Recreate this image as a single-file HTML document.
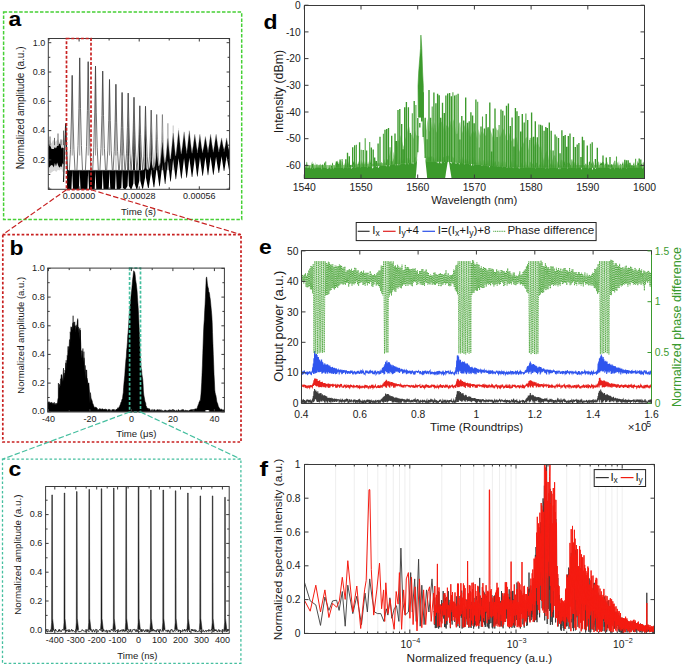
<!DOCTYPE html><html><head><meta charset="utf-8"><style>html,body{margin:0;padding:0;background:#fff;}svg{display:block;}</style></head><body><svg width="685" height="666" viewBox="0 0 685 666" style="font-family:'Liberation Sans', sans-serif"><rect width="685" height="666" fill="#fff"/><g><clipPath id="ca"><rect x="48.3" y="38.5" width="181.3" height="150.8"/></clipPath><g clip-path="url(#ca)"><path d="M48.3,147.5 49.4,145.5 50.5,146.2 51.6,149 52.7,149.1 53.8,148.9 54.9,146.9 56,148.6 57.1,145.7 58.2,146 59.3,143.6 60.4,144.3 61.5,148.5 62.6,147.5 63.7,148.3 63.7,164.5 62.6,163.2 61.5,167.3 60.4,166.3 59.3,167.7 58.2,165.6 57.1,162.4 56,166.6 54.9,163.1 53.8,167.4 52.7,165.4 51.6,165 50.5,165.8 49.4,167.5 48.3,167.1Z" fill="#000" stroke="none" stroke-width="0"/><path d="M48.3,140 49.9,140.6 51.5,143.4 53.1,139.8 54.7,141.9 56.3,141.1 57.9,139.1 59.5,142.4 61.1,140.7 62.7,139.5 64.3,138 64.3,173.1 62.7,172.1 61.1,168.7 59.5,170.5 57.9,169.7 56.3,172.1 54.7,170.4 53.1,171.3 51.5,172.6 49.9,173.4 48.3,171.6Z" fill="rgba(0,0,0,0.16)" stroke="none" stroke-width="0"/><line x1="50" y1="145.2" x2="50" y2="136.5" stroke="#555" stroke-width="0.9"/><line x1="54.5" y1="145.2" x2="54.5" y2="137.9" stroke="#555" stroke-width="0.9"/><line x1="58" y1="145.2" x2="58" y2="133.5" stroke="#555" stroke-width="0.9"/><line x1="61" y1="145.2" x2="61" y2="139.4" stroke="#555" stroke-width="0.9"/><line x1="63.5" y1="145.2" x2="63.5" y2="130.6" stroke="#555" stroke-width="0.9"/><path d="M63.5,181.9 65.7,123.3 67.5,174.5" fill="none" stroke="#222" stroke-width="1.2"/><path d="M67,170.2 70.7,170.2 71.2,170.2 72.2,170.2 73.2,170.2 73.7,170.2 76,170.2 78.2,170.2 78.7,170.2 79.7,170.2 80.7,170.2 81.2,170.2 84,170.2 86.7,170.2 87.2,170.2 88.2,170.2 89.2,170.2 89.7,170.2 91.8,170.2 94,170.2 94.5,170.2 95.5,170.2 96.5,170.2 97,170.2 99.1,170.2 101.2,170.2 101.7,170.2 102.7,170.2 103.7,170.2 104.2,170.2 106.1,170.2 108,170.2 108.5,170.2 109.5,170.2 110.5,170.2 111,170.2 112.7,170.2 114.4,170.2 114.9,170.2 115.9,170.2 116.9,170.2 117.4,170.2 119,170.2 120.6,170.2 121.1,170.2 122.1,170.2 123.1,170.2 123.6,170.2 125.1,170.2 126.7,170.2 127.2,170.2 128.2,170.2 129.2,170.2 129.7,170.2 131.1,170.2 132.5,170.2 133,170.2 134,170.2 135,170.2 135.5,170.2 136.9,170.2 138.3,170.2 138.8,170.2 139.8,170.2 140.8,170.2 141.3,170.2 142.7,170.1 144,169.7 144.5,169 145.5,167.5 146.5,169 147,169.7 148.3,169.3 149.5,168.3 150.1,165.8 151.2,160.8 152.3,165.8 152.9,168.3 153.9,167.7 154.9,166 155.5,161.7 156.7,152.8 157.9,161.7 158.5,166 159.6,165.3 160.3,162.7 161,156.1 162.4,142.5 163.8,156.1 164.5,162.7 165.2,162.2 165.7,159 166.5,152.5 167.9,138.4 169.3,152.5 170.1,159 170.6,158.8 170.9,155.4 171.7,148.3 173.2,133.1 174.7,148.3 175.5,155.4 175.9,155.7 176.2,152.7 177,145.7 178.6,130.3 180.2,145.7 181,152.7 181.3,154.1 181.6,151.5 182.5,145.5 184.1,131.8 185.7,145.5 186.6,151.5 186.7,153.5 186.9,151.2 187.7,144.9 189.3,130.6 190.9,144.9 191.7,151.2 192.1,153.3 192.3,150.9 193.2,146.1 194.8,134.3 196.5,146.1 197.3,150.9 197.4,153 197.6,150.7 198.4,145.9 199.9,134.3 201.4,145.9 202.2,150.7 202.7,152.8 202.9,150.5 203.8,146.5 205.4,136.5 207.1,146.5 207.9,150.5 208,152.6 208.2,150.2 209,145.6 210.6,134.3 212.2,145.6 213,150.2 213.3,152.3 213.6,150 214.4,145.4 216.1,134.3 217.8,145.4 218.6,150 218.8,152.1 219.1,149.7 219.9,146.6 221.6,137.9 223.2,146.6 224.1,149.7 224.1,151.8 224.3,149.5 225.1,146.4 226.6,137.9 228.1,146.4 228.9,149.5 229.3,151.6 229.5,149.3 230.4,146.3 232,137.9 233.6,146.3 234.5,149.3 234.7,151.4 234.9,149 235.7,146.1 237.3,137.9 238.9,146.1 239.7,149 237.5,157.1 237.3,155.6 237.2,157.1 234.9,170.4 234.4,170.4 232.2,157.3 232,155.9 231.8,157.3 229.6,170.6 229.1,170.6 226.8,157.6 226.6,156.1 226.4,157.6 224.3,171.1 223.8,171.1 221.8,157.8 221.6,156.3 221.4,157.8 219.1,173.1 218.6,173.1 216.2,158 216.1,156.6 215.9,158 213.6,174.7 213.1,174.7 210.8,158.3 210.6,156.8 210.4,158.3 208.2,175.2 207.8,175.2 205.6,158.5 205.4,157.1 205.2,158.5 202.9,175.8 202.4,175.8 200.1,158.8 199.9,157.3 199.8,158.8 197.6,176.4 197.1,176.4 195,159 194.8,157.5 194.7,159 192.3,177.1 191.8,177.1 189.5,159.3 189.3,157.8 189.2,159.3 186.9,177.8 186.4,177.8 184.2,159.5 184.1,158 183.9,159.5 181.6,178.5 181.1,178.5 178.8,159.7 178.6,158.3 178.4,159.7 176.1,179.3 175.6,179.3 173.3,160.4 173.2,158.9 173,160.4 170.8,181.4 170.3,181.4 168.1,162.3 167.9,160.4 167.7,162.3 165.4,183.9 164.9,183.9 162.6,165.5 162.4,162.3 162.2,165.5 159.8,186.3 159.3,186.3 157,169.6 156.7,164.4 156.4,169.6 154.3,187.2 153.6,187.2 151.5,173.6 151.2,166.2 150.9,173.6 148.7,188 148,188 145.9,177.4 145.5,167.6 145.1,177.4 143,188.8 142.3,188.8 140.3,180.7 139.8,168.7 139.3,180.7 137.3,189.2 136.5,189.2 134.6,183.6 134,169.5 133.4,183.6 131.5,189.2 130.7,189.2 128.9,186 128.2,170 127.5,186 125.6,189.2 124.7,189.2 122.9,187.9 122.1,170.2 121.3,187.9 119.5,189.2 118.5,189.2 116.7,189 115.9,170.2 115.1,189 113.2,189.2 112.2,189.2 110.3,189.2 109.5,170.2 108.7,189.2 106.6,189.2 105.6,189.2 103.5,189.2 102.7,170.2 101.9,189.2 99.6,189.2 98.6,189.2 96.3,189.2 95.5,170.2 94.7,189.2 92.3,189.2 91.3,189.2 89,189.2 88.2,170.2 87.4,189.2 84.5,189.2 83.5,189.2 80.5,189.2 79.7,170.2 78.9,189.2 76.5,189.2 75.5,189.2 73,189.2 72.2,170.2 71.4,189.2 67,189.2Z" fill="#000" stroke="none" stroke-width="0"/><path d="M70.7,170.2 71.2,170.2 72.2,170.2 73.2,170.2 73.7,170.2 76,170.2 78.2,170.2 78.7,170.2 79.7,170.2 80.7,170.2 81.2,170.2 84,170.2 86.7,170.2 87.2,170.2 88.2,170.2 89.2,170.2 89.7,170.2 91.8,170.2 94,170.2 94.5,170.2 95.5,170.2 96.5,170.2 97,170.2 99.1,170.2 101.2,170.2 101.7,170.2 102.7,170.2 103.7,170.2 104.2,170.2 106.1,170.2 108,170.2 108.5,170.2 109.5,170.2 110.5,170.2 111,170.2 112.7,170.2 114.4,170.2 114.9,170.2 115.9,170.2 116.9,170.2 117.4,170.2 119,170.2 120.6,170.2 121.1,170.2 122.1,170.2 123.1,170.2 123.6,170.2 125.1,170.2 126.7,170.2 127.2,170.2 128.2,170.2 129.2,170.2 129.7,170.2 131.1,170.2 132.5,170.2 133,170.2 134,170.2 135,170.2 135.5,170.2 136.9,170.2 138.3,170.2 138.8,170.2 139.8,170.2 140.8,170.2 141.3,170.2 142.7,170.1 144,169.7 144.5,169 145.5,167.5 146.5,169 147,169.7 148.3,169.3 149.5,168.3 150.1,165.8 151.2,160.8 152.3,165.8 152.9,168.3 153.9,167.7 154.9,166 155.5,161.7 156.7,152.8 157.9,161.7 158.5,166 159.6,165.3 160.3,162.7 161,156.1 162.4,142.5 163.8,156.1 164.5,162.7 165.2,162.2 165.7,159 166.5,152.5 167.9,138.4 169.3,152.5 170.1,159 170.6,158.8 170.9,155.4 171.7,148.3 173.2,133.1 174.7,148.3 175.5,155.4 175.9,155.7 176.2,152.7 177,145.7 178.6,130.3 180.2,145.7 181,152.7 181.3,154.1 181.6,151.5 182.5,145.5 184.1,131.8 185.7,145.5 186.6,151.5 186.7,153.5 186.9,151.2 187.7,144.9 189.3,130.6 190.9,144.9 191.7,151.2 192.1,153.3 192.3,150.9 193.2,146.1 194.8,134.3 196.5,146.1 197.3,150.9 197.4,153 197.6,150.7 198.4,145.9 199.9,134.3 201.4,145.9 202.2,150.7 202.7,152.8 202.9,150.5 203.8,146.5 205.4,136.5 207.1,146.5 207.9,150.5 208,152.6 208.2,150.2 209,145.6 210.6,134.3 212.2,145.6 213,150.2 213.3,152.3 213.6,150 214.4,145.4 216.1,134.3 217.8,145.4 218.6,150 218.8,152.1 219.1,149.7 219.9,146.6 221.6,137.9 223.2,146.6 224.1,149.7 224.1,151.8 224.3,149.5 225.1,146.4 226.6,137.9 228.1,146.4 228.9,149.5 229.3,151.6 229.5,149.3 230.4,146.3 232,137.9 233.6,146.3 234.5,149.3 234.7,151.4 234.9,149 235.7,146.1 237.3,137.9 238.9,146.1 239.7,149" fill="none" stroke="#777" stroke-width="0.7" stroke-opacity="0.45"/><path d="M69.4,170.2 L70.5,149.3 L71.4,118 L72.2,75.4 L73,118 L73.9,149.3 L75,170.2" fill="none" stroke="#5a5a5a" stroke-width="0.85" stroke-opacity="1.00"/><line x1="72.2" y1="75.4" x2="72.2" y2="155.5" stroke="#2a2a2a" stroke-width="0.8" stroke-opacity="0.60"/><path d="M76.9,170.2 L78,145.5 L78.9,108.4 L79.7,57.9 L80.5,108.4 L81.4,145.5 L82.5,170.2" fill="none" stroke="#5a5a5a" stroke-width="0.85" stroke-opacity="1.00"/><line x1="79.7" y1="57.9" x2="79.7" y2="155.5" stroke="#2a2a2a" stroke-width="0.8" stroke-opacity="0.60"/><path d="M85.4,170.2 L86.5,146.3 L87.4,110.5 L88.2,61.7 L89,110.5 L89.9,146.3 L91,170.2" fill="none" stroke="#5a5a5a" stroke-width="0.85" stroke-opacity="1.00"/><line x1="88.2" y1="61.7" x2="88.2" y2="155.5" stroke="#2a2a2a" stroke-width="0.8" stroke-opacity="0.60"/><path d="M92.7,170.2 L93.8,147.3 L94.7,112.9 L95.5,66.1 L96.3,112.9 L97.2,147.3 L98.3,170.2" fill="none" stroke="#5a5a5a" stroke-width="0.85" stroke-opacity="1.00"/><line x1="95.5" y1="66.1" x2="95.5" y2="155.5" stroke="#2a2a2a" stroke-width="0.8" stroke-opacity="0.60"/><path d="M99.9,170.2 L101,148.4 L101.9,115.7 L102.7,71.1 L103.5,115.7 L104.4,148.4 L105.5,170.2" fill="none" stroke="#5a5a5a" stroke-width="0.85" stroke-opacity="1.00"/><line x1="102.7" y1="71.1" x2="102.7" y2="155.5" stroke="#2a2a2a" stroke-width="0.8" stroke-opacity="0.60"/><path d="M106.7,170.2 L107.8,150.2 L108.7,120.3 L109.5,79.5 L110.3,120.3 L111.2,150.2 L112.3,170.2" fill="none" stroke="#5a5a5a" stroke-width="0.85" stroke-opacity="1.00"/><line x1="109.5" y1="79.5" x2="109.5" y2="155.5" stroke="#2a2a2a" stroke-width="0.8" stroke-opacity="0.60"/><path d="M113.1,170.2 L114.2,151.3 L115.1,122.9 L115.9,84.3 L116.7,122.9 L117.6,151.3 L118.7,170.2" fill="none" stroke="#5a5a5a" stroke-width="0.85" stroke-opacity="1.00"/><line x1="115.9" y1="84.3" x2="115.9" y2="155.5" stroke="#2a2a2a" stroke-width="0.8" stroke-opacity="0.60"/><path d="M114.8,170.2 L115.9,110.1 L117,170.2 Z" fill="#000" fill-opacity="0.15"/><path d="M119.3,170.2 L120.4,153.1 L121.3,127.5 L122.1,92.5 L122.9,127.5 L123.8,153.1 L124.9,170.2" fill="none" stroke="#5a5a5a" stroke-width="0.85" stroke-opacity="1.00"/><line x1="122.1" y1="92.5" x2="122.1" y2="155.5" stroke="#2a2a2a" stroke-width="0.8" stroke-opacity="0.60"/><path d="M121,170.2 L122.1,115.8 L123.2,170.2 Z" fill="#000" fill-opacity="0.41"/><path d="M125.4,170.2 L126.5,153.2 L127.4,127.8 L128.2,93.1 L129,127.8 L129.9,153.2 L131,170.2" fill="none" stroke="#5a5a5a" stroke-width="0.85" stroke-opacity="1.00"/><line x1="128.2" y1="93.1" x2="128.2" y2="155.5" stroke="#2a2a2a" stroke-width="0.8" stroke-opacity="0.60"/><path d="M127.1,170.2 L128.2,116.2 L129.3,170.2 Z" fill="#000" fill-opacity="0.69"/><path d="M131.2,170.2 L132.3,154.1 L133.2,130.1 L134,97.3 L134.8,130.1 L135.7,154.1 L136.8,170.2" fill="none" stroke="#5a5a5a" stroke-width="0.85" stroke-opacity="1.00"/><line x1="134" y1="97.3" x2="134" y2="155.5" stroke="#2a2a2a" stroke-width="0.8" stroke-opacity="0.60"/><path d="M132.9,170.2 L134,119.2 L135.1,170.2 Z" fill="#000" fill-opacity="0.91"/><path d="M137,170.2 L138.1,156 L139,134.8 L139.8,105.8 L140.6,134.8 L141.5,156 L142.6,170.2" fill="none" stroke="#5a5a5a" stroke-width="0.85" stroke-opacity="1.00"/><line x1="139.8" y1="105.8" x2="139.8" y2="155.5" stroke="#2a2a2a" stroke-width="0.8" stroke-opacity="0.60"/><path d="M138.7,170.2 L139.8,125.1 L140.9,170.2 Z" fill="#000" fill-opacity="1.00"/><path d="M142.7,170.2 L143.8,156.1 L144.7,135 L145.5,106.3 L146.3,135 L147.2,156.1 L148.3,170.2" fill="none" stroke="#5a5a5a" stroke-width="0.85" stroke-opacity="0.96"/><line x1="145.5" y1="106.3" x2="145.5" y2="155.5" stroke="#2a2a2a" stroke-width="0.8" stroke-opacity="0.58"/><path d="M144.4,170.2 L145.5,125.4 L146.6,170.2 Z" fill="#000" fill-opacity="0.96"/><path d="M148.4,170.2 L149.5,156.9 L150.4,137.1 L151.2,110.1 L152,137.1 L152.9,156.9 L154,170.2" fill="none" stroke="#5a5a5a" stroke-width="0.85" stroke-opacity="0.84"/><line x1="151.2" y1="110.1" x2="151.2" y2="155.5" stroke="#2a2a2a" stroke-width="0.8" stroke-opacity="0.51"/><path d="M150.1,170.2 L151.2,128.1 L152.3,170.2 Z" fill="#000" fill-opacity="0.84"/><path d="M153.9,170.2 L155,157.9 L155.9,139.5 L156.7,114.5 L157.5,139.5 L158.4,157.9 L159.5,170.2" fill="none" stroke="#5a5a5a" stroke-width="0.85" stroke-opacity="0.69"/><line x1="156.7" y1="114.5" x2="156.7" y2="155.5" stroke="#2a2a2a" stroke-width="0.8" stroke-opacity="0.41"/><path d="M155.6,170.2 L156.7,131.2 L157.8,170.2 Z" fill="#000" fill-opacity="0.69"/><path d="M159.6,170.2 L160.7,157.9 L161.6,139.5 L162.4,114.5 L163.2,139.5 L164.1,157.9 L165.2,170.2" fill="none" stroke="#5a5a5a" stroke-width="0.85" stroke-opacity="0.50"/><line x1="162.4" y1="114.5" x2="162.4" y2="155.5" stroke="#2a2a2a" stroke-width="0.8" stroke-opacity="0.30"/><path d="M161.3,170.2 L162.4,131.2 L163.5,170.2 Z" fill="#000" fill-opacity="0.50"/><path d="M165.1,170.2 L166.2,159.8 L167.1,144.4 L167.9,123.3 L168.7,144.4 L169.6,159.8 L170.7,170.2" fill="none" stroke="#5a5a5a" stroke-width="0.85" stroke-opacity="0.32"/><line x1="167.9" y1="123.3" x2="167.9" y2="155.5" stroke="#2a2a2a" stroke-width="0.8" stroke-opacity="0.19"/><path d="M166.8,170.2 L167.9,137.3 L169,170.2 Z" fill="#000" fill-opacity="0.32"/><path d="M170.4,170.2 L171.5,160.3 L172.4,145.6 L173.2,125.5 L174,145.6 L174.9,160.3 L176,170.2" fill="none" stroke="#5a5a5a" stroke-width="0.85" stroke-opacity="0.17"/><line x1="173.2" y1="125.5" x2="173.2" y2="155.5" stroke="#2a2a2a" stroke-width="0.8" stroke-opacity="0.10"/><path d="M172.1,170.2 L173.2,138.9 L174.3,170.2 Z" fill="#000" fill-opacity="0.17"/><path d="M175.8,170.2 L176.9,160.9 L177.8,146.9 L178.6,128 L179.4,146.9 L180.3,160.9 L181.4,170.2" fill="none" stroke="#5a5a5a" stroke-width="0.85" stroke-opacity="0.05"/><line x1="178.6" y1="128" x2="178.6" y2="155.5" stroke="#2a2a2a" stroke-width="0.8" stroke-opacity="0.03"/><path d="M177.5,170.2 L178.6,140.6 L179.7,170.2 Z" fill="#000" fill-opacity="0.05"/></g></g><rect x="48.3" y="38.5" width="181.3" height="150.8" fill="none" stroke="#3a3a3a" stroke-width="1"/><line x1="48.3" y1="189.2" x2="51.3" y2="189.2" stroke="#3a3a3a" stroke-width="1"/><line x1="229.6" y1="189.2" x2="226.6" y2="189.2" stroke="#3a3a3a" stroke-width="1"/><line x1="48.3" y1="174.5" x2="50.3" y2="174.5" stroke="#3a3a3a" stroke-width="1"/><line x1="229.6" y1="174.5" x2="227.6" y2="174.5" stroke="#3a3a3a" stroke-width="1"/><line x1="48.3" y1="159.9" x2="51.3" y2="159.9" stroke="#3a3a3a" stroke-width="1"/><line x1="229.6" y1="159.9" x2="226.6" y2="159.9" stroke="#3a3a3a" stroke-width="1"/><line x1="48.3" y1="145.2" x2="50.3" y2="145.2" stroke="#3a3a3a" stroke-width="1"/><line x1="229.6" y1="145.2" x2="227.6" y2="145.2" stroke="#3a3a3a" stroke-width="1"/><line x1="48.3" y1="130.6" x2="51.3" y2="130.6" stroke="#3a3a3a" stroke-width="1"/><line x1="229.6" y1="130.6" x2="226.6" y2="130.6" stroke="#3a3a3a" stroke-width="1"/><line x1="48.3" y1="115.9" x2="50.3" y2="115.9" stroke="#3a3a3a" stroke-width="1"/><line x1="229.6" y1="115.9" x2="227.6" y2="115.9" stroke="#3a3a3a" stroke-width="1"/><line x1="48.3" y1="101.3" x2="51.3" y2="101.3" stroke="#3a3a3a" stroke-width="1"/><line x1="229.6" y1="101.3" x2="226.6" y2="101.3" stroke="#3a3a3a" stroke-width="1"/><line x1="48.3" y1="86.6" x2="50.3" y2="86.6" stroke="#3a3a3a" stroke-width="1"/><line x1="229.6" y1="86.6" x2="227.6" y2="86.6" stroke="#3a3a3a" stroke-width="1"/><line x1="48.3" y1="72" x2="51.3" y2="72" stroke="#3a3a3a" stroke-width="1"/><line x1="229.6" y1="72" x2="226.6" y2="72" stroke="#3a3a3a" stroke-width="1"/><line x1="48.3" y1="57.3" x2="50.3" y2="57.3" stroke="#3a3a3a" stroke-width="1"/><line x1="229.6" y1="57.3" x2="227.6" y2="57.3" stroke="#3a3a3a" stroke-width="1"/><line x1="48.3" y1="42.7" x2="51.3" y2="42.7" stroke="#3a3a3a" stroke-width="1"/><line x1="229.6" y1="42.7" x2="226.6" y2="42.7" stroke="#3a3a3a" stroke-width="1"/><line x1="49" y1="189.3" x2="49" y2="187.3" stroke="#3a3a3a" stroke-width="1"/><line x1="49" y1="38.5" x2="49" y2="40.5" stroke="#3a3a3a" stroke-width="1"/><line x1="79.1" y1="189.3" x2="79.1" y2="186.3" stroke="#3a3a3a" stroke-width="1"/><line x1="79.1" y1="38.5" x2="79.1" y2="41.5" stroke="#3a3a3a" stroke-width="1"/><line x1="109.1" y1="189.3" x2="109.1" y2="187.3" stroke="#3a3a3a" stroke-width="1"/><line x1="109.1" y1="38.5" x2="109.1" y2="40.5" stroke="#3a3a3a" stroke-width="1"/><line x1="139.2" y1="189.3" x2="139.2" y2="186.3" stroke="#3a3a3a" stroke-width="1"/><line x1="139.2" y1="38.5" x2="139.2" y2="41.5" stroke="#3a3a3a" stroke-width="1"/><line x1="169.2" y1="189.3" x2="169.2" y2="187.3" stroke="#3a3a3a" stroke-width="1"/><line x1="169.2" y1="38.5" x2="169.2" y2="40.5" stroke="#3a3a3a" stroke-width="1"/><line x1="199.3" y1="189.3" x2="199.3" y2="186.3" stroke="#3a3a3a" stroke-width="1"/><line x1="199.3" y1="38.5" x2="199.3" y2="41.5" stroke="#3a3a3a" stroke-width="1"/><line x1="229.3" y1="189.3" x2="229.3" y2="187.3" stroke="#3a3a3a" stroke-width="1"/><line x1="229.3" y1="38.5" x2="229.3" y2="40.5" stroke="#3a3a3a" stroke-width="1"/><rect x="66.5" y="38.5" width="24.5" height="151.2" fill="none" stroke="#c82020" stroke-width="1.7" stroke-dasharray="3 1.8"/><text x="45.2" y="45.5" font-size="9" text-anchor="end" fill="#1a1a1a">1.0</text><text x="45.2" y="74.8" font-size="9" text-anchor="end" fill="#1a1a1a">0.8</text><text x="45.2" y="104.1" font-size="9" text-anchor="end" fill="#1a1a1a">0.6</text><text x="45.2" y="133.4" font-size="9" text-anchor="end" fill="#1a1a1a">0.4</text><text x="45.2" y="162.7" font-size="9" text-anchor="end" fill="#1a1a1a">0.2</text><text x="79.1" y="199.3" font-size="9" text-anchor="middle" fill="#1a1a1a">0.00000</text><text x="139.2" y="199.3" font-size="9" text-anchor="middle" fill="#1a1a1a">0.00028</text><text x="199.3" y="199.3" font-size="9" text-anchor="middle" fill="#1a1a1a">0.00056</text><text x="138.5" y="215" font-size="9.6" text-anchor="middle" fill="#1a1a1a">Time (s)</text><text x="23.7" y="107.9" font-size="10" text-anchor="middle" fill="#1a1a1a" transform="rotate(-90 23.7 107.9)">Normalized amplitude (a.u.)</text><clipPath id="cb"><rect x="47.7" y="268.1" width="176.7" height="143.89999999999998"/></clipPath><g clip-path="url(#cb)"><path d="M46.3,411.8 46.3,410.5 46.7,409.9 47.1,411 47.4,402.4 47.8,403.8 48.2,402 48.6,401.8 48.9,402.5 49.3,401.7 49.7,403.4 50.1,402.4 50.4,402.7 50.8,402.9 51.2,403.3 51.6,402.3 51.9,402.1 52.3,403.5 52.7,403 53,404.8 53.4,403 53.8,403.2 54.2,402.3 54.5,402.8 54.9,404.4 55.3,404.2 55.7,403.4 56,404.9 56.4,403.2 56.8,403.6 57.2,403.3 57.5,403 57.9,399.3 58.3,398.3 58.7,400.5 59,388.8 59.4,384.2 59.8,384.9 60.1,386.2 60.5,378.9 60.9,379 61.3,374.8 61.6,377.6 62,378.2 62.4,381.8 62.8,375.8 63.1,373.9 63.5,368.1 63.9,381 64.3,373 64.6,377.6 65,370.1 65.4,371.5 65.7,362.8 66.1,369.7 66.5,363.5 66.9,363 67.2,355.4 67.6,356.7 68,346.4 68.4,352 68.7,346.6 69.1,347.8 69.5,339.5 69.9,349.5 70.2,331.8 70.6,334.5 71,326.7 71.3,329.6 71.7,327 72.1,330.5 72.5,325.4 72.8,323.3 73.2,322.5 73.6,329.8 74,322 74.3,329.5 74.7,321.8 75.1,331.9 75.5,325.8 75.8,331 76.2,324.8 76.6,328.2 77,325.5 77.3,321.6 77.7,320.2 78.1,332.8 78.4,326.9 78.8,333.6 79.2,329.1 79.6,339.7 79.9,327.9 80.3,335.3 80.7,341.8 81.1,351.3 81.4,350.8 81.8,358.6 82.2,350.7 82.6,358.8 82.9,348.5 83.3,362.7 83.7,360 84,357.7 84.4,360.4 84.8,373.2 85.2,365.4 85.5,379.9 85.9,369.8 86.3,370.8 86.7,369.9 87,377.7 87.4,378.7 87.8,385.2 88.2,382.8 88.5,383.2 88.9,382.9 89.3,389.1 89.7,393.1 90,403.5 90.4,392.6 90.8,395.6 91.1,398.2 91.5,399.2 91.9,400.2 92.3,401.3 92.6,403.7 93,403.6 93.4,404.9 93.8,406.1 94.1,406.9 94.5,407.2 94.9,407.5 95.3,407.1 95.6,406.9 96,408.1 96.4,407.6 96.7,407.8 97.1,408.1 97.5,409.2 97.9,409.5 98.2,409.5 98.6,409.6 99,409.6 99.4,408.9 99.7,408.5 100.1,408.6 100.5,409.2 100.9,409 101.2,408.8 101.6,410 102,409.1 102.3,408.7 102.7,408.9 103.1,409 103.5,409.5 103.8,410.1 104.2,409 104.6,409.9 105,409.1 105.3,408.8 105.7,409.8 106.1,409.9 106.5,409 106.8,409.4 107.2,410.4 107.6,410.5 108,410.5 108.3,409.2 108.7,409.4 109.1,410.6 109.4,409.4 109.8,409.2 110.2,409.8 110.6,410.3 110.9,410 111.3,410.7 111.7,410.9 112.1,409.3 112.4,409.8 112.8,410 113.2,409.3 113.6,410.2 113.9,409.4 114.3,409.5 114.7,410.6 115,410.5 115.4,410.2 115.8,410 116.2,409.2 116.5,409.5 116.9,409 117.3,409.3 117.7,407.7 118,408.4 118.4,408 118.8,407.5 119.2,406.7 119.5,407.3 119.9,405.2 120.3,404.6 120.7,403.3 121,402.1 121.4,402.3 121.8,399.8 122.1,399.3 122.5,398.6 122.9,395 123.3,392.6 123.6,387.6 124,382.7 124.4,379 124.8,375.1 125.1,369.8 125.5,365 125.9,359.7 126.3,357 126.6,351 127,347.2 127.4,342.4 127.7,336.3 128.1,332.3 128.5,326.9 128.9,321.1 129.2,315.4 129.6,311.5 130,306.8 130.4,303.3 130.7,299.5 131.1,295.1 131.5,292 131.9,287.9 132.2,284.5 132.6,279.7 133,276.8 133.4,272.8 133.7,270.7 134.1,271.5 134.5,271.8 134.8,272.7 135.2,275.2 135.6,279.7 136,282.3 136.3,284 136.7,287.6 137.1,291.3 137.5,297.8 137.8,302 138.2,307.7 138.6,314.5 139,324.3 139.3,330.3 139.7,339.6 140.1,350.5 140.4,356.5 140.8,362.3 141.2,368.8 141.6,369.6 141.9,374 142.3,376.6 142.7,379 143.1,384.2 143.4,391 143.8,395 144.2,397 144.6,399.1 144.9,401.1 145.3,402.3 145.7,402.7 146,405.7 146.4,406.3 146.8,407.5 147.2,408.5 147.5,408.3 147.9,408.1 148.3,408.6 148.7,409.7 149,408.4 149.4,409.1 149.8,409.1 150.2,410.8 150.5,410.5 150.9,410.9 151.3,409.6 151.7,410.5 152,410.7 152.4,410.2 152.8,409.4 153.1,409.6 153.5,410.5 153.9,410.7 154.3,409.4 154.6,410 155,409.8 155.4,410.9 155.8,410.9 156.1,409.8 156.5,410.3 156.9,410.9 157.3,409.4 157.6,409.9 158,409.7 158.4,410.9 158.7,409.6 159.1,410.9 159.5,409.6 159.9,410.3 160.2,410.5 160.6,410.1 161,409.5 161.4,410.6 161.7,410.9 162.1,410.2 162.5,410.7 162.9,410.9 163.2,410.8 163.6,411 164,410.8 164.4,410.6 164.7,410.6 165.1,409.8 165.5,410.6 165.8,410.3 166.2,410.8 166.6,410.6 167,411.1 167.3,410.7 167.7,411.1 168.1,409.9 168.5,410.2 168.8,410.8 169.2,410.4 169.6,409.6 170,411 170.3,409.8 170.7,410.5 171.1,410.4 171.4,409.8 171.8,410.5 172.2,410.3 172.6,410 172.9,409.5 173.3,410.6 173.7,409.8 174.1,410 174.4,410.1 174.8,410.5 175.2,410.6 175.6,411.1 175.9,411 176.3,411.1 176.7,409.9 177,410.7 177.4,410.9 177.8,411 178.2,409.7 178.5,409.6 178.9,410 179.3,410.6 179.7,410.7 180,410.6 180.4,410.3 180.8,410.8 181.2,410.3 181.5,410.6 181.9,409.4 182.3,409.4 182.7,410.1 183,410.7 183.4,409.4 183.8,410.5 184.1,410.4 184.5,411.1 184.9,410.4 185.3,410.2 185.6,410.2 186,410.7 186.4,410.2 186.8,411 187.1,410.6 187.5,410.9 187.9,410.3 188.3,410.9 188.6,411 189,410.5 189.4,410.6 189.7,410 190.1,410.1 190.5,409.7 190.9,409.8 191.2,409.7 191.6,409.4 192,410.3 192.4,410.4 192.7,409.2 193.1,410.5 193.5,409.5 193.9,409.5 194.2,410.4 194.6,409 195,408.8 195.4,409.1 195.7,408.8 196.1,408.6 196.5,409.6 196.8,408.8 197.2,407.9 197.6,406.4 198,405.5 198.3,404.5 198.7,403.9 199.1,402 199.5,401.7 199.8,400.7 200.2,401.1 200.6,397.9 201,393.8 201.3,389.1 201.7,382.2 202.1,372.5 202.4,365.2 202.8,353.4 203.2,341.9 203.6,331 203.9,324.9 204.3,319.6 204.7,310.7 205.1,304.2 205.4,297.8 205.8,287.6 206.2,278.4 206.6,276.9 206.9,278.4 207.3,283.1 207.7,285.9 208.1,287.5 208.4,288.3 208.8,291.9 209.2,292.3 209.5,293.6 209.9,297 210.3,299.3 210.7,303.2 211,306.8 211.4,310.8 211.8,315.4 212.2,322.4 212.5,332.4 212.9,343.3 213.3,354.5 213.7,364.6 214,374 214.4,380.9 214.8,390.1 215.1,392.6 215.5,394.3 215.9,395.5 216.3,397.7 216.6,400 217,402.3 217.4,402.8 217.8,404.1 218.1,405.3 218.5,407.1 218.9,406.9 219.3,409.3 219.6,408.2 220,408.4 220.4,410.1 220.7,409.5 221.1,409 221.5,408.9 221.9,409.9 222.2,410.3 222.6,410.6 223,409.3 223.4,410.6 223.7,410 224.1,410.8 224.5,410.2 224.9,409.4 225.2,410.9 225.6,409.7 226,410.3 226.4,409.7 226.7,410 226.9,411.8Z" fill="#000" stroke="#000" stroke-width="0.5"/><ellipse cx="207.3" cy="411.0" rx="2.2" ry="0.9" fill="#fff"/><line x1="58.4" y1="404.6" x2="58.4" y2="383.1" stroke="#000" stroke-width="0.9"/><line x1="61.5" y1="404.6" x2="61.5" y2="374.5" stroke="#000" stroke-width="0.9"/><line x1="66.2" y1="404.6" x2="66.2" y2="360.2" stroke="#000" stroke-width="0.9"/><line x1="69.8" y1="404.6" x2="69.8" y2="350.1" stroke="#000" stroke-width="0.9"/><line x1="73.1" y1="404.6" x2="73.1" y2="315.7" stroke="#000" stroke-width="0.9"/><line x1="74.5" y1="404.6" x2="74.5" y2="325.8" stroke="#000" stroke-width="0.9"/><line x1="77.7" y1="404.6" x2="77.7" y2="318.6" stroke="#000" stroke-width="0.9"/><line x1="80.4" y1="404.6" x2="80.4" y2="330.1" stroke="#000" stroke-width="0.9"/><line x1="83.9" y1="404.6" x2="83.9" y2="351.6" stroke="#000" stroke-width="0.9"/><line x1="87.2" y1="404.6" x2="87.2" y2="380.3" stroke="#000" stroke-width="0.9"/></g><rect x="129.6" y="268.1" width="10.9" height="143.9" fill="none" stroke="#45bf9f" stroke-width="1.7" stroke-dasharray="3 1.8"/><rect x="47.7" y="268.1" width="176.7" height="143.9" fill="none" stroke="#3a3a3a" stroke-width="1"/><line x1="47.7" y1="411.8" x2="50.7" y2="411.8" stroke="#3a3a3a" stroke-width="1"/><line x1="224.4" y1="411.8" x2="221.4" y2="411.8" stroke="#3a3a3a" stroke-width="1"/><line x1="47.7" y1="397.5" x2="49.7" y2="397.5" stroke="#3a3a3a" stroke-width="1"/><line x1="224.4" y1="397.5" x2="222.4" y2="397.5" stroke="#3a3a3a" stroke-width="1"/><line x1="47.7" y1="383.1" x2="50.7" y2="383.1" stroke="#3a3a3a" stroke-width="1"/><line x1="224.4" y1="383.1" x2="221.4" y2="383.1" stroke="#3a3a3a" stroke-width="1"/><line x1="47.7" y1="368.8" x2="49.7" y2="368.8" stroke="#3a3a3a" stroke-width="1"/><line x1="224.4" y1="368.8" x2="222.4" y2="368.8" stroke="#3a3a3a" stroke-width="1"/><line x1="47.7" y1="354.4" x2="50.7" y2="354.4" stroke="#3a3a3a" stroke-width="1"/><line x1="224.4" y1="354.4" x2="221.4" y2="354.4" stroke="#3a3a3a" stroke-width="1"/><line x1="47.7" y1="340.1" x2="49.7" y2="340.1" stroke="#3a3a3a" stroke-width="1"/><line x1="224.4" y1="340.1" x2="222.4" y2="340.1" stroke="#3a3a3a" stroke-width="1"/><line x1="47.7" y1="325.8" x2="50.7" y2="325.8" stroke="#3a3a3a" stroke-width="1"/><line x1="224.4" y1="325.8" x2="221.4" y2="325.8" stroke="#3a3a3a" stroke-width="1"/><line x1="47.7" y1="311.4" x2="49.7" y2="311.4" stroke="#3a3a3a" stroke-width="1"/><line x1="224.4" y1="311.4" x2="222.4" y2="311.4" stroke="#3a3a3a" stroke-width="1"/><line x1="47.7" y1="297.1" x2="50.7" y2="297.1" stroke="#3a3a3a" stroke-width="1"/><line x1="224.4" y1="297.1" x2="221.4" y2="297.1" stroke="#3a3a3a" stroke-width="1"/><line x1="47.7" y1="282.7" x2="49.7" y2="282.7" stroke="#3a3a3a" stroke-width="1"/><line x1="224.4" y1="282.7" x2="222.4" y2="282.7" stroke="#3a3a3a" stroke-width="1"/><line x1="47.7" y1="268.4" x2="50.7" y2="268.4" stroke="#3a3a3a" stroke-width="1"/><line x1="224.4" y1="268.4" x2="221.4" y2="268.4" stroke="#3a3a3a" stroke-width="1"/><line x1="48.4" y1="412" x2="48.4" y2="409" stroke="#3a3a3a" stroke-width="1"/><line x1="48.4" y1="268.1" x2="48.4" y2="271.1" stroke="#3a3a3a" stroke-width="1"/><line x1="69.2" y1="412" x2="69.2" y2="410" stroke="#3a3a3a" stroke-width="1"/><line x1="69.2" y1="268.1" x2="69.2" y2="270.1" stroke="#3a3a3a" stroke-width="1"/><line x1="89.9" y1="412" x2="89.9" y2="409" stroke="#3a3a3a" stroke-width="1"/><line x1="89.9" y1="268.1" x2="89.9" y2="271.1" stroke="#3a3a3a" stroke-width="1"/><line x1="110.7" y1="412" x2="110.7" y2="410" stroke="#3a3a3a" stroke-width="1"/><line x1="110.7" y1="268.1" x2="110.7" y2="270.1" stroke="#3a3a3a" stroke-width="1"/><line x1="131.4" y1="412" x2="131.4" y2="409" stroke="#3a3a3a" stroke-width="1"/><line x1="131.4" y1="268.1" x2="131.4" y2="271.1" stroke="#3a3a3a" stroke-width="1"/><line x1="152.2" y1="412" x2="152.2" y2="410" stroke="#3a3a3a" stroke-width="1"/><line x1="152.2" y1="268.1" x2="152.2" y2="270.1" stroke="#3a3a3a" stroke-width="1"/><line x1="172.9" y1="412" x2="172.9" y2="409" stroke="#3a3a3a" stroke-width="1"/><line x1="172.9" y1="268.1" x2="172.9" y2="271.1" stroke="#3a3a3a" stroke-width="1"/><line x1="193.7" y1="412" x2="193.7" y2="410" stroke="#3a3a3a" stroke-width="1"/><line x1="193.7" y1="268.1" x2="193.7" y2="270.1" stroke="#3a3a3a" stroke-width="1"/><line x1="214.4" y1="412" x2="214.4" y2="409" stroke="#3a3a3a" stroke-width="1"/><line x1="214.4" y1="268.1" x2="214.4" y2="271.1" stroke="#3a3a3a" stroke-width="1"/><text x="44.9" y="270.9" font-size="9.2" text-anchor="end" fill="#1a1a1a">1.0</text><text x="44.9" y="299.6" font-size="9.2" text-anchor="end" fill="#1a1a1a">0.8</text><text x="44.9" y="328.3" font-size="9.2" text-anchor="end" fill="#1a1a1a">0.6</text><text x="44.9" y="356.9" font-size="9.2" text-anchor="end" fill="#1a1a1a">0.4</text><text x="44.9" y="385.6" font-size="9.2" text-anchor="end" fill="#1a1a1a">0.2</text><text x="44.9" y="414.3" font-size="9.2" text-anchor="end" fill="#1a1a1a">0.0</text><text x="48.4" y="422.3" font-size="9" text-anchor="middle" fill="#1a1a1a">-40</text><text x="89.9" y="422.3" font-size="9" text-anchor="middle" fill="#1a1a1a">-20</text><text x="131.4" y="422.3" font-size="9" text-anchor="middle" fill="#1a1a1a">0</text><text x="172.9" y="422.3" font-size="9" text-anchor="middle" fill="#1a1a1a">20</text><text x="214.4" y="422.3" font-size="9" text-anchor="middle" fill="#1a1a1a">40</text><text x="136.3" y="437" font-size="9.6" text-anchor="middle" fill="#1a1a1a">Time (μs)</text><text x="24.3" y="335.3" font-size="9.5" text-anchor="middle" fill="#1a1a1a" transform="rotate(-90 24.3 335.3)">Normalized amplitude (a.u.)</text><clipPath id="cc"><rect x="45.6" y="486.5" width="183.6" height="146.89999999999998"/></clipPath><g clip-path="url(#cc)"><path d="M45.6,631.4 46.1,629.5 46.5,630.7 47,632 47.4,632.1 47.9,630.7 48.3,630.8 48.8,631.2 49.2,631.7 49.7,631.1 50.1,631.2 50.6,629.7 51,632.1 51.5,629.9 51.9,629.7 52.4,631.8 52.8,629.4 53.3,630.1 53.7,629.5 54.2,631.3 54.6,631 55.1,631 55.5,629.2 56,630.4 56.4,631.1 56.9,630.9 57.3,631.3 57.8,632 58.2,631.8 58.7,629.7 59.1,631.3 59.6,629.4 60,631.4 60.5,631.3 60.9,630.6 61.4,631.6 61.8,631 62.3,629.4 62.7,629.6 63.2,629.8 63.6,630.3 64.1,629.5 64.5,629.4 65,630.5 65.4,630 65.9,632 66.3,630 66.8,630.8 67.2,629.9 67.7,630.2 68.1,631.3 68.6,632 69,629.4 69.5,631.7 69.9,630.7 70.4,631.1 70.8,631.2 71.3,630 71.7,629.3 72.2,631.4 72.6,630.2 73.1,631.2 73.5,630.5 74,631 74.4,631.6 74.9,631.6 75.3,631.5 75.8,629.5 76.2,630.7 76.7,631.5 77.1,629.5 77.6,629.2 78,630.8 78.5,631.7 78.9,631.5 79.4,631.8 79.8,631.1 80.3,631.8 80.7,631.4 81.2,631.4 81.6,630.5 82.1,629.5 82.5,629.9 83,630.9 83.4,630.9 83.9,630.6 84.3,631 84.8,631.1 85.2,631.9 85.7,631.3 86.1,629.3 86.6,631.7 87,630.7 87.5,630.3 87.9,629.6 88.4,631.5 88.8,631.3 89.3,631.4 89.7,631 90.2,630.8 90.6,629.4 91.1,629.7 91.5,629.6 92,632 92.4,632 92.9,630.1 93.3,629.5 93.8,630.7 94.2,630.4 94.7,632.1 95.1,631 95.6,629.4 96,629.7 96.5,629.6 96.9,629.3 97.4,631.4 97.8,631.8 98.3,631.7 98.7,630.6 99.2,630.1 99.6,629.4 100.1,630 100.5,630.2 101,629.9 101.4,630.8 101.9,630.5 102.3,632 102.8,629.9 103.2,631.4 103.7,629.5 104.1,630.2 104.6,631.2 105,631.7 105.5,631.4 105.9,630.3 106.4,630.1 106.8,631.8 107.3,631.9 107.7,630.6 108.2,630.4 108.6,631 109.1,631.5 109.5,630.4 110,632.1 110.4,631.2 110.9,630.8 111.3,629.3 111.8,630.2 112.2,629.6 112.7,630.7 113.1,631.4 113.6,631.4 114,629.3 114.5,630.1 114.9,631.2 115.4,632 115.8,630.7 116.3,630.2 116.7,630.9 117.2,631.4 117.6,630.2 118.1,629.4 118.5,631.5 119,632 119.4,631.1 119.9,630.9 120.3,630.1 120.8,631.5 121.2,629.8 121.7,630 122.1,630.6 122.6,631.5 123,629.3 123.5,631.2 123.9,629.7 124.4,631.4 124.8,631.5 125.3,629.9 125.7,631.3 126.2,629.4 126.6,630.7 127.1,631.6 127.5,631.5 128,630.9 128.4,630.2 128.9,629.4 129.3,631.7 129.8,631 130.2,631.5 130.7,629.3 131.1,631.7 131.6,632 132,631.9 132.5,631 132.9,629.5 133.4,629.6 133.8,630 134.3,629.2 134.7,629.4 135.2,631.2 135.6,631.6 136.1,629.4 136.5,630 137,632 137.4,630.2 137.9,631 138.3,631 138.8,631.1 139.2,631.6 139.7,632.1 140.1,631.3 140.6,631.1 141,629.4 141.5,631.7 141.9,629.3 142.4,631.5 142.8,631.1 143.3,629.7 143.7,629.7 144.2,630.9 144.6,632 145.1,630.7 145.5,631 146,629.5 146.4,631.5 146.9,631.1 147.3,629.5 147.8,632 148.2,630.9 148.7,629.8 149.1,629.9 149.5,632 150,632 150.4,631.9 150.9,629.5 151.3,631.4 151.8,630 152.2,629.5 152.7,631.1 153.1,631.3 153.6,629.3 154,630.3 154.5,631.3 154.9,630 155.4,631.2 155.8,631.3 156.3,632.1 156.7,629.9 157.2,629.5 157.6,630.3 158.1,629.4 158.5,632 159,631.4 159.4,630.7 159.9,629.3 160.3,629.4 160.8,631 161.2,631.4 161.7,630.9 162.1,630.7 162.6,629.4 163,631.6 163.5,629.8 163.9,630 164.4,629.7 164.8,629.9 165.3,630.4 165.7,631.2 166.2,631.2 166.6,631.1 167.1,629.9 167.5,631.9 168,631.5 168.4,629.9 168.9,631.4 169.3,631.9 169.8,632 170.2,630.5 170.7,631.2 171.1,629.3 171.6,629.6 172,629.3 172.5,631.3 172.9,631.9 173.4,631.8 173.8,630.7 174.3,630.1 174.7,630.8 175.2,631.4 175.6,630.9 176.1,630.3 176.5,630.2 177,629.9 177.4,629.7 177.9,630.2 178.3,631.8 178.8,629.7 179.2,631.3 179.7,630.5 180.1,631 180.6,630 181,631.5 181.5,631.4 181.9,631.4 182.4,631.7 182.8,629.6 183.3,630.4 183.7,631.2 184.2,631 184.6,629.2 185.1,630.6 185.5,631.4 186,629.8 186.4,630.2 186.9,629.3 187.3,631.8 187.8,630.7 188.2,629.7 188.7,629.7 189.1,629.5 189.6,632 190,631.3 190.5,631.8 190.9,631.6 191.4,629.3 191.8,630.4 192.3,629.4 192.7,631 193.2,629.6 193.6,630.8 194.1,631.4 194.5,629.9 195,629.4 195.4,631.8 195.9,630.4 196.3,630.3 196.8,631.5 197.2,631 197.7,631.7 198.1,631.5 198.6,631.4 199,630.4 199.5,630.2 199.9,631.5 200.4,632.1 200.8,631.2 201.3,630.2 201.7,631.6 202.2,631.2 202.6,631.5 203.1,629.8 203.5,630.5 204,631.9 204.4,631.8 204.9,631 205.3,630.5 205.8,630.3 206.2,631.8 206.7,631.6 207.1,630.1 207.6,630.9 208,631.3 208.5,631.2 208.9,629.4 209.4,631.2 209.8,630.5 210.3,631.1 210.7,630.9 211.2,629.6 211.6,629.2 212.1,631.1 212.5,631.5 213,630 213.4,631.5 213.9,632.1 214.3,629.5 214.8,630.9 215.2,629.7 215.7,630.9 216.1,629.6 216.6,630.8 217,631.6 217.5,632.1 217.9,630.5 218.4,630.3 218.8,629.5 219.3,631.8 219.7,630.3 220.2,631 220.6,630.7 221.1,631.7 221.5,631.3 222,630.6 222.4,629.4 222.9,631.8 223.3,630.7 223.8,629.8 224.2,629.3 224.7,631.5 225.1,631.7 225.6,629.4 226,629.3 226.5,630.7 226.9,632 227.4,629.4 227.8,631 228.3,629.5 228.7,630.3 229.2,629.7" fill="none" stroke="#222" stroke-width="0.9"/><path d="M51.1,629.8 51.6,622.6 51.8,494.9 52.4,494.9 52.6,618.3 53.9,629.8" fill="#1a1a1a" stroke="#1a1a1a" stroke-width="0.5"/><path d="M63.5,629.8 64,622.6 64.2,493 64.8,493 65,618.3 66.2,629.8" fill="#1a1a1a" stroke="#1a1a1a" stroke-width="0.5"/><path d="M75.8,629.8 76.3,622.6 76.5,491.6 77.1,491.6 77.3,618.3 78.6,629.8" fill="#1a1a1a" stroke="#1a1a1a" stroke-width="0.5"/><path d="M88.2,629.8 88.7,622.6 88.9,489.4 89.5,489.4 89.7,618.3 91,629.8" fill="#1a1a1a" stroke="#1a1a1a" stroke-width="0.5"/><path d="M100.5,629.8 101,622.6 101.2,488.7 101.8,488.7 102,618.3 103.3,629.8" fill="#1a1a1a" stroke="#1a1a1a" stroke-width="0.5"/><path d="M112.8,629.8 113.4,622.6 113.5,488 114.1,488 114.3,618.3 115.6,629.8" fill="#1a1a1a" stroke="#1a1a1a" stroke-width="0.5"/><path d="M125.2,629.8 125.7,622.6 125.9,485.8 126.5,485.8 126.7,618.3 128,629.8" fill="#1a1a1a" stroke="#1a1a1a" stroke-width="0.5"/><path d="M137.6,629.8 138.1,622.6 138.2,485.8 138.9,485.8 139.1,618.3 140.4,629.8" fill="#1a1a1a" stroke="#1a1a1a" stroke-width="0.5"/><path d="M149.9,629.8 150.5,622.6 150.6,490.1 151.2,490.1 151.4,618.3 152.7,629.8" fill="#1a1a1a" stroke="#1a1a1a" stroke-width="0.5"/><path d="M162.2,629.8 162.8,622.6 162.9,490.1 163.6,490.1 163.8,618.3 165.1,629.8" fill="#1a1a1a" stroke="#1a1a1a" stroke-width="0.5"/><path d="M174.6,629.8 175.2,622.6 175.3,490.8 175.9,490.8 176.1,618.3 177.4,629.8" fill="#1a1a1a" stroke="#1a1a1a" stroke-width="0.5"/><path d="M186.9,629.8 187.5,622.6 187.6,493 188.2,493 188.4,618.3 189.8,629.8" fill="#1a1a1a" stroke="#1a1a1a" stroke-width="0.5"/><path d="M199.3,629.8 199.8,622.6 200,495.9 200.6,495.9 200.8,618.3 202.1,629.8" fill="#1a1a1a" stroke="#1a1a1a" stroke-width="0.5"/><path d="M211.6,629.8 212.2,622.6 212.3,495.9 212.9,495.9 213.1,618.3 214.4,629.8" fill="#1a1a1a" stroke="#1a1a1a" stroke-width="0.5"/><path d="M224,629.8 224.6,622.6 224.7,497.3 225.3,497.3 225.5,618.3 226.8,629.8" fill="#1a1a1a" stroke="#1a1a1a" stroke-width="0.5"/></g><rect x="45.6" y="486.5" width="183.6" height="146.9" fill="none" stroke="#3a3a3a" stroke-width="1"/><line x1="45.6" y1="629.8" x2="48.6" y2="629.8" stroke="#3a3a3a" stroke-width="1"/><line x1="229.2" y1="629.8" x2="226.2" y2="629.8" stroke="#3a3a3a" stroke-width="1"/><line x1="45.6" y1="615.4" x2="47.6" y2="615.4" stroke="#3a3a3a" stroke-width="1"/><line x1="229.2" y1="615.4" x2="227.2" y2="615.4" stroke="#3a3a3a" stroke-width="1"/><line x1="45.6" y1="601" x2="48.6" y2="601" stroke="#3a3a3a" stroke-width="1"/><line x1="229.2" y1="601" x2="226.2" y2="601" stroke="#3a3a3a" stroke-width="1"/><line x1="45.6" y1="586.6" x2="47.6" y2="586.6" stroke="#3a3a3a" stroke-width="1"/><line x1="229.2" y1="586.6" x2="227.2" y2="586.6" stroke="#3a3a3a" stroke-width="1"/><line x1="45.6" y1="572.2" x2="48.6" y2="572.2" stroke="#3a3a3a" stroke-width="1"/><line x1="229.2" y1="572.2" x2="226.2" y2="572.2" stroke="#3a3a3a" stroke-width="1"/><line x1="45.6" y1="557.8" x2="47.6" y2="557.8" stroke="#3a3a3a" stroke-width="1"/><line x1="229.2" y1="557.8" x2="227.2" y2="557.8" stroke="#3a3a3a" stroke-width="1"/><line x1="45.6" y1="543.4" x2="48.6" y2="543.4" stroke="#3a3a3a" stroke-width="1"/><line x1="229.2" y1="543.4" x2="226.2" y2="543.4" stroke="#3a3a3a" stroke-width="1"/><line x1="45.6" y1="529" x2="47.6" y2="529" stroke="#3a3a3a" stroke-width="1"/><line x1="229.2" y1="529" x2="227.2" y2="529" stroke="#3a3a3a" stroke-width="1"/><line x1="45.6" y1="514.6" x2="48.6" y2="514.6" stroke="#3a3a3a" stroke-width="1"/><line x1="229.2" y1="514.6" x2="226.2" y2="514.6" stroke="#3a3a3a" stroke-width="1"/><line x1="45.6" y1="500.2" x2="47.6" y2="500.2" stroke="#3a3a3a" stroke-width="1"/><line x1="229.2" y1="500.2" x2="227.2" y2="500.2" stroke="#3a3a3a" stroke-width="1"/><line x1="54.8" y1="633.4" x2="54.8" y2="630.4" stroke="#3a3a3a" stroke-width="1"/><line x1="54.8" y1="486.5" x2="54.8" y2="489.5" stroke="#3a3a3a" stroke-width="1"/><line x1="65.3" y1="633.4" x2="65.3" y2="631.4" stroke="#3a3a3a" stroke-width="1"/><line x1="65.3" y1="486.5" x2="65.3" y2="488.5" stroke="#3a3a3a" stroke-width="1"/><line x1="75.8" y1="633.4" x2="75.8" y2="630.4" stroke="#3a3a3a" stroke-width="1"/><line x1="75.8" y1="486.5" x2="75.8" y2="489.5" stroke="#3a3a3a" stroke-width="1"/><line x1="86.2" y1="633.4" x2="86.2" y2="631.4" stroke="#3a3a3a" stroke-width="1"/><line x1="86.2" y1="486.5" x2="86.2" y2="488.5" stroke="#3a3a3a" stroke-width="1"/><line x1="96.7" y1="633.4" x2="96.7" y2="630.4" stroke="#3a3a3a" stroke-width="1"/><line x1="96.7" y1="486.5" x2="96.7" y2="489.5" stroke="#3a3a3a" stroke-width="1"/><line x1="107.2" y1="633.4" x2="107.2" y2="631.4" stroke="#3a3a3a" stroke-width="1"/><line x1="107.2" y1="486.5" x2="107.2" y2="488.5" stroke="#3a3a3a" stroke-width="1"/><line x1="117.6" y1="633.4" x2="117.6" y2="630.4" stroke="#3a3a3a" stroke-width="1"/><line x1="117.6" y1="486.5" x2="117.6" y2="489.5" stroke="#3a3a3a" stroke-width="1"/><line x1="128.1" y1="633.4" x2="128.1" y2="631.4" stroke="#3a3a3a" stroke-width="1"/><line x1="128.1" y1="486.5" x2="128.1" y2="488.5" stroke="#3a3a3a" stroke-width="1"/><line x1="138.6" y1="633.4" x2="138.6" y2="630.4" stroke="#3a3a3a" stroke-width="1"/><line x1="138.6" y1="486.5" x2="138.6" y2="489.5" stroke="#3a3a3a" stroke-width="1"/><line x1="149.1" y1="633.4" x2="149.1" y2="631.4" stroke="#3a3a3a" stroke-width="1"/><line x1="149.1" y1="486.5" x2="149.1" y2="488.5" stroke="#3a3a3a" stroke-width="1"/><line x1="159.5" y1="633.4" x2="159.5" y2="630.4" stroke="#3a3a3a" stroke-width="1"/><line x1="159.5" y1="486.5" x2="159.5" y2="489.5" stroke="#3a3a3a" stroke-width="1"/><line x1="170" y1="633.4" x2="170" y2="631.4" stroke="#3a3a3a" stroke-width="1"/><line x1="170" y1="486.5" x2="170" y2="488.5" stroke="#3a3a3a" stroke-width="1"/><line x1="180.5" y1="633.4" x2="180.5" y2="630.4" stroke="#3a3a3a" stroke-width="1"/><line x1="180.5" y1="486.5" x2="180.5" y2="489.5" stroke="#3a3a3a" stroke-width="1"/><line x1="191" y1="633.4" x2="191" y2="631.4" stroke="#3a3a3a" stroke-width="1"/><line x1="191" y1="486.5" x2="191" y2="488.5" stroke="#3a3a3a" stroke-width="1"/><line x1="201.4" y1="633.4" x2="201.4" y2="630.4" stroke="#3a3a3a" stroke-width="1"/><line x1="201.4" y1="486.5" x2="201.4" y2="489.5" stroke="#3a3a3a" stroke-width="1"/><line x1="211.9" y1="633.4" x2="211.9" y2="631.4" stroke="#3a3a3a" stroke-width="1"/><line x1="211.9" y1="486.5" x2="211.9" y2="488.5" stroke="#3a3a3a" stroke-width="1"/><line x1="222.4" y1="633.4" x2="222.4" y2="630.4" stroke="#3a3a3a" stroke-width="1"/><line x1="222.4" y1="486.5" x2="222.4" y2="489.5" stroke="#3a3a3a" stroke-width="1"/><text x="42.2" y="517.4" font-size="9" text-anchor="end" fill="#1a1a1a">0.8</text><text x="42.2" y="546.2" font-size="9" text-anchor="end" fill="#1a1a1a">0.6</text><text x="42.2" y="575" font-size="9" text-anchor="end" fill="#1a1a1a">0.4</text><text x="42.2" y="603.8" font-size="9" text-anchor="end" fill="#1a1a1a">0.2</text><text x="42.2" y="632.6" font-size="9" text-anchor="end" fill="#1a1a1a">0.0</text><text x="54.8" y="643.3" font-size="9" text-anchor="middle" fill="#1a1a1a">-400</text><text x="75.8" y="643.3" font-size="9" text-anchor="middle" fill="#1a1a1a">-300</text><text x="96.7" y="643.3" font-size="9" text-anchor="middle" fill="#1a1a1a">-200</text><text x="117.6" y="643.3" font-size="9" text-anchor="middle" fill="#1a1a1a">-100</text><text x="138.6" y="643.3" font-size="9" text-anchor="middle" fill="#1a1a1a">0</text><text x="159.5" y="643.3" font-size="9" text-anchor="middle" fill="#1a1a1a">100</text><text x="180.5" y="643.3" font-size="9" text-anchor="middle" fill="#1a1a1a">200</text><text x="201.4" y="643.3" font-size="9" text-anchor="middle" fill="#1a1a1a">300</text><text x="222.4" y="643.3" font-size="9" text-anchor="middle" fill="#1a1a1a">400</text><text x="137.4" y="659" font-size="9.6" text-anchor="middle" fill="#1a1a1a">Time (ns)</text><text x="21" y="554.7" font-size="9.8" text-anchor="middle" fill="#1a1a1a" transform="rotate(-90 21 554.7)">Normalized amplitude (a.u.)</text><rect x="3.6" y="12.1" width="238.1" height="207.3" fill="none" stroke="#46d035" stroke-width="1.5" stroke-dasharray="3.5 1.7"/><rect x="2.8" y="234.6" width="238.2" height="207.4" fill="none" stroke="#c82020" stroke-width="1.7" stroke-dasharray="2.7 2"/><rect x="2.5" y="459.2" width="238.4" height="204.1" fill="none" stroke="#45bf9f" stroke-width="1.3" stroke-dasharray="2.6 2.1"/><line x1="66.5" y1="189.7" x2="2.8" y2="234.6" stroke="#c82020" stroke-width="1.2" stroke-dasharray="5.4 2.3"/><line x1="91" y1="189.7" x2="241" y2="234.6" stroke="#c82020" stroke-width="1.2" stroke-dasharray="5.4 2.3"/><line x1="129.6" y1="412" x2="2.5" y2="459.2" stroke="#45bf9f" stroke-width="1.2" stroke-dasharray="5.6 2.2"/><line x1="140.5" y1="412" x2="240.9" y2="459.2" stroke="#45bf9f" stroke-width="1.2" stroke-dasharray="5.6 2.2"/><text transform="translate(8.6 25.6) scale(1.12 1)" x="0" y="0" font-size="20.5" font-weight="bold" fill="#000">a</text><text transform="translate(9.4 254.8) scale(1.12 1)" x="0" y="0" font-size="20.5" font-weight="bold" fill="#000">b</text><text transform="translate(8.4 475.6) scale(1.12 1)" x="0" y="0" font-size="20.5" font-weight="bold" fill="#000">c</text><text transform="translate(263.6 28.8) scale(1.12 1)" x="0" y="0" font-size="20.5" font-weight="bold" fill="#000">d</text><text transform="translate(259 253.8) scale(1.12 1)" x="0" y="0" font-size="20.5" font-weight="bold" fill="#000">e</text><text transform="translate(259.6 475.8) scale(1.25 1)" x="0" y="0" font-size="20.5" font-weight="bold" fill="#000">f</text><clipPath id="cd"><rect x="304.5" y="5.5" width="340.0" height="173.0"/></clipPath><g clip-path="url(#cd)"><path d="M304.3,168.4 304.9,162.4 305.4,167.8 306,166.1 306.6,161.8 307.1,162 307.7,168.2 308.3,167.8 308.8,166.1 309.4,165 310,166.3 310.5,168.8 311.1,167.6 311.7,163 312.2,161.3 312.8,169.5 313.4,164.5 313.9,162.7 314.5,169.6 315.1,161.9 315.6,168.8 316.2,164.2 316.8,164.7 317.3,163.9 317.9,167 318.5,165.9 319,164.3 319.6,165.8 320.2,163.6 320.7,165.6 321.3,165.7 321.9,169.7 322.4,164 323,165.2 323.6,167.7 324.1,162.6 324.7,162.4 325.3,165.5 325.8,168.2 326.4,165.4 327,168.9 327.5,168.7 328.1,165.8 328.7,169.1 329.2,165.7 329.8,165 330.4,169.5 330.9,163.8 331.5,169.1 332.1,162.9 332.6,162.5 333.2,165 333.8,169.4 334.4,165.1 334.9,166.3 335.5,160.8 336.1,168.6 336.6,161.7 337.2,160.4 337.8,162.9 338.3,162.1 338.9,168.1 339.5,160.5 340,165.2 340.6,160.7 341.2,161.1 341.7,168.4 342.3,162.4 342.9,161 343.4,169.3 344,166.6 344.6,162.7 345.1,168.4 345.7,161.3 346.3,167.3 346.8,162.1 347.4,168.6 348,165.1 348.5,161.1 349.1,167.9 349.7,167.4 350.2,164.7 350.8,166.5 351.4,169.2 351.9,167.7 352.5,167.9 353.1,160.5 353.6,162.9 354.2,160.8 354.8,167.8 355.3,161.8 355.9,168.3 356.5,164.3 357,163.2 357.6,165.9 358.2,160.9 358.7,163.9 359.3,163.7 359.9,160.7 360.4,168.2 361,159.6 361.6,163.1 362.1,165.3 362.7,161.4 363.3,166.5 363.8,159.5 364.4,163.5 365,165.5 365.5,161.6 366.1,164.7 366.7,167.2 367.2,161.7 367.8,168.4 368.4,160.9 368.9,166.3 369.5,162.6 370.1,159.2 370.6,163 371.2,162.3 371.8,165.6 372.3,168.5 372.9,168.2 373.5,167 374,162.5 374.6,164.3 375.2,163.4 375.7,159.7 376.3,167 376.9,166.1 377.4,161.9 378,167.9 378.6,168.1 379.1,164.7 379.7,167 380.3,164.5 380.8,165.8 381.4,162.3 382,162.2 382.5,165.8 383.1,161.7 383.7,163.1 384.2,166.3 384.8,158.6 385.4,165.2 385.9,166 386.5,166.5 387.1,161.2 387.6,158.9 388.2,159.7 388.8,163.3 389.3,164.6 389.9,167 390.5,160.8 391.1,161.6 391.6,163.6 392.2,160.7 392.8,162.6 393.3,157.8 393.9,159.7 394.5,164.3 395,157.9 395.6,166.1 396.2,161.4 396.7,162.5 397.3,164.1 397.9,165.7 398.4,158.7 399,166.1 399.6,160.8 400.1,157 400.7,164.6 401.3,164 401.8,160 402.4,161 403,159.6 403.5,157.9 404.1,164 404.7,162.6 405.2,162.7 405.8,165 406.4,156.9 406.9,157.8 407.5,158.4 408.1,165.2 408.6,157.1 409.2,158 409.8,160.6 410.3,157.9 410.9,160.7 411.5,162.8 412,163.9 412.6,162.6 413.2,164.4 413.7,161.5 414.3,157.5 414.9,158 415.4,156.5 416,157.7 416.6,162 417.1,159.2 417.7,153.6 418.3,146.6 418.8,139.7 419.4,132.7 420,125.7 420.5,118.7 421.1,115.6 421.7,121.5 422.2,127.3 422.8,133.2 423.4,139 423.9,144.9 424.5,150.7 425.1,156.6 425.6,160.8 426.2,155.5 426.8,160.8 427.3,161.6 427.9,155.2 428.5,157.8 429,157.2 429.6,157.5 430.2,154.4 430.7,159.3 431.3,155.8 431.9,157.1 432.4,155.6 433,159.6 433.6,156.8 434.1,158.3 434.7,160.8 435.3,161.8 435.8,157.8 436.4,163.1 437,155.1 437.5,162.4 438.1,163.6 438.7,162.8 439.2,154.9 439.8,160.5 440.4,162.5 440.9,163.6 441.5,163.5 442.1,157.3 442.6,157.9 443.2,157.3 443.8,156.9 444.3,163.4 444.9,158.4 445.5,160.6 446,156.2 446.6,156.2 447.2,155.6 447.8,161.5 448.3,155.9 448.9,155.5 449.5,155.2 450,163.3 450.6,162.4 451.2,163.3 451.7,164.1 452.3,156.3 452.9,156.7 453.4,158.5 454,156.7 454.6,158.6 455.1,161.9 455.7,163.8 456.3,163.9 456.8,157.6 457.4,162.9 458,161.9 458.5,160.9 459.1,164.9 459.7,162.6 460.2,162.4 460.8,158.3 461.4,161.7 461.9,162.2 462.5,156.1 463.1,160.6 463.6,157.3 464.2,159.6 464.8,165.3 465.3,161.7 465.9,161.5 466.5,158.3 467,162.5 467.6,159.1 468.2,160.8 468.7,163.9 469.3,157.8 469.9,165.2 470.4,158.3 471,164.6 471.6,166.3 472.1,164.4 472.7,159.1 473.3,157.1 473.8,166.5 474.4,161.9 475,161.9 475.5,159 476.1,165 476.7,162.1 477.2,163.5 477.8,158.9 478.4,164.5 478.9,158 479.5,164.4 480.1,165.1 480.6,160.5 481.2,162.5 481.8,166.3 482.3,161.3 482.9,166.6 483.5,159.9 484,160.8 484.6,160 485.2,161.6 485.7,164.3 486.3,163.9 486.9,164 487.4,159.3 488,167 488.6,159.4 489.1,167.7 489.7,166 490.3,165.5 490.8,159.4 491.4,163.3 492,164.6 492.5,159.7 493.1,166 493.7,163.9 494.2,163.3 494.8,161.2 495.4,161.2 495.9,162.3 496.5,165.2 497.1,165.4 497.6,167.1 498.2,160.5 498.8,162.3 499.3,161.6 499.9,167.1 500.5,164.6 501,161.4 501.6,163.3 502.2,167.7 502.7,164.5 503.3,160.4 503.9,166.7 504.5,167.1 505,166.1 505.6,162.3 506.2,161 506.7,167.6 507.3,167.6 507.9,166.8 508.4,166 509,164.2 509.6,167.7 510.1,166.1 510.7,167.5 511.3,159.9 511.8,162.3 512.4,168.4 513,160.1 513.5,168.4 514.1,165.7 514.7,160 515.2,161.8 515.8,162.4 516.4,165.3 516.9,167.6 517.5,163.4 518.1,168.5 518.6,167.5 519.2,165.8 519.8,169.2 520.3,165.7 520.9,162 521.5,162.9 522,164.8 522.6,163.5 523.2,165.2 523.7,168.3 524.3,163.9 524.9,165.8 525.4,162.6 526,161 526.6,165.6 527.1,164.2 527.7,162.5 528.3,165.7 528.8,167.5 529.4,162.8 530,161.3 530.5,162.3 531.1,163 531.7,161.7 532.2,163.4 532.8,163.8 533.4,165.6 533.9,166.9 534.5,163.9 535.1,169 535.6,165.9 536.2,162.4 536.8,163.1 537.3,163.9 537.9,167.5 538.5,165.9 539,165.6 539.6,164 540.2,166 540.7,163.4 541.3,161 541.9,168.2 542.4,163.6 543,162.5 543.6,166.2 544.1,165.2 544.7,160.6 545.3,169.6 545.8,164.7 546.4,168.4 547,162.4 547.5,160.9 548.1,164.9 548.7,169 549.2,164.4 549.8,164.7 550.4,163 550.9,165 551.5,163.8 552.1,162 552.6,164.9 553.2,166 553.8,160.8 554.3,167.9 554.9,163.4 555.5,166.2 556,162.6 556.6,168.8 557.2,160.5 557.7,166.5 558.3,169.4 558.9,167.3 559.4,166.1 560,169.8 560.6,165.9 561.2,165.9 561.7,163.2 562.3,166.6 562.9,167.4 563.4,167.8 564,162.8 564.6,160.9 565.1,164.9 565.7,167.8 566.3,162.2 566.8,166.2 567.4,167.9 568,168.7 568.5,162.5 569.1,162.2 569.7,163.8 570.2,165.4 570.8,164.5 571.4,167.8 571.9,160.7 572.5,166.5 573.1,163.8 573.6,162.1 574.2,162.1 574.8,165.4 575.3,167.1 575.9,164.7 576.5,168.7 577,161.9 577.6,166.5 578.2,161.8 578.7,167.4 579.3,166.3 579.9,167.5 580.4,165.8 581,168.2 581.6,169.9 582.1,163 582.7,167.2 583.3,167.6 583.8,167 584.4,165.3 585,165.8 585.5,163.8 586.1,163.6 586.7,166.5 587.2,161 587.8,161.7 588.4,169.4 588.9,162 589.5,161.2 590.1,162.4 590.6,168.6 591.2,161.9 591.8,163.9 592.3,169.8 592.9,169.8 593.5,160.8 594,163.6 594.6,167.5 595.2,169 595.7,168.6 596.3,167.7 596.9,162.5 597.4,166.6 598,168.5 598.6,161.2 599.1,162.3 599.7,168.3 600.3,161.4 600.8,164.1 601.4,162.4 602,163.5 602.5,161.3 603.1,162.4 603.7,161.9 604.2,168 604.8,163.3 605.4,164.8 605.9,162.8 606.5,165.7 607.1,161.5 607.6,164.6 608.2,167.4 608.8,167.7 609.3,168.6 609.9,165.2 610.5,169.4 611,165.4 611.6,168.6 612.2,165.2 612.7,165.2 613.3,164.8 613.9,161.6 614.4,169.9 615,161.9 615.6,165.4 616.1,164.5 616.7,163.5 617.3,161.9 617.9,166.3 618.4,165.9 619,160.7 619.6,169.2 620.1,163.8 620.7,163.8 621.3,169.7 621.8,164.1 622.4,163.4 623,161 623.5,166.8 624.1,160.5 624.7,165 625.2,165.3 625.8,161.3 626.4,169.6 626.9,163 627.5,163.9 628.1,166.7 628.6,161.7 629.2,166.4 629.8,165.4 630.3,164.9 630.9,162.5 631.5,167.9 632,165.8 632.6,165.9 633.2,164.6 633.7,162 634.3,167.1 634.9,162 635.4,166.1 636,165.1 636.6,167.3 637.1,165.1 637.7,160.6 638.3,163.6 638.8,162.3 639.4,166.8 640,166.9 640.5,167.1 641.1,164.3 641.7,163.8 642.2,162.4 642.8,169.6 643.4,163 643.9,161.4 644.5,164.7 645.1,169.5 645.6,167.1 646.2,169.9 646.2,181.4 645.6,181.4 645.1,181.4 644.5,181.4 643.9,181.4 643.4,181.4 642.8,181.4 642.2,181.4 641.7,181.4 641.1,181.4 640.5,181.4 640,181.4 639.4,181.4 638.8,181.4 638.3,181.4 637.7,181.4 637.1,181.4 636.6,181.4 636,181.4 635.4,181.4 634.9,181.4 634.3,181.4 633.7,181.4 633.2,181.4 632.6,181.4 632,181.4 631.5,181.4 630.9,181.4 630.3,181.4 629.8,181.4 629.2,181.4 628.6,181.4 628.1,181.4 627.5,181.4 626.9,181.4 626.4,181.4 625.8,181.4 625.2,181.4 624.7,181.4 624.1,181.4 623.5,181.4 623,181.4 622.4,181.4 621.8,181.4 621.3,181.4 620.7,181.4 620.1,181.4 619.6,181.4 619,181.4 618.4,181.4 617.9,181.4 617.3,181.4 616.7,181.4 616.1,181.4 615.6,181.4 615,181.4 614.4,181.4 613.9,181.4 613.3,181.4 612.7,181.4 612.2,181.4 611.6,181.4 611,181.4 610.5,181.4 609.9,181.4 609.3,181.4 608.8,181.4 608.2,181.4 607.6,181.4 607.1,181.4 606.5,181.4 605.9,181.4 605.4,181.4 604.8,181.4 604.2,181.4 603.7,181.4 603.1,181.4 602.5,181.4 602,181.4 601.4,181.4 600.8,181.4 600.3,181.4 599.7,181.4 599.1,181.4 598.6,181.4 598,181.4 597.4,181.4 596.9,181.4 596.3,181.4 595.7,181.4 595.2,181.4 594.6,181.4 594,181.4 593.5,181.4 592.9,181.4 592.3,181.4 591.8,181.4 591.2,181.4 590.6,181.4 590.1,181.4 589.5,181.4 588.9,181.4 588.4,181.4 587.8,181.4 587.2,181.4 586.7,181.4 586.1,181.4 585.5,181.4 585,181.4 584.4,181.4 583.8,181.4 583.3,181.4 582.7,181.4 582.1,181.4 581.6,181.4 581,181.4 580.4,181.4 579.9,181.4 579.3,181.4 578.7,181.4 578.2,181.4 577.6,181.4 577,181.4 576.5,181.4 575.9,181.4 575.3,181.4 574.8,181.4 574.2,181.4 573.6,181.4 573.1,181.4 572.5,181.4 571.9,181.4 571.4,181.4 570.8,181.4 570.2,181.4 569.7,181.4 569.1,181.4 568.5,181.4 568,181.4 567.4,181.4 566.8,181.4 566.3,181.4 565.7,181.4 565.1,181.4 564.6,181.4 564,181.4 563.4,181.4 562.9,181.4 562.3,181.4 561.7,181.4 561.2,181.4 560.6,181.4 560,181.4 559.4,181.4 558.9,181.4 558.3,181.4 557.7,181.4 557.2,181.4 556.6,181.4 556,181.4 555.5,181.4 554.9,181.4 554.3,181.4 553.8,181.4 553.2,181.4 552.6,181.4 552.1,181.4 551.5,181.4 550.9,181.4 550.4,181.4 549.8,181.4 549.2,181.4 548.7,181.4 548.1,181.4 547.5,181.4 547,181.4 546.4,181.4 545.8,181.4 545.3,181.4 544.7,181.4 544.1,181.4 543.6,181.4 543,181.4 542.4,181.4 541.9,181.4 541.3,181.4 540.7,181.4 540.2,181.4 539.6,181.4 539,181.4 538.5,181.4 537.9,181.4 537.3,181.4 536.8,181.4 536.2,181.4 535.6,181.4 535.1,181.4 534.5,181.4 533.9,181.4 533.4,181.4 532.8,181.4 532.2,181.4 531.7,181.4 531.1,181.4 530.5,181.4 530,181.4 529.4,181.4 528.8,181.4 528.3,181.4 527.7,181.4 527.1,181.4 526.6,181.4 526,181.4 525.4,181.4 524.9,181.4 524.3,181.4 523.7,181.4 523.2,181.4 522.6,181.4 522,181.4 521.5,181.4 520.9,181.4 520.3,181.4 519.8,181.4 519.2,181.4 518.6,181.4 518.1,181.4 517.5,181.4 516.9,181.4 516.4,181.4 515.8,181.4 515.2,181.4 514.7,181.4 514.1,181.4 513.5,181.4 513,181.4 512.4,181.4 511.8,181.4 511.3,181.4 510.7,181.4 510.1,181.4 509.6,181.4 509,181.4 508.4,181.4 507.9,181.4 507.3,181.4 506.7,181.4 506.2,181.4 505.6,181.4 505,181.4 504.5,181.4 503.9,181.4 503.3,181.4 502.7,181.4 502.2,181.4 501.6,181.4 501,181.4 500.5,181.4 499.9,181.4 499.3,181.4 498.8,181.4 498.2,181.4 497.6,181.4 497.1,181.4 496.5,181.4 495.9,181.4 495.4,181.4 494.8,181.4 494.2,181.4 493.7,181.4 493.1,181.4 492.5,181.4 492,181.4 491.4,181.4 490.8,181.4 490.3,181.4 489.7,181.4 489.1,181.4 488.6,181.4 488,181.4 487.4,181.4 486.9,181.4 486.3,181.4 485.7,181.4 485.2,181.4 484.6,181.4 484,181.4 483.5,181.4 482.9,181.4 482.3,181.4 481.8,181.4 481.2,181.4 480.6,181.4 480.1,181.4 479.5,181.4 478.9,181.4 478.4,181.4 477.8,181.4 477.2,181.4 476.7,181.4 476.1,181.4 475.5,181.4 475,181.4 474.4,181.4 473.8,181.4 473.3,181.4 472.7,181.4 472.1,181.4 471.6,181.4 471,181.4 470.4,181.4 469.9,181.4 469.3,181.4 468.7,181.4 468.2,181.4 467.6,181.4 467,181.4 466.5,181.4 465.9,181.4 465.3,181.4 464.8,181.4 464.2,181.4 463.6,181.4 463.1,181.4 462.5,181.4 461.9,181.4 461.4,181.4 460.8,181.4 460.2,181.4 459.7,181.4 459.1,181.4 458.5,181.4 458,181.4 457.4,181.4 456.8,181.4 456.3,181.4 455.7,181.4 455.1,181.4 454.6,181.4 454,181.4 453.4,181.4 452.9,181.4 452.3,181.4 451.7,179.6 451.2,175.9 450.6,172.3 450,168.7 449.5,165.1 448.9,161.5 448.3,157.9 447.8,161.5 447.2,165.1 446.6,168.7 446,172.3 445.5,175.9 444.9,179.6 444.3,181.4 443.8,181.4 443.2,181.4 442.6,181.4 442.1,181.4 441.5,181.4 440.9,181.4 440.4,181.4 439.8,181.4 439.2,181.4 438.7,181.4 438.1,181.4 437.5,181.4 437,181.4 436.4,181.4 435.8,181.4 435.3,181.4 434.7,181.4 434.1,181.4 433.6,181.4 433,181.4 432.4,181.4 431.9,181.4 431.3,181.4 430.7,181.4 430.2,181.4 429.6,181.4 429,181.4 428.5,181.4 427.9,181.4 427.3,179.9 426.8,174.1 426.2,168.2 425.6,162.4 425.1,156.6 424.5,150.7 423.9,144.9 423.4,139 422.8,133.2 422.2,127.3 421.7,121.5 421.1,115.6 420.5,118.7 420,125.7 419.4,132.7 418.8,139.7 418.3,146.6 417.7,153.6 417.1,160.6 416.6,167.5 416,174.5 415.4,181.4 414.9,181.4 414.3,181.4 413.7,181.4 413.2,181.4 412.6,181.4 412,181.4 411.5,181.4 410.9,181.4 410.3,181.4 409.8,181.4 409.2,181.4 408.6,181.4 408.1,181.4 407.5,181.4 406.9,181.4 406.4,181.4 405.8,181.4 405.2,181.4 404.7,181.4 404.1,181.4 403.5,181.4 403,181.4 402.4,181.4 401.8,181.4 401.3,181.4 400.7,181.4 400.1,181.4 399.6,181.4 399,181.4 398.4,181.4 397.9,181.4 397.3,181.4 396.7,181.4 396.2,181.4 395.6,181.4 395,181.4 394.5,181.4 393.9,181.4 393.3,181.4 392.8,181.4 392.2,181.4 391.6,181.4 391.1,181.4 390.5,181.4 389.9,181.4 389.3,181.4 388.8,181.4 388.2,181.4 387.6,181.4 387.1,181.4 386.5,181.4 385.9,181.4 385.4,181.4 384.8,181.4 384.2,181.4 383.7,181.4 383.1,181.4 382.5,181.4 382,181.4 381.4,181.4 380.8,181.4 380.3,181.4 379.7,181.4 379.1,181.4 378.6,181.4 378,181.4 377.4,181.4 376.9,181.4 376.3,181.4 375.7,181.4 375.2,181.4 374.6,181.4 374,181.4 373.5,181.4 372.9,181.4 372.3,181.4 371.8,181.4 371.2,181.4 370.6,181.4 370.1,181.4 369.5,181.4 368.9,181.4 368.4,181.4 367.8,181.4 367.2,181.4 366.7,181.4 366.1,181.4 365.5,181.4 365,181.4 364.4,181.4 363.8,181.4 363.3,181.4 362.7,181.4 362.1,181.4 361.6,181.4 361,181.4 360.4,181.4 359.9,181.4 359.3,181.4 358.7,181.4 358.2,181.4 357.6,181.4 357,181.4 356.5,181.4 355.9,181.4 355.3,181.4 354.8,181.4 354.2,181.4 353.6,181.4 353.1,181.4 352.5,181.4 351.9,181.4 351.4,181.4 350.8,181.4 350.2,181.4 349.7,181.4 349.1,181.4 348.5,181.4 348,181.4 347.4,181.4 346.8,181.4 346.3,181.4 345.7,181.4 345.1,181.4 344.6,181.4 344,181.4 343.4,181.4 342.9,181.4 342.3,181.4 341.7,181.4 341.2,181.4 340.6,181.4 340,181.4 339.5,181.4 338.9,181.4 338.3,181.4 337.8,181.4 337.2,181.4 336.6,181.4 336.1,181.4 335.5,181.4 334.9,181.4 334.4,181.4 333.8,181.4 333.2,181.4 332.6,181.4 332.1,181.4 331.5,181.4 330.9,181.4 330.4,181.4 329.8,181.4 329.2,181.4 328.7,181.4 328.1,181.4 327.5,181.4 327,181.4 326.4,181.4 325.8,181.4 325.3,181.4 324.7,181.4 324.1,181.4 323.6,181.4 323,181.4 322.4,181.4 321.9,181.4 321.3,181.4 320.7,181.4 320.2,181.4 319.6,181.4 319,181.4 318.5,181.4 317.9,181.4 317.3,181.4 316.8,181.4 316.2,181.4 315.6,181.4 315.1,181.4 314.5,181.4 313.9,181.4 313.4,181.4 312.8,181.4 312.2,181.4 311.7,181.4 311.1,181.4 310.5,181.4 310,181.4 309.4,181.4 308.8,181.4 308.3,181.4 307.7,181.4 307.1,181.4 306.6,181.4 306,181.4 305.4,181.4 304.9,181.4 304.3,181.4Z" fill="#3c9a2c" stroke="none" stroke-width="0"/><path d="M304.3,165.1 305.7,165.1 307.1,165.1 308.6,165.1 310,165.1 311.4,165.1 312.8,165.1 314.2,165.1 315.6,165.1 317.1,165.1 318.5,165.1 319.9,165.1 321.3,165.1 322.7,165.1 324.1,165.1 325.6,165.1 327,165.1 328.4,165.1 329.8,165.1 331.2,165.1 332.7,165.1 334.1,165.1 335.5,165.1 336.9,165.1 338.3,165.1 339.7,165.1 341.2,165.1 342.6,165.1 344,165.1 345.4,165.1 346.8,165.1 348.2,165.1 349.7,165.1 351.1,164.7 352.5,164.7 353.9,164.6 355.3,164.6 356.7,164.5 358.2,164.5 359.6,164.4 361,164.4 362.4,164.3 363.8,164.2 365.3,164.2 366.7,164.1 368.1,164 369.5,163.9 370.9,163.8 372.3,163.8 373.8,163.7 375.2,163.6 376.6,163.5 378,163.3 379.4,163.2 380.8,163.1 382.3,163 383.7,162.9 385.1,162.7 386.5,162.4 387.9,159.6 389.4,155.3 390.8,149.6 392.2,162.1 393.6,151.6 395,157.3 396.4,153.2 397.9,139.3 399.3,141.8 400.7,135.1 402.1,141.4 403.5,147 404.9,139.8 406.4,135.2 407.8,128.4 409.2,126.8 410.6,134.2 412,134.7 413.4,139 414.9,129.6 416.3,135.4 417.7,135.4 419.1,136.2 420.5,118.7 422,123.9 423.4,132 424.8,117.5 426.2,130.6 427.6,118.4 429,130.6 430.5,132.7 431.9,121.7 433.3,129.7 434.7,122.1 436.1,131.2 437.5,133.6 439,122.3 440.4,123.5 441.8,121.5 443.2,123.8 444.6,134.4 446.1,126 447.5,124.4 448.9,128.1 450.3,120.3 451.7,130.9 453.1,119.2 454.6,122.9 456,134 457.4,133.7 458.8,123.9 460.2,121.7 461.6,133.9 463.1,130.6 464.5,124.4 465.9,133.8 467.3,123.1 468.7,129.6 470.1,137.2 471.6,133 473,130.4 474.4,133.4 475.8,130.3 477.2,139.6 478.7,129.1 480.1,136.1 481.5,131.6 482.9,131.8 484.3,135.2 485.7,135.7 487.2,129.3 488.6,126.8 490,129.3 491.4,132.8 492.8,137.2 494.2,140.9 495.7,126.3 497.1,130.6 498.5,129.1 499.9,137.5 501.3,133.5 502.8,128 504.2,130.8 505.6,134.9 507,140.4 508.4,139.3 509.8,132.8 511.3,141.8 512.7,137.7 514.1,139.8 515.5,136 516.9,138.2 518.3,147.2 519.8,151.7 521.2,147.4 522.6,144.8 524,142.1 525.4,138.3 526.8,137.1 528.3,150.6 529.7,137.8 531.1,138.1 532.5,137.1 533.9,142.5 535.4,148.9 536.8,141.4 538.2,143.7 539.6,147.4 541,145.4 542.4,156.1 543.9,160.7 545.3,153.7 546.7,150.2 548.1,160.2 549.5,151.8 550.9,149.3 552.4,160.9 553.8,155.4 555.2,155.5 556.6,160.2 558,165.1 559.5,165.1 560.9,159.4 562.3,160.1 563.7,165.1 565.1,165.1 566.5,162.4 568,163.1 569.4,165.1 570.8,165.1 572.2,161.3 573.6,161.6 575,165.1 576.5,165.1 577.9,165.1 579.3,165.1 580.7,165.1 582.1,165.1 583.5,165.1 585,165.1 586.4,165.1 587.8,165.1 589.2,165.1 590.6,165.1 592.1,165.1 593.5,165.1 594.9,165.1 596.3,165.1 597.7,165.1 599.1,165.1 600.6,165.1 602,165.1 603.4,165.1 604.8,165.1 606.2,165.1 607.6,165.1 609.1,165.1 610.5,165.1 611.9,165.1 613.3,165.1 614.7,165.1 616.2,165.1 617.6,165.1 619,165.1 620.4,165.1 621.8,165.1 623.2,165.1 624.7,165.1 626.1,165.1 627.5,165.1 628.9,165.1 630.3,165.1 631.7,165.1 633.2,165.1 634.6,165.1 636,165.1 637.4,165.1 638.8,165.1 640.2,165.1 641.7,165.1 643.1,165.1 644.5,165.1 645.9,165.1 645.9,167.8 644.5,167.8 643.1,167.8 641.7,167.8 640.2,167.8 638.8,167.8 637.4,167.8 636,167.8 634.6,167.8 633.2,167.8 631.7,167.8 630.3,167.8 628.9,167.8 627.5,167.8 626.1,167.8 624.7,167.8 623.2,167.8 621.8,167.8 620.4,167.8 619,167.8 617.6,167.8 616.2,167.8 614.7,167.8 613.3,167.8 611.9,167.8 610.5,167.8 609.1,167.8 607.6,167.8 606.2,167.8 604.8,167.8 603.4,167.8 602,167.8 600.6,167.8 599.1,167.8 597.7,167.8 596.3,167.8 594.9,167.8 593.5,167.8 592.1,167.8 590.6,167.8 589.2,167.8 587.8,167.8 586.4,167.8 585,167.8 583.5,167.8 582.1,167.8 580.7,167.8 579.3,167.8 577.9,167.8 576.5,167.8 575,167.8 573.6,167.8 572.2,167.8 570.8,167.8 569.4,167.8 568,167.8 566.5,167.8 565.1,167.8 563.7,167.8 562.3,167.8 560.9,167.8 559.5,167.8 558,167.8 556.6,167.8 555.2,167.8 553.8,167.8 552.4,167.8 550.9,167.8 549.5,167.8 548.1,167.8 546.7,167.8 545.3,167.8 543.9,167.8 542.4,167.8 541,167.8 539.6,167.8 538.2,167.8 536.8,167.8 535.4,167.8 533.9,167.8 532.5,167.8 531.1,167.8 529.7,167.6 528.3,167.6 526.8,167.6 525.4,167.5 524,167.5 522.6,167.5 521.2,167.5 519.8,167.4 518.3,167.4 516.9,167.3 515.5,167.3 514.1,167.3 512.7,167.2 511.3,167.2 509.8,167.1 508.4,167 507,167 505.6,166.9 504.2,166.8 502.8,166.8 501.3,166.7 499.9,166.6 498.5,166.5 497.1,166.4 495.7,166.3 494.2,166.2 492.8,166.1 491.4,166 490,165.9 488.6,165.8 487.2,165.7 485.7,165.5 484.3,165.4 482.9,165.3 481.5,165.2 480.1,165 478.7,164.9 477.2,164.7 475.8,164.6 474.4,164.4 473,164.3 471.6,164.2 470.1,164 468.7,163.9 467.3,163.7 465.9,163.6 464.5,163.4 463.1,163.3 461.6,163.2 460.2,163 458.8,162.9 457.4,162.8 456,162.6 454.6,162.5 453.1,162.4 451.7,162.3 450.3,162.2 448.9,161.5 447.5,162 446.1,162 444.6,161.9 443.2,161.8 441.8,161.8 440.4,161.7 439,161.7 437.5,161.7 436.1,161.7 434.7,161.7 433.3,161.7 431.9,161.7 430.5,161.7 429,161.7 427.6,161.8 426.2,161.8 424.8,153.6 423.4,139 422,124.4 420.5,118.7 419.1,136.2 417.7,153.6 416.3,162.4 414.9,162.5 413.4,162.6 412,162.8 410.6,162.9 409.2,163 407.8,163.2 406.4,163.3 404.9,163.4 403.5,163.6 402.1,163.7 400.7,163.9 399.3,164 397.9,164.2 396.4,164.3 395,164.4 393.6,164.6 392.2,164.7 390.8,164.9 389.4,165 387.9,165.2 386.5,165.3 385.1,165.4 383.7,165.5 382.3,165.7 380.8,165.8 379.4,165.9 378,166 376.6,166.1 375.2,166.2 373.8,166.3 372.3,166.4 370.9,166.5 369.5,166.6 368.1,166.7 366.7,166.8 365.3,166.8 363.8,166.9 362.4,167 361,167 359.6,167.1 358.2,167.2 356.7,167.2 355.3,167.3 353.9,167.3 352.5,167.3 351.1,167.4 349.7,167.8 348.2,167.8 346.8,167.8 345.4,167.8 344,167.8 342.6,167.8 341.2,167.8 339.7,167.8 338.3,167.8 336.9,167.8 335.5,167.8 334.1,167.8 332.7,167.8 331.2,167.8 329.8,167.8 328.4,167.8 327,167.8 325.6,167.8 324.1,167.8 322.7,167.8 321.3,167.8 319.9,167.8 318.5,167.8 317.1,167.8 315.6,167.8 314.2,167.8 312.8,167.8 311.4,167.8 310,167.8 308.6,167.8 307.1,167.8 305.7,167.8 304.3,167.8 Z" fill="#74bb62" fill-opacity="0.7"/><path d="M325.7,167.8V161.6M342.1,167.8V159.1M356.4,167.2V144.7M361.2,167V149.7M365.2,166.8V138.3M369.7,166.6V142M383.4,165.6V133.7M390,164.9V147.3M412.3,162.7V113.3M415.9,162.4V105M432.2,161.7V106.4M452.9,162.4V92.3M456.2,162.7V94.7M477.7,164.8V101.7M479.4,165V147.4M482.5,165.2V116.5M499.1,166.6V124.9M504.6,166.9V115.4M525.9,167.6V113.6M529.7,167.6V139.9M538.9,167.8V124.5M556.7,167.8V136.6M571.9,167.8V159.5M590.4,167.8V143.7M614.8,167.8V160.7M616.5,167.8V156.6M635.6,167.8V158.8" stroke="#52a842" stroke-width="1.1" fill="none"/><path d="M312.5,167.8V164.1M322.5,167.8V164.8M331.6,167.8V165.9M336.7,167.8V161.5M338.2,167.8V163.9M340.1,167.8V159.5M345.8,167.8V159.2M347.5,167.8V152.8M349.3,167.8V156.3M350.8,167.4V165M352.7,167.3V147.3M354.7,167.3V145.3M359.6,167.1V142.3M363.2,166.9V150M366.6,166.8V150.4M371.3,166.5V147.4M373.2,166.4V149.6M374.7,166.3V157.4M376.3,166.1V161.1M378.1,166V143.4M380,165.9V136.8M385,165.4V129.7M386.7,165.3V129.1M388.5,165.1V128.1M391.7,164.8V135.7M395,164.5V133.4M396.4,164.3V140.9M398,164.1V110M399.8,164V108.9M401.7,163.8V124.1M403.2,163.6V149.2M404.7,163.5V107.3M406.4,163.3V102M408.4,163.1V107.3M410.3,162.9V133.1M414.2,162.6V101.1M417.8,152.2V118.1M419.8,127.4V122.9M421.7,121.4V93.4M423.2,137V92.3M425.2,157.9V117.8M427.1,161.8V139.2M429,161.7V89.9M430.6,161.7V117.8M433.9,161.7V92.4M435.9,161.7V103.2M437.6,161.7V93.7M439.2,161.7V95.3M440.7,161.7V117.8M442.5,161.8V102.8M444.3,161.9V113M445.9,162V95.5M447.7,162V93.6M449.6,162.2V93M451.4,162.3V96.3M454.7,162.5V95.6M458.1,162.8V93.7M459.9,163V139.6M461.8,163.2V116.1M463.7,163.4V120.4M465.7,163.6V97.5M467.5,163.7V122.7M469.2,163.9V121.2M470.9,164.1V112.2M472.6,164.3V115.4M474.2,164.4V123.3M475.9,164.6V99.4M481,165.1V126.4M484.4,165.4V128.5M486.2,165.6V113.9M488,165.7V127.3M489.8,165.9V102.6M491.6,166V151.4M493.3,166.2V128.5M495,166.3V108.6M497.1,166.4V137M501,166.7V109.5M502.8,166.8V110.8M506.5,167V105.8M508.4,167V103.6M510.3,167.1V126M512.1,167.2V117.4M513.9,167.2V146.4M515.4,167.3V107.9M517,167.3V111.2M518.8,167.4V115.9M520.7,167.4V131.5M522.3,167.5V114M524.2,167.5V122.5M527.7,167.6V119.9M531.6,167.8V112.4M533.6,167.8V136.7M535.3,167.8V121.2M537.3,167.8V137.3M540.5,167.8V124.7M542.2,167.8V125.6M544.1,167.8V130.7M545.8,167.8V126.9M547.3,167.8V128M549.3,167.8V122.6M551.2,167.8V130.8M553.1,167.8V150.6M555.1,167.8V134.4M558.5,167.8V137.9M560.1,167.8V153.3M561.9,167.8V130.3M563.6,167.8V135.9M565.2,167.8V135.1M566.7,167.8V146.7M568.3,167.8V136.1M570,167.8V133.6M573.5,167.8V136.9M575.3,167.8V146.9M577.2,167.8V144.6M578.9,167.8V143M580.9,167.8V156.9M582.4,167.8V136.7M583.9,167.8V140.3M587.3,167.8V145.5M592.2,167.8V142.2M595.4,167.8V159M597.3,167.8V147.7M603,167.8V155.5M606.3,167.8V157.4M608.2,167.8V164.4M610,167.8V157M611.7,167.8V164.3M624.8,167.8V159.7M626.5,167.8V160.2M628.2,167.8V160.3M629.8,167.8V162.8M631.8,167.8V165.5M633.8,167.8V166.1M639.2,167.8V158.4M640.8,167.8V159.6" stroke="#3c9a2c" stroke-width="1.35" fill="none"/><path d="M418.3,117.3 418,85.8 418.7,72 420.5,48.7 420.9,35.1 421.8,48.7 422.6,72 423.3,85.8 423.4,117.3Z" fill="#3c9a2c" stroke="#3c9a2c" stroke-width="0.6"/></g><rect x="304.5" y="5.5" width="340" height="173" fill="none" stroke="#3a3a3a" stroke-width="1"/><line x1="304.5" y1="5.2" x2="308.5" y2="5.2" stroke="#3a3a3a" stroke-width="1"/><line x1="644.5" y1="5.2" x2="640.5" y2="5.2" stroke="#3a3a3a" stroke-width="1"/><line x1="304.5" y1="31.9" x2="308.5" y2="31.9" stroke="#3a3a3a" stroke-width="1"/><line x1="644.5" y1="31.9" x2="640.5" y2="31.9" stroke="#3a3a3a" stroke-width="1"/><line x1="304.5" y1="58.6" x2="308.5" y2="58.6" stroke="#3a3a3a" stroke-width="1"/><line x1="644.5" y1="58.6" x2="640.5" y2="58.6" stroke="#3a3a3a" stroke-width="1"/><line x1="304.5" y1="85.3" x2="308.5" y2="85.3" stroke="#3a3a3a" stroke-width="1"/><line x1="644.5" y1="85.3" x2="640.5" y2="85.3" stroke="#3a3a3a" stroke-width="1"/><line x1="304.5" y1="112" x2="308.5" y2="112" stroke="#3a3a3a" stroke-width="1"/><line x1="644.5" y1="112" x2="640.5" y2="112" stroke="#3a3a3a" stroke-width="1"/><line x1="304.5" y1="138.7" x2="308.5" y2="138.7" stroke="#3a3a3a" stroke-width="1"/><line x1="644.5" y1="138.7" x2="640.5" y2="138.7" stroke="#3a3a3a" stroke-width="1"/><line x1="304.5" y1="165.4" x2="308.5" y2="165.4" stroke="#3a3a3a" stroke-width="1"/><line x1="644.5" y1="165.4" x2="640.5" y2="165.4" stroke="#3a3a3a" stroke-width="1"/><line x1="304.3" y1="178.5" x2="304.3" y2="174.5" stroke="#3a3a3a" stroke-width="1"/><line x1="304.3" y1="5.5" x2="304.3" y2="9.5" stroke="#3a3a3a" stroke-width="1"/><line x1="361" y1="178.5" x2="361" y2="174.5" stroke="#3a3a3a" stroke-width="1"/><line x1="361" y1="5.5" x2="361" y2="9.5" stroke="#3a3a3a" stroke-width="1"/><line x1="417.7" y1="178.5" x2="417.7" y2="174.5" stroke="#3a3a3a" stroke-width="1"/><line x1="417.7" y1="5.5" x2="417.7" y2="9.5" stroke="#3a3a3a" stroke-width="1"/><line x1="474.4" y1="178.5" x2="474.4" y2="174.5" stroke="#3a3a3a" stroke-width="1"/><line x1="474.4" y1="5.5" x2="474.4" y2="9.5" stroke="#3a3a3a" stroke-width="1"/><line x1="531.1" y1="178.5" x2="531.1" y2="174.5" stroke="#3a3a3a" stroke-width="1"/><line x1="531.1" y1="5.5" x2="531.1" y2="9.5" stroke="#3a3a3a" stroke-width="1"/><line x1="587.8" y1="178.5" x2="587.8" y2="174.5" stroke="#3a3a3a" stroke-width="1"/><line x1="587.8" y1="5.5" x2="587.8" y2="9.5" stroke="#3a3a3a" stroke-width="1"/><line x1="644.5" y1="178.5" x2="644.5" y2="174.5" stroke="#3a3a3a" stroke-width="1"/><line x1="644.5" y1="5.5" x2="644.5" y2="9.5" stroke="#3a3a3a" stroke-width="1"/><text x="300.7" y="8.8" font-size="10.2" text-anchor="end" fill="#1a1a1a">0</text><text x="300.7" y="35.5" font-size="10.2" text-anchor="end" fill="#1a1a1a">-10</text><text x="300.7" y="62.2" font-size="10.2" text-anchor="end" fill="#1a1a1a">-20</text><text x="300.7" y="88.9" font-size="10.2" text-anchor="end" fill="#1a1a1a">-30</text><text x="300.7" y="115.6" font-size="10.2" text-anchor="end" fill="#1a1a1a">-40</text><text x="300.7" y="142.3" font-size="10.2" text-anchor="end" fill="#1a1a1a">-50</text><text x="300.7" y="169" font-size="10.2" text-anchor="end" fill="#1a1a1a">-60</text><text x="304.3" y="191.1" font-size="10.4" text-anchor="middle" fill="#1a1a1a">1540</text><text x="361" y="191.1" font-size="10.4" text-anchor="middle" fill="#1a1a1a">1550</text><text x="417.7" y="191.1" font-size="10.4" text-anchor="middle" fill="#1a1a1a">1560</text><text x="474.4" y="191.1" font-size="10.4" text-anchor="middle" fill="#1a1a1a">1570</text><text x="531.1" y="191.1" font-size="10.4" text-anchor="middle" fill="#1a1a1a">1580</text><text x="587.8" y="191.1" font-size="10.4" text-anchor="middle" fill="#1a1a1a">1590</text><text x="644.5" y="191.1" font-size="10.4" text-anchor="middle" fill="#1a1a1a">1600</text><text x="474.3" y="203.8" font-size="11.35" text-anchor="middle" fill="#1a1a1a">Wavelength (nm)</text><text x="282.6" y="91.5" font-size="12.4" text-anchor="middle" fill="#1a1a1a" transform="rotate(-90 282.6 91.5)">Intensity (dBm)</text><clipPath id="ce"><rect x="301.5" y="250.5" width="350.0" height="153.0"/></clipPath><g clip-path="url(#ce)"><path d="M300.5,402.5 300.8,401.1 301.1,402.3 301.5,400.5 301.8,401.5 302.1,403 302.4,401.2 302.7,400.6 303.1,402.3 303.4,400 303.7,400.3 304,402.9 304.3,401.5 304.7,400.1 305,402.5 305.3,402.6 305.6,401.6 305.9,401.9 306.3,402.4 306.6,400.4 306.9,400.6 307.2,400 307.5,400.7 307.9,401.2 308.2,402.6 308.5,400.5 308.8,400.2 309.1,401.7 309.5,401.6 309.8,400 310.1,402.9 310.4,400.8 310.7,401.5 311.1,401.3 311.4,402.3 311.7,401.3 312,402.4 312.3,401.8 312.7,398.5 313,401 313.3,396.1 313.6,402.2 313.9,391.3 314.3,401.2 314.6,388.9 314.9,399.2 315.2,390.6 315.5,399 315.9,390.4 316.2,399.8 316.5,391.7 316.8,401.4 317.1,392.9 317.5,402.1 317.8,391.3 318.1,400.8 318.4,394 318.7,402 319.1,393.3 319.4,402.4 319.7,393.9 320,399.5 320.3,393.2 320.7,401.4 321,393.1 321.3,400.9 321.6,395.7 321.9,401.8 322.3,394.2 322.6,399.9 322.9,395.4 323.2,400.7 323.5,395.9 323.9,401.2 324.2,395.3 324.5,402.6 324.8,395.2 325.1,402.6 325.5,396.1 325.8,400.1 326.1,397 326.4,401.3 326.7,396.2 327.1,402.5 327.4,397.7 327.7,402.7 328,397.8 328.3,400.1 328.7,398 329,401.2 329.3,397.7 329.6,402.3 329.9,398.2 330.3,401.6 330.6,398 330.9,402.6 331.2,397.7 331.5,400.4 331.9,398.9 332.2,401.6 332.5,398.2 332.8,402.3 333.1,398.9 333.5,400.8 333.8,399.2 334.1,401.7 334.4,398.5 334.7,402 335.1,399 335.4,400.1 335.7,399.1 336,401.3 336.3,398.9 336.7,401.9 337,399.3 337.3,401.3 337.6,399.2 337.9,400 338.3,399.7 338.6,399.9 338.9,399.9 339.2,402.6 339.5,399.6 339.9,401.5 340.2,400.1 340.5,401 340.8,399.9 341.1,401.8 341.5,400.1 341.8,402.8 342.1,400.2 342.4,400.7 342.7,400 343.1,401.6 343.4,400.2 343.7,401.4 344,400 344.3,402.7 344.7,400.3 345,400.7 345.3,400.2 345.6,401 345.9,400.3 346.3,399.5 346.6,400.6 346.9,399.8 347.2,400.2 347.5,399 347.9,402.6 348.2,401.6 348.5,402 348.8,402.5 349.1,399.4 349.5,401.5 349.8,399.4 350.1,402.1 350.4,400.4 350.7,401.4 351.1,401.8 351.4,400.3 351.7,400.8 352,401 352.3,401.1 352.7,401.2 353,400.9 353.3,402.2 353.6,402 353.9,400 354.3,399.9 354.6,400.8 354.9,401.4 355.2,400.7 355.5,402.3 355.9,401.3 356.2,401.8 356.5,400.1 356.8,402.2 357.1,400.2 357.5,402.7 357.8,401.5 358.1,401.9 358.4,400 358.7,400.3 359.1,401.2 359.4,399.9 359.7,400.6 360,402.5 360.3,400.9 360.7,401.2 361,401.9 361.3,401.8 361.6,400.8 361.9,402.8 362.3,401.2 362.6,402.3 362.9,402.8 363.2,401.3 363.5,401 363.9,402.4 364.2,401.2 364.5,400.7 364.8,401.4 365.1,400.4 365.5,402.8 365.8,401.2 366.1,402.3 366.4,401.4 366.7,400.2 367.1,400.1 367.4,402.1 367.7,400.1 368,400 368.3,401.6 368.7,400 369,402.9 369.3,401 369.6,400.6 369.9,402.3 370.3,401.2 370.6,402.2 370.9,401.2 371.2,400.6 371.5,401.9 371.9,401.7 372.2,401.2 372.5,401.9 372.8,402.8 373.1,401.2 373.5,400.9 373.8,402.5 374.1,401.3 374.4,401.4 374.7,402.2 375.1,400.9 375.4,400.6 375.7,402.2 376,401.8 376.3,402.1 376.7,401.6 377,400.4 377.3,400.5 377.6,400.7 377.9,401.8 378.3,402.9 378.6,401.2 378.9,399.9 379.2,402.2 379.5,400.5 379.9,402.8 380.2,400.4 380.5,401.6 380.8,400.7 381.1,399.9 381.5,400.7 381.8,399.8 382.1,400.4 382.4,398.3 382.7,402.1 383.1,397.3 383.4,402.6 383.7,396.7 384,402.2 384.3,396.4 384.7,400.8 385,395.7 385.3,402 385.6,393.6 385.9,401.8 386.3,394.3 386.6,400.8 386.9,395 387.2,402.5 387.5,394 387.9,401.7 388.2,394 388.5,401 388.8,394.7 389.1,400.9 389.5,395.5 389.8,399.9 390.1,395.5 390.4,400.9 390.7,396.3 391.1,400.4 391.4,396.4 391.7,401.3 392,396 392.3,402.6 392.7,396.9 393,402.1 393.3,396.9 393.6,402.5 393.9,397.7 394.3,400.4 394.6,397.7 394.9,402.3 395.2,398 395.5,402.3 395.9,397.4 396.2,402.3 396.5,397.9 396.8,402.5 397.1,397.8 397.5,402.2 397.8,398.3 398.1,402.7 398.4,398.4 398.7,402.6 399.1,398.5 399.4,400.4 399.7,398.6 400,402.9 400.3,399 400.7,400.1 401,398.8 401.3,402.8 401.6,398.8 401.9,400.5 402.3,399.5 402.6,400.2 402.9,399 403.2,400.5 403.5,399.4 403.9,402.4 404.2,399.4 404.5,400.9 404.8,399.4 405.1,402.8 405.5,400 405.8,401.9 406.1,399.7 406.4,402.5 406.7,400.1 407.1,400.9 407.4,400.1 407.7,401.7 408,400.1 408.3,400.8 408.7,400.1 409,401.3 409.3,400.3 409.6,401.5 409.9,400.3 410.3,402.3 410.6,400.3 410.9,402.4 411.2,400.5 411.5,400.3 411.9,400.3 412.2,402.2 412.5,400.7 412.8,400.9 413.1,401.5 413.5,399.7 413.8,401.2 414.1,399.4 414.4,401.8 414.7,400 415.1,399.2 415.4,401.3 415.7,401.6 416,399.9 416.3,401.2 416.7,401.9 417,400.1 417.3,400.1 417.6,399.6 417.9,399.7 418.3,400.9 418.6,400.7 418.9,400.7 419.2,400.8 419.5,402.3 419.9,402.6 420.2,402.4 420.5,400.6 420.8,401 421.1,401.3 421.5,401.2 421.8,401.5 422.1,400.7 422.4,401.5 422.7,399.9 423.1,401.9 423.4,401.7 423.7,400.3 424,401.5 424.3,401.6 424.7,400.4 425,400.6 425.3,401.9 425.6,401.8 425.9,402.6 426.3,402.2 426.6,401 426.9,400.2 427.2,402.2 427.5,402.3 427.9,402 428.2,402.2 428.5,400.3 428.8,400.5 429.1,402.1 429.5,401.9 429.8,400 430.1,402.4 430.4,400.1 430.7,400.7 431.1,402.2 431.4,399.8 431.7,400.2 432,400.7 432.3,400.2 432.7,401.3 433,400.4 433.3,402.8 433.6,402.4 433.9,401.1 434.3,399.9 434.6,401.5 434.9,401.8 435.2,401.7 435.5,400.7 435.9,401.9 436.2,402.3 436.5,400.2 436.8,401.7 437.1,402.1 437.5,401.3 437.8,401.4 438.1,402.7 438.4,402.2 438.7,402 439.1,400.9 439.4,400.5 439.7,401.9 440,400.6 440.3,400.6 440.7,400.1 441,400.8 441.3,401.3 441.6,402.6 441.9,402.1 442.3,401.6 442.6,402.2 442.9,400.3 443.2,401.1 443.5,402 443.9,402.3 444.2,400.8 444.5,401.2 444.8,400.6 445.1,401.6 445.5,400.8 445.8,402.1 446.1,401.7 446.4,402.1 446.7,402.3 447.1,399.9 447.4,401 447.7,401.4 448,400.3 448.3,401.9 448.7,401.9 449,402.8 449.3,400.1 449.6,402.4 449.9,400.6 450.3,400.6 450.6,401.1 450.9,400.9 451.2,400 451.5,401.5 451.9,401.2 452.2,401.7 452.5,401.6 452.8,402.5 453.1,401.2 453.5,401.6 453.8,400 454.1,400.9 454.4,401.4 454.7,402.6 455.1,402.5 455.4,399.7 455.7,401.1 456,397 456.3,402.3 456.7,394.5 457,399.9 457.3,391.3 457.6,401.9 457.9,390.9 458.3,401.9 458.6,391.8 458.9,400.2 459.2,391 459.5,399.6 459.9,392.7 460.2,401 460.5,391.9 460.8,400.6 461.1,393.3 461.5,401.6 461.8,393.8 462.1,399.9 462.4,393.3 462.7,401.6 463.1,393.2 463.4,400.1 463.7,395 464,400.1 464.3,395.5 464.7,401.1 465,396.2 465.3,401.8 465.6,394.8 465.9,399.9 466.3,395.3 466.6,399.9 466.9,396.7 467.2,401.8 467.5,397.1 467.9,400.9 468.2,397.2 468.5,400.8 468.8,396.2 469.1,401.2 469.5,396.5 469.8,400.6 470.1,396.9 470.4,401.4 470.7,396.9 471.1,401.3 471.4,398.1 471.7,402.1 472,398.3 472.3,400.8 472.7,398 473,400.9 473.3,398.2 473.6,400.1 473.9,398.8 474.3,401.1 474.6,398 474.9,400 475.2,398.3 475.5,402.1 475.9,398.9 476.2,401.9 476.5,399 476.8,401 477.1,399 477.5,402.4 477.8,399.1 478.1,401.1 478.4,399.1 478.7,400.6 479.1,399.3 479.4,402.1 479.7,399.8 480,400.7 480.3,399.4 480.7,402.5 481,399.9 481.3,402.8 481.6,399.6 481.9,401.7 482.3,399.7 482.6,400 482.9,399.8 483.2,400.5 483.5,400.1 483.9,401.4 484.2,400.2 484.5,401.4 484.8,400 485.1,402.2 485.5,400.3 485.8,402.5 486.1,400.2 486.4,400.9 486.7,400.5 487.1,401.3 487.4,400.5 487.7,400.2 488,400.5 488.3,402.1 488.7,400.7 489,399.5 489.3,401.3 489.6,400.1 489.9,400.2 490.3,401.5 490.6,399.8 490.9,401.6 491.2,400.3 491.5,400.1 491.9,400.5 492.2,401.7 492.5,400.6 492.8,401.2 493.1,401.9 493.5,402.5 493.8,400.6 494.1,402 494.4,401.2 494.7,400.1 495.1,401.2 495.4,401.9 495.7,401.4 496,400.9 496.3,399.7 496.7,401.6 497,402.1 497.3,402 497.6,400.9 497.9,401.6 498.3,401.8 498.6,400.6 498.9,400.6 499.2,400.3 499.5,399.6 499.9,400.6 500.2,401 500.5,402.3 500.8,400.2 501.1,400.1 501.5,399.8 501.8,400 502.1,401.6 502.4,400.3 502.7,400.4 503.1,400.6 503.4,401.2 503.7,401 504,402 504.3,400.6 504.7,400.8 505,402.1 505.3,400.2 505.6,401 505.9,401.1 506.3,402.9 506.6,400.1 506.9,401.1 507.2,400.7 507.5,402.2 507.9,400.1 508.2,401.1 508.5,401.7 508.8,401.9 509.1,400.8 509.5,400.6 509.8,402.4 510.1,401.6 510.4,402.1 510.7,401.6 511.1,400.9 511.4,400 511.7,400.1 512,401.6 512.3,400.9 512.7,401.8 513,401.4 513.3,400.3 513.6,401.4 513.9,400.2 514.3,401.7 514.6,402.4 514.9,401.5 515.2,400.7 515.5,400.5 515.9,401.6 516.2,401.9 516.5,400.7 516.8,400.1 517.1,401.6 517.5,401.6 517.8,402.4 518.1,401.8 518.4,402.1 518.7,402.1 519.1,402.7 519.4,401.1 519.7,402 520,402.8 520.3,401.6 520.7,401.6 521,401 521.3,401.3 521.6,401.1 521.9,400.9 522.3,400.5 522.6,402.2 522.9,401.6 523.2,401.5 523.5,400 523.9,402.1 524.2,402.3 524.5,400.8 524.8,402.4 525.1,401.9 525.5,401.6 525.8,399.5 526.1,401.3 526.4,398.5 526.7,402.6 527.1,397.7 527.4,401 527.7,397.4 528,400.7 528.3,395.6 528.7,399.7 529,396.3 529.3,402.4 529.6,395.3 529.9,401.1 530.3,393.1 530.6,401.6 530.9,395.4 531.2,399.7 531.5,395.8 531.9,399.8 532.2,394.8 532.5,400.8 532.8,395.6 533.1,402.6 533.5,395.2 533.8,401.3 534.1,396.2 534.4,401.7 534.7,396.9 535.1,401 535.4,396.5 535.7,400.6 536,397.1 536.3,401.1 536.7,397.9 537,400.3 537.3,397.1 537.6,399.9 537.9,397.8 538.3,401.8 538.6,397.1 538.9,402.5 539.2,397.4 539.5,401.9 539.9,397.8 540.2,403 540.5,397.9 540.8,400 541.1,398.4 541.5,402.5 541.8,398.9 542.1,402 542.4,398.7 542.7,401.5 543.1,399.1 543.4,402.8 543.7,399.3 544,400 544.3,398.9 544.7,401.5 545,399.3 545.3,399.8 545.6,399.4 545.9,401.5 546.3,399.6 546.6,400.2 546.9,399.4 547.2,401.3 547.5,399.9 547.9,402.2 548.2,399.8 548.5,402.6 548.8,399.8 549.1,400.7 549.5,399.6 549.8,402.2 550.1,400 550.4,400.6 550.7,400 551.1,401.5 551.4,400.2 551.7,401.2 552,400.3 552.3,399.9 552.7,400.2 553,402.7 553.3,400.1 553.6,402.9 553.9,400.2 554.3,402.6 554.6,400.5 554.9,402.6 555.2,400.5 555.5,400.4 555.9,401.2 556.2,402.1 556.5,401.1 556.8,400.6 557.1,401.4 557.5,399.4 557.8,400.3 558.1,399.6 558.4,401.4 558.7,401.2 559.1,400.5 559.4,399.6 559.7,402.1 560,402.4 560.3,402.3 560.7,400.5 561,399.5 561.3,400.5 561.6,401.8 561.9,400.4 562.3,402.9 562.6,400.5 562.9,400.1 563.2,399.7 563.5,400.6 563.9,400.2 564.2,401.1 564.5,402 564.8,399.8 565.1,400.3 565.5,401.9 565.8,400.4 566.1,402.4 566.4,401.1 566.7,402.7 567.1,401.8 567.4,401.8 567.7,400.5 568,402.5 568.3,401.3 568.7,402.8 569,400.7 569.3,401.6 569.6,401.3 569.9,402.7 570.3,400.1 570.6,401.2 570.9,402.2 571.2,400.4 571.5,402.2 571.9,399.7 572.2,400.1 572.5,402.7 572.8,402.7 573.1,401.9 573.5,400.2 573.8,400.6 574.1,401.4 574.4,401.5 574.7,400.3 575.1,400.1 575.4,400.4 575.7,400.7 576,401 576.3,399.8 576.7,400.4 577,402.6 577.3,402.6 577.6,401.1 577.9,402 578.3,399.9 578.6,402.7 578.9,399.9 579.2,402.4 579.5,400.8 579.9,402.6 580.2,401.2 580.5,400.4 580.8,400.1 581.1,401.8 581.5,400.9 581.8,400.1 582.1,401.3 582.4,402.9 582.7,402.8 583.1,402.2 583.4,400.7 583.7,402.4 584,400.5 584.3,402.4 584.7,400.5 585,401.8 585.3,401.7 585.6,401.8 585.9,401.8 586.3,400.5 586.6,400.4 586.9,401.6 587.2,401.3 587.5,402.4 587.9,402.7 588.2,401.4 588.5,400.9 588.8,402.3 589.1,400.8 589.5,401.2 589.8,402.9 590.1,400.6 590.4,401 590.7,401.7 591.1,401.7 591.4,400.5 591.7,402.7 592,400.1 592.3,401.2 592.7,400.7 593,400.2 593.3,402.6 593.6,401.2 593.9,401.4 594.3,401.6 594.6,400.8 594.9,400.3 595.2,402.3 595.5,400.8 595.9,401.5 596.2,401.2 596.5,400.3 596.8,402.4 597.1,399.9 597.5,399 597.8,401.4 598.1,396.1 598.4,399.9 598.7,392.8 599.1,399.4 599.4,390.7 599.7,402.6 600,392.2 600.3,399.4 600.7,389.5 601,400.2 601.3,391.3 601.6,402.8 601.9,392.3 602.3,402.6 602.6,392.4 602.9,402.4 603.2,394.1 603.5,400.9 603.9,393.4 604.2,400.3 604.5,392.9 604.8,400.2 605.1,395.2 605.5,402.3 605.8,394.8 606.1,400.8 606.4,395.3 606.7,402 607.1,394 607.4,400.8 607.7,395 608,400.3 608.3,395.4 608.7,400.1 609,395.6 609.3,402.1 609.6,396.1 609.9,402.1 610.3,395.9 610.6,401.5 610.9,396.4 611.2,399.5 611.5,397.2 611.9,401.4 612.2,397.7 612.5,401.2 612.8,397.4 613.1,400.3 613.5,396.9 613.8,402.3 614.1,398.3 614.4,400.7 614.7,398.3 615.1,400.7 615.4,397.8 615.7,399.8 616,398.2 616.3,402.1 616.7,398.7 617,402.7 617.3,398.3 617.6,401 617.9,399.1 618.3,402.3 618.6,398.8 618.9,401.2 619.2,398.9 619.5,400.1 619.9,399.1 620.2,401.8 620.5,399.4 620.8,402.3 621.1,399.4 621.5,402.8 621.8,399.5 622.1,402.8 622.4,399.4 622.7,400.4 623.1,399.5 623.4,402.2 623.7,399.8 624,402.2 624.3,400 624.7,402.5 625,400.1 625.3,399.9 625.6,399.8 625.9,402.6 626.3,400.2 626.6,401.4 626.9,399.9 627.2,402.7 627.5,400.1 627.9,401.3 628.2,400.4 628.5,401.8 628.8,400.2 629.1,402 629.5,400.5 629.8,400.2 630.1,400.5 630.4,402.1 630.7,401.3 631.1,400.6 631.4,400.7 631.7,401.8 632,400.4 632.3,400.3 632.7,400.6 633,400.7 633.3,401.6 633.6,400.3 633.9,399.8 634.3,400 634.6,401.5 634.9,401.6 635.2,401.5 635.5,402.5 635.9,399.5 636.2,401.2 636.5,401.4 636.8,401.5 637.1,400.2 637.5,401 637.8,400.1 638.1,400.1 638.4,400.1 638.7,402.4 639.1,400.9 639.4,400.4 639.7,400.1 640,402.3 640.3,402 640.7,399.7 641,401.9 641.3,400.6 641.6,401.6 641.9,402.6 642.3,401.5 642.6,400.8 642.9,402.5 643.2,401.2 643.5,401.1 643.9,402.4 644.2,400.8 644.5,402.5 644.8,399.9 645.1,399.8 645.5,402.5 645.8,401.5 646.1,401.2 646.4,401.9 646.7,401.9 647.1,402.7 647.4,402.7 647.7,402.7 648,401.4 648.3,401.6 648.7,400.6 649,400.4 649.3,401.1 649.6,402.4 649.9,401.3 650.3,400 650.6,400.1 650.9,402.5 651.2,402.3 651.5,401.3 651.9,400.2 652.2,400.1" fill="none" stroke="#3c3c3c" stroke-width="1.05"/><path d="M300.5,385.1 300.8,388 301.1,387.5 301.5,386.1 301.8,385.3 302.1,385.1 302.4,386.2 302.7,386 303.1,385.9 303.4,385.4 303.7,387.1 304,385.5 304.3,385.2 304.7,385.1 305,385.9 305.3,387.3 305.6,387.1 305.9,385.2 306.3,387.6 306.6,386 306.9,387.9 307.2,388 307.5,386.5 307.9,386.8 308.2,385.3 308.5,386.9 308.8,387.2 309.1,386.4 309.5,386 309.8,387.8 310.1,387 310.4,386.8 310.7,385.2 311.1,386.8 311.4,385.3 311.7,386.4 312,387 312.3,387.5 312.7,384.3 313,385.4 313.3,382.7 313.6,385.9 313.9,380.3 314.3,384.9 314.6,378.4 314.9,385.1 315.2,378.7 315.5,385.6 315.9,378.5 316.2,386.1 316.5,379.2 316.8,386.5 317.1,379.1 317.5,385.6 317.8,381.3 318.1,386.2 318.4,380.9 318.7,387.2 319.1,381 319.4,387.2 319.7,380.3 320,386.9 320.3,382 320.7,386.9 321,382.2 321.3,387.2 321.6,382 321.9,387.3 322.3,381.8 322.6,384.9 322.9,383.1 323.2,386.6 323.5,383.3 323.9,387.3 324.2,383 324.5,385.5 324.8,383.1 325.1,387.2 325.5,383.5 325.8,387.7 326.1,383.8 326.4,385.2 326.7,384 327.1,386.4 327.4,384.2 327.7,386.6 328,383.6 328.3,387.9 328.7,383.6 329,385.4 329.3,384.1 329.6,387.6 329.9,384 330.3,385.6 330.6,384.5 330.9,386.1 331.2,384.3 331.5,385.2 331.9,384.7 332.2,385.4 332.5,384.9 332.8,387.2 333.1,384.6 333.5,386.4 333.8,384.7 334.1,385.1 334.4,385 334.7,385.3 335.1,385.1 335.4,386 335.7,385.3 336,387.9 336.3,385.3 336.7,386.4 337,385.4 337.3,386.3 337.6,385.3 337.9,386.4 338.3,385.6 338.6,385.1 338.9,385.3 339.2,385.5 339.5,387.6 339.9,385.4 340.2,384.8 340.5,385.3 340.8,386 341.1,384.4 341.5,384.5 341.8,385.7 342.1,387 342.4,387 342.7,387.1 343.1,387 343.4,386.4 343.7,387.1 344,386.5 344.3,385.3 344.7,385.7 345,384.8 345.3,387.2 345.6,386.3 345.9,387.5 346.3,387 346.6,387.2 346.9,385.5 347.2,386.1 347.5,386.5 347.9,386.8 348.2,384.9 348.5,386.3 348.8,387.5 349.1,385.2 349.5,386.8 349.8,388 350.1,387.4 350.4,385.6 350.7,386.3 351.1,386.1 351.4,385 351.7,387 352,385.6 352.3,386.9 352.7,386.3 353,386.5 353.3,386 353.6,386.9 353.9,385.6 354.3,386.2 354.6,386.1 354.9,387.1 355.2,386.7 355.5,386.6 355.9,386.2 356.2,386.8 356.5,385.8 356.8,386.1 357.1,385.7 357.5,385.8 357.8,387.3 358.1,386.8 358.4,387.3 358.7,386.5 359.1,387.4 359.4,386.5 359.7,387.7 360,386.6 360.3,387.7 360.7,387.2 361,386.5 361.3,386.3 361.6,387.3 361.9,387.9 362.3,387.7 362.6,386.2 362.9,386.1 363.2,386.6 363.5,387.2 363.9,386.8 364.2,386.9 364.5,387.5 364.8,385.2 365.1,385.2 365.5,386.4 365.8,385 366.1,386.6 366.4,387.8 366.7,385.4 367.1,387.1 367.4,385.6 367.7,387.1 368,387.8 368.3,387 368.7,386.7 369,388 369.3,387.2 369.6,385.6 369.9,387.1 370.3,385.8 370.6,387.8 370.9,387.4 371.2,386.9 371.5,385.3 371.9,385.3 372.2,388 372.5,385.6 372.8,385.3 373.1,388 373.5,387.1 373.8,385.5 374.1,387 374.4,387.3 374.7,386.8 375.1,386 375.4,385.3 375.7,386.7 376,387 376.3,387.7 376.7,387.3 377,386.9 377.3,387.2 377.6,387.1 377.9,385.3 378.3,387.4 378.6,387.2 378.9,385.2 379.2,387.9 379.5,386.3 379.9,386.8 380.2,388 380.5,385.9 380.8,386.4 381.1,386.4 381.5,386.5 381.8,385.2 382.1,387.9 382.4,384.7 382.7,386.4 383.1,383.6 383.4,386.5 383.7,383.4 384,386 384.3,381.9 384.7,386.3 385,382.3 385.3,386.7 385.6,381 385.9,387.5 386.3,379.7 386.6,387.7 386.9,380.8 387.2,385.2 387.5,381.5 387.9,385.7 388.2,381.7 388.5,385.8 388.8,381 389.1,386.9 389.5,382.1 389.8,387.6 390.1,381.7 390.4,385 390.7,383 391.1,385.4 391.4,382.1 391.7,386.5 392,382.4 392.3,385.6 392.7,382.3 393,385.6 393.3,383.2 393.6,387.7 393.9,383 394.3,386.4 394.6,383.2 394.9,387.7 395.2,383.7 395.5,386.4 395.9,383.4 396.2,385.5 396.5,383.8 396.8,386.2 397.1,384 397.5,386.2 397.8,384.3 398.1,385.7 398.4,384 398.7,385.6 399.1,384.3 399.4,386.3 399.7,384.9 400,385.9 400.3,384.5 400.7,385.7 401,384.6 401.3,387.1 401.6,384.6 401.9,386.8 402.3,385.2 402.6,387.5 402.9,385.2 403.2,386.5 403.5,385.3 403.9,387.7 404.2,384.9 404.5,385.7 404.8,385.4 405.1,385.7 405.5,385.5 405.8,386.4 406.1,385.4 406.4,385.4 406.7,385.2 407.1,385.7 407.4,385.3 407.7,385.3 408,385.8 408.3,385.6 408.7,386 409,387 409.3,385 409.6,386.7 409.9,386.6 410.3,386.9 410.6,387.1 410.9,385.4 411.2,385.3 411.5,385.9 411.9,386.4 412.2,385.3 412.5,387.4 412.8,385.4 413.1,386.5 413.5,387.6 413.8,385.7 414.1,386 414.4,386.2 414.7,387.8 415.1,386.5 415.4,386.2 415.7,385.2 416,386.4 416.3,385.3 416.7,387.1 417,385.9 417.3,386.8 417.6,385.9 417.9,386.2 418.3,385.6 418.6,385.6 418.9,385.8 419.2,385.7 419.5,385.4 419.9,384.9 420.2,387.2 420.5,387.5 420.8,387.6 421.1,386 421.5,387.3 421.8,387.2 422.1,385.8 422.4,386.5 422.7,386.2 423.1,385 423.4,387.4 423.7,387.5 424,386.6 424.3,386.3 424.7,387.8 425,386.6 425.3,387.7 425.6,385.9 425.9,386.6 426.3,384.9 426.6,385.3 426.9,385.3 427.2,387.1 427.5,385.1 427.9,386.4 428.2,385.7 428.5,386 428.8,387.8 429.1,386 429.5,386.4 429.8,387.1 430.1,386.9 430.4,386.2 430.7,386.7 431.1,385.3 431.4,387.4 431.7,385.6 432,386.3 432.3,386 432.7,385.2 433,385 433.3,385.8 433.6,387.2 433.9,385.2 434.3,386.4 434.6,387.3 434.9,385.7 435.2,386.2 435.5,387.2 435.9,386.9 436.2,387.6 436.5,387.2 436.8,386.5 437.1,385.7 437.5,387.5 437.8,385.7 438.1,388 438.4,385.6 438.7,387.8 439.1,386.8 439.4,386 439.7,385.5 440,385.2 440.3,387.5 440.7,385.2 441,385.7 441.3,386.4 441.6,386 441.9,387.6 442.3,385.3 442.6,387.9 442.9,385.9 443.2,385.4 443.5,385.9 443.9,385.7 444.2,386.7 444.5,387.1 444.8,386.7 445.1,387.6 445.5,385.4 445.8,385 446.1,387.5 446.4,385 446.7,386.6 447.1,386.6 447.4,385.8 447.7,386.9 448,387 448.3,387.6 448.7,386.8 449,388 449.3,387.4 449.6,385.7 449.9,385.9 450.3,387.2 450.6,386.7 450.9,386.7 451.2,385.7 451.5,385.7 451.9,386.1 452.2,385.2 452.5,385.8 452.8,387.6 453.1,386.3 453.5,387 453.8,387.6 454.1,386.4 454.4,385.9 454.7,386.4 455.1,386.3 455.4,385.2 455.7,387.9 456,383.7 456.3,386.3 456.7,381.4 457,385.6 457.3,379.4 457.6,387.2 457.9,378.7 458.3,387 458.6,379.7 458.9,387.2 459.2,380.9 459.5,386.8 459.9,381.2 460.2,385.6 460.5,379.5 460.8,386.6 461.1,379.8 461.5,386.5 461.8,381.4 462.1,385.6 462.4,381.1 462.7,386.1 463.1,381.9 463.4,385.2 463.7,382 464,386.9 464.3,382.6 464.7,386.7 465,381.7 465.3,387.9 465.6,383.1 465.9,385.6 466.3,383.4 466.6,385.4 466.9,383 467.2,386 467.5,382.7 467.9,387.2 468.2,383.8 468.5,386.7 468.8,383.4 469.1,386.3 469.5,383.7 469.8,387.8 470.1,383.4 470.4,387.7 470.7,383.8 471.1,385.5 471.4,384.4 471.7,385.9 472,384.4 472.3,385.5 472.7,384.1 473,387.3 473.3,384.3 473.6,385.9 473.9,384.2 474.3,385.9 474.6,384.7 474.9,385.9 475.2,384.9 475.5,387.8 475.9,385 476.2,386.5 476.5,384.7 476.8,387.9 477.1,384.8 477.5,386.1 477.8,385.1 478.1,385.5 478.4,385 478.7,385.5 479.1,385.4 479.4,385.9 479.7,385.2 480,386.6 480.3,385.5 480.7,385.7 481,385.3 481.3,385.6 481.6,385.6 481.9,386.7 482.3,386.5 482.6,386.2 482.9,384.2 483.2,387.4 483.5,385.8 483.9,384.9 484.2,386.7 484.5,387.2 484.8,386.2 485.1,384.5 485.5,385.8 485.8,385.6 486.1,387.4 486.4,384.7 486.7,387.4 487.1,387.6 487.4,386.7 487.7,387.6 488,384.9 488.3,386.6 488.7,387 489,387.2 489.3,385 489.6,385.1 489.9,385.8 490.3,386.3 490.6,386.1 490.9,386.9 491.2,386.1 491.5,387.1 491.9,384.6 492.2,385 492.5,387.4 492.8,385.6 493.1,386.1 493.5,386.1 493.8,387.8 494.1,387.8 494.4,387.9 494.7,386 495.1,385.7 495.4,385.3 495.7,385.2 496,386.4 496.3,385.8 496.7,385.1 497,386.1 497.3,385.3 497.6,387.9 497.9,387.4 498.3,386.4 498.6,385.7 498.9,385.7 499.2,386.7 499.5,385.6 499.9,387.4 500.2,386.6 500.5,387.8 500.8,386.9 501.1,385.8 501.5,387 501.8,386.7 502.1,386 502.4,385 502.7,385.1 503.1,386.9 503.4,386.9 503.7,387.9 504,387.6 504.3,385.9 504.7,387.2 505,386.7 505.3,386.1 505.6,386.3 505.9,385.5 506.3,387.9 506.6,386.4 506.9,385.7 507.2,387.9 507.5,385.7 507.9,387.8 508.2,386.1 508.5,387.7 508.8,385.8 509.1,386.3 509.5,387.3 509.8,385.1 510.1,385.5 510.4,387.7 510.7,388 511.1,388 511.4,387.5 511.7,386.6 512,385.8 512.3,387.8 512.7,385.5 513,385.4 513.3,385.8 513.6,385.4 513.9,385.5 514.3,386.4 514.6,386.1 514.9,385.1 515.2,385.3 515.5,387 515.9,386.3 516.2,386.7 516.5,386.7 516.8,387.3 517.1,386 517.5,385.8 517.8,386.9 518.1,385.2 518.4,386.9 518.7,385.7 519.1,388 519.4,386.8 519.7,387.8 520,387.3 520.3,385.9 520.7,386.7 521,386.7 521.3,386.7 521.6,386.3 521.9,387.1 522.3,385.4 522.6,386.2 522.9,388 523.2,385 523.5,385.9 523.9,387.4 524.2,386.7 524.5,387.4 524.8,386.3 525.1,386.6 525.5,386 525.8,385.2 526.1,385.1 526.4,384.5 526.7,385.9 527.1,384.2 527.4,386.4 527.7,383.5 528,387.5 528.3,382.8 528.7,387.3 529,381 529.3,386.1 529.6,380.9 529.9,384.9 530.3,380.2 530.6,387.6 530.9,380.3 531.2,385.9 531.5,381.1 531.9,385.4 532.2,381.8 532.5,387 532.8,381.4 533.1,387.7 533.5,382.8 533.8,385.8 534.1,381.7 534.4,385.8 534.7,382.2 535.1,385.8 535.4,382.5 535.7,385.4 536,382.3 536.3,387.5 536.7,383.6 537,386.1 537.3,383.7 537.6,385.2 537.9,383.3 538.3,387.3 538.6,383.6 538.9,387.2 539.2,384.2 539.5,385.9 539.9,384.3 540.2,387.2 540.5,384.3 540.8,386 541.1,384.2 541.5,385.7 541.8,384 542.1,386.7 542.4,384.6 542.7,385.5 543.1,384.7 543.4,387.6 543.7,384.9 544,386.2 544.3,384.6 544.7,386.5 545,385 545.3,385.7 545.6,385 545.9,385.1 546.3,384.9 546.6,386 546.9,384.9 547.2,385.4 547.5,385.2 547.9,385.7 548.2,385.2 548.5,388 548.8,385.2 549.1,387.8 549.5,385.2 549.8,385.2 550.1,385.3 550.4,387.1 550.7,385.5 551.1,387.6 551.4,385.7 551.7,385.2 552,387.7 552.3,385 552.7,386.3 553,386.9 553.3,386.7 553.6,386.7 553.9,386.2 554.3,387 554.6,387.2 554.9,387.7 555.2,386.2 555.5,386.4 555.9,386.8 556.2,385.3 556.5,385.5 556.8,385.1 557.1,384.7 557.5,387.5 557.8,385.1 558.1,386.7 558.4,385.5 558.7,385.6 559.1,384.7 559.4,386.9 559.7,385.8 560,385.3 560.3,385.9 560.7,386.1 561,387.6 561.3,387 561.6,386.2 561.9,387.4 562.3,385.4 562.6,387.5 562.9,385.9 563.2,385.4 563.5,385.2 563.9,385.1 564.2,384.7 564.5,387.4 564.8,384.9 565.1,386 565.5,387.7 565.8,388 566.1,386.5 566.4,385.9 566.7,385.5 567.1,385.6 567.4,386.4 567.7,385.5 568,385.1 568.3,386.3 568.7,386.9 569,387.5 569.3,385.1 569.6,385.5 569.9,386.2 570.3,385.6 570.6,386.6 570.9,386.5 571.2,387.7 571.5,387.3 571.9,387.1 572.2,386.1 572.5,386.7 572.8,386.6 573.1,387.6 573.5,385.5 573.8,387 574.1,386.4 574.4,385.1 574.7,386.9 575.1,386.7 575.4,385.4 575.7,387.3 576,387.8 576.3,385.7 576.7,386.4 577,387.8 577.3,385.9 577.6,386.1 577.9,385.4 578.3,387.2 578.6,385.1 578.9,385.3 579.2,385.7 579.5,387.6 579.9,387.9 580.2,387.8 580.5,387.5 580.8,386 581.1,387.6 581.5,386.8 581.8,386.2 582.1,385.9 582.4,386 582.7,387.7 583.1,386.1 583.4,385.1 583.7,385.5 584,386.2 584.3,387.8 584.7,385.9 585,385.5 585.3,386.5 585.6,386.7 585.9,385.6 586.3,387.9 586.6,385.6 586.9,386 587.2,385.4 587.5,387.4 587.9,385.5 588.2,387.9 588.5,387.7 588.8,385.1 589.1,385.5 589.5,385.5 589.8,387.1 590.1,385.8 590.4,387.7 590.7,387.6 591.1,386.1 591.4,385.3 591.7,387.1 592,385.5 592.3,386 592.7,385.5 593,387.8 593.3,387.4 593.6,387.7 593.9,385.5 594.3,385.9 594.6,386.4 594.9,387.2 595.2,387.3 595.5,385.7 595.9,387.1 596.2,385.3 596.5,386 596.8,386.9 597.1,387 597.5,385.1 597.8,385.6 598.1,383.3 598.4,385.2 598.7,381.4 599.1,387.5 599.4,377.9 599.7,385.1 600,377.8 600.3,385.5 600.7,379.9 601,385.3 601.3,380.5 601.6,384.6 601.9,380.6 602.3,387.5 602.6,381 602.9,386.6 603.2,381.2 603.5,387 603.9,380.3 604.2,387.6 604.5,380.9 604.8,386.9 605.1,382.3 605.5,386.7 605.8,381.3 606.1,386.4 606.4,382.5 606.7,386.2 607.1,381.9 607.4,386 607.7,383 608,387.1 608.3,382.4 608.7,386.4 609,383.5 609.3,386.2 609.6,383.3 609.9,387.3 610.3,383.8 610.6,387.3 610.9,383.8 611.2,386.3 611.5,383.3 611.9,387.6 612.2,383.7 612.5,386.2 612.8,383.5 613.1,386.8 613.5,384.3 613.8,386.2 614.1,383.9 614.4,386.8 614.7,384.2 615.1,385.2 615.4,384.4 615.7,387 616,384.2 616.3,387.7 616.7,384.7 617,387.6 617.3,384.6 617.6,386.9 617.9,384.9 618.3,385.3 618.6,385 618.9,386.2 619.2,385.2 619.5,387.8 619.9,385.3 620.2,387.5 620.5,385 620.8,386 621.1,385.2 621.5,385.1 621.8,385.1 622.1,387.1 622.4,385.3 622.7,386.7 623.1,385.3 623.4,387.9 623.7,385.5 624,385.5 624.3,386.3 624.7,384.8 625,387 625.3,385.1 625.6,385.5 625.9,387.2 626.3,385.7 626.6,386.2 626.9,386.7 627.2,385.3 627.5,387.7 627.9,386.6 628.2,387.7 628.5,384.8 628.8,385.6 629.1,387 629.5,385.8 629.8,386.1 630.1,386.1 630.4,384.6 630.7,387 631.1,385.9 631.4,385.2 631.7,387 632,386.6 632.3,387.2 632.7,386.7 633,384.8 633.3,387.1 633.6,387.6 633.9,385.8 634.3,386.1 634.6,385.4 634.9,386.4 635.2,386.2 635.5,386.2 635.9,386.6 636.2,386.5 636.5,385.7 636.8,387.9 637.1,387.3 637.5,386.2 637.8,386.4 638.1,387.3 638.4,385.6 638.7,385.5 639.1,387.9 639.4,385.8 639.7,387.4 640,386.9 640.3,386.4 640.7,385 641,386.1 641.3,384.9 641.6,386.7 641.9,386.3 642.3,386.3 642.6,387.4 642.9,387.2 643.2,387.9 643.5,387.4 643.9,385.3 644.2,387.3 644.5,387.2 644.8,387.7 645.1,385.5 645.5,385.6 645.8,385.6 646.1,387.7 646.4,385.4 646.7,385.6 647.1,385.3 647.4,387.4 647.7,385 648,387.2 648.3,385.9 648.7,387.4 649,387.8 649.3,387.9 649.6,386.5 649.9,385.5 650.3,385.2 650.6,386.8 650.9,387 651.2,387.7 651.5,386.4 651.9,386 652.2,387.9" fill="none" stroke="#e8201c" stroke-width="1.05"/><path d="M300.5,371.3 300.8,371.4 301.1,372.5 301.5,372.7 301.8,373.9 302.1,373.8 302.4,374.6 302.7,372.1 303.1,372.8 303.4,373.3 303.7,371.8 304,372.2 304.3,371.1 304.7,371.9 305,372.6 305.3,373.5 305.6,372.9 305.9,372.5 306.3,372.3 306.6,374 306.9,371.7 307.2,374.2 307.5,374.5 307.9,372.6 308.2,373.4 308.5,373.6 308.8,371.8 309.1,373.7 309.5,371.8 309.8,371.6 310.1,372.7 310.4,372.5 310.7,374 311.1,374.4 311.4,374.6 311.7,372.1 312,371.5 312.3,372.4 312.7,367.4 313,372.7 313.3,363.4 313.6,373.9 313.9,358.3 314.3,372.4 314.6,351 314.9,373.7 315.2,354.7 315.5,373.1 315.9,353.8 316.2,373.1 316.5,354.1 316.8,372.5 317.1,355 317.5,370.4 317.8,356.9 318.1,372.2 318.4,356.9 318.7,372 319.1,360.2 319.4,372.2 319.7,359.5 320,371.6 320.3,362.1 320.7,372 321,360.7 321.3,371.3 321.6,359.6 321.9,373.8 322.3,361.8 322.6,373.2 322.9,362.5 323.2,372.3 323.5,364.6 323.9,372.6 324.2,364.5 324.5,371.3 324.8,363.2 325.1,373.6 325.5,364.4 325.8,373.8 326.1,364.6 326.4,371.7 326.7,364.8 327.1,372.5 327.4,364.2 327.7,373.7 328,364.7 328.3,372.3 328.7,365.5 329,372.3 329.3,366.7 329.6,373.2 329.9,365.5 330.3,373.2 330.6,367 330.9,371.4 331.2,367 331.5,373.6 331.9,368.1 332.2,373.7 332.5,366.9 332.8,372.8 333.1,367.9 333.5,373.9 333.8,368.1 334.1,371.4 334.4,367.7 334.7,373.3 335.1,368.3 335.4,374.2 335.7,369 336,373.3 336.3,368.4 336.7,374 337,369.2 337.3,372.1 337.6,369.7 337.9,371.1 338.3,369.8 338.6,370.8 338.9,369.9 339.2,374.4 339.5,370.1 339.9,371.8 340.2,369.6 340.5,372.4 340.8,369.6 341.1,372.3 341.5,370.2 341.8,374.1 342.1,369.9 342.4,373.8 342.7,370.5 343.1,372.3 343.4,370.1 343.7,373 344,370.4 344.3,371.7 344.7,370.8 345,371.2 345.3,370.4 345.6,374.1 345.9,370.6 346.3,371.6 346.6,371 346.9,371.9 347.2,371 347.5,373.8 347.9,371.3 348.2,373.4 348.5,371 348.8,372.4 349.1,371.4 349.5,373.4 349.8,371.3 350.1,373.9 350.4,371.3 350.7,371 351.1,371.4 351.4,373 351.7,371.3 352,371 352.3,371.6 352.7,374.3 353,371.7 353.3,373.2 353.6,371.9 353.9,373.1 354.3,371.6 354.6,372 354.9,371.8 355.2,373.3 355.5,373.7 355.9,372.1 356.2,374.1 356.5,372.8 356.8,372 357.1,371.6 357.5,371.9 357.8,373.6 358.1,370.8 358.4,373.1 358.7,371.9 359.1,372.7 359.4,373.9 359.7,371.8 360,373.5 360.3,370.6 360.7,373.5 361,371 361.3,371.6 361.6,373.7 361.9,371.3 362.3,372 362.6,373.2 362.9,370.6 363.2,371.3 363.5,371.5 363.9,373.9 364.2,373.9 364.5,374 364.8,373.5 365.1,374.2 365.5,371.5 365.8,372.1 366.1,372.2 366.4,371.5 366.7,372.2 367.1,371.1 367.4,371.5 367.7,373.1 368,372 368.3,373.5 368.7,371.7 369,373.9 369.3,370.8 369.6,372.9 369.9,371.5 370.3,372.4 370.6,370.9 370.9,371.5 371.2,372.1 371.5,371.7 371.9,371.3 372.2,372.7 372.5,373.7 372.8,370.8 373.1,374.2 373.5,373 373.8,372.9 374.1,372.6 374.4,374.3 374.7,370.8 375.1,371.9 375.4,372.4 375.7,371.7 376,374.2 376.3,373.5 376.7,372.7 377,373.4 377.3,373 377.6,371.7 377.9,372.1 378.3,371.9 378.6,371.2 378.9,374.4 379.2,371.7 379.5,374.1 379.9,371.7 380.2,370.9 380.5,372.1 380.8,373.8 381.1,371.3 381.5,372.5 381.8,369.9 382.1,372.2 382.4,368.1 382.7,372.9 383.1,367.3 383.4,373 383.7,367 384,374.4 384.3,365.5 384.7,374 385,364.1 385.3,370.5 385.6,361.7 385.9,371.3 386.3,363.3 386.6,372.2 386.9,360.5 387.2,372.2 387.5,363.6 387.9,373.7 388.2,362.5 388.5,372.9 388.8,362.1 389.1,371.3 389.5,362.5 389.8,373.5 390.1,363.7 390.4,371.7 390.7,364.7 391.1,371.9 391.4,366.4 391.7,373.1 392,364.7 392.3,374.2 392.7,366.8 393,373.9 393.3,365.3 393.6,373.3 393.9,366.1 394.3,373.1 394.6,366.2 394.9,372.6 395.2,366.7 395.5,371.1 395.9,366.5 396.2,371.8 396.5,367.5 396.8,371.4 397.1,367.3 397.5,371.2 397.8,367.9 398.1,372.3 398.4,368.2 398.7,371.6 399.1,367.8 399.4,372.9 399.7,368 400,372.2 400.3,369.4 400.7,371.2 401,369.5 401.3,370.8 401.6,368.8 401.9,371.6 402.3,369.3 402.6,373.8 402.9,369.5 403.2,371.7 403.5,369.9 403.9,373.2 404.2,369.8 404.5,370.9 404.8,370.2 405.1,371.5 405.5,370.3 405.8,372.2 406.1,370.4 406.4,374.3 406.7,370.5 407.1,371.3 407.4,370.3 407.7,373.7 408,370.9 408.3,373.1 408.7,371 409,373.1 409.3,370.7 409.6,372.3 409.9,370.5 410.3,373.5 410.6,371.1 410.9,374.3 411.2,371.2 411.5,373.7 411.9,371.3 412.2,371.4 412.5,371.1 412.8,372.7 413.1,371.5 413.5,374.4 413.8,371.5 414.1,372.7 414.4,371.2 414.7,374.6 415.1,371.5 415.4,372.5 415.7,371.4 416,371.1 416.3,371.5 416.7,371.5 417,371.5 417.3,372.9 417.6,371.5 417.9,371.5 418.3,371.8 418.6,371 418.9,371.8 419.2,371.8 419.5,372.7 419.9,373.4 420.2,372.5 420.5,371.1 420.8,373.7 421.1,372.5 421.5,373 421.8,373.7 422.1,374.2 422.4,373.1 422.7,370.8 423.1,373.8 423.4,373.3 423.7,373.8 424,371 424.3,373.8 424.7,370.9 425,373.3 425.3,371.2 425.6,371 425.9,372 426.3,373.5 426.6,373.6 426.9,373 427.2,370.9 427.5,372.1 427.9,373.4 428.2,371.3 428.5,372.7 428.8,374.1 429.1,371.7 429.5,371.2 429.8,371.4 430.1,370.7 430.4,373 430.7,374.3 431.1,372.5 431.4,372.3 431.7,374 432,371.5 432.3,373.2 432.7,372.5 433,372.6 433.3,373.2 433.6,373.6 433.9,372.2 434.3,374 434.6,373.5 434.9,372.5 435.2,373.7 435.5,372.8 435.9,372.6 436.2,373.8 436.5,372.9 436.8,372.3 437.1,371 437.5,374.6 437.8,372.1 438.1,371.9 438.4,373.4 438.7,374.4 439.1,370.8 439.4,373 439.7,372.3 440,373.3 440.3,371.9 440.7,372.1 441,373 441.3,373.8 441.6,371.9 441.9,373.4 442.3,371.9 442.6,374.1 442.9,370.8 443.2,371.5 443.5,374.5 443.9,373.8 444.2,372.2 444.5,373.2 444.8,373.7 445.1,374.2 445.5,371.4 445.8,371.8 446.1,372.1 446.4,371.1 446.7,373 447.1,372.1 447.4,371.5 447.7,372 448,372.1 448.3,371.5 448.7,371.1 449,373.8 449.3,373.8 449.6,373.3 449.9,373.3 450.3,371.5 450.6,372.5 450.9,373.2 451.2,372 451.5,374 451.9,372.7 452.2,372.9 452.5,372.2 452.8,372.8 453.1,373 453.5,373 453.8,373.8 454.1,374.4 454.4,373.2 454.7,373.9 455.1,372.9 455.4,370.5 455.7,372.5 456,367.2 456.3,374.2 456.7,360.6 457,371.9 457.3,355.5 457.6,370.9 457.9,355.3 458.3,374.2 458.6,356.4 458.9,372 459.2,360.7 459.5,370.4 459.9,359.6 460.2,370.9 460.5,360 460.8,373 461.1,361.9 461.5,373.5 461.8,363 462.1,373.5 462.4,361.6 462.7,373.4 463.1,362.1 463.4,373.4 463.7,362.3 464,373.4 464.3,361.4 464.7,370.9 465,362.8 465.3,372.3 465.6,363.7 465.9,373.4 466.3,364.3 466.6,374.3 466.9,363.2 467.2,371.6 467.5,363.6 467.9,372.8 468.2,365.8 468.5,371.1 468.8,364.7 469.1,373.9 469.5,366.3 469.8,371.2 470.1,367.1 470.4,373 470.7,367.5 471.1,374.1 471.4,367.3 471.7,372.6 472,366.8 472.3,371.7 472.7,367.7 473,373 473.3,368.5 473.6,373.2 473.9,368.6 474.3,372.7 474.6,367.6 474.9,374.3 475.2,367.9 475.5,372.9 475.9,367.9 476.2,374.2 476.5,368.2 476.8,371.1 477.1,369 477.5,372.2 477.8,368.9 478.1,373 478.4,369.4 478.7,372.6 479.1,369.9 479.4,371.3 479.7,369.7 480,370.8 480.3,370 480.7,372.5 481,369.7 481.3,373.6 481.6,369.5 481.9,372.3 482.3,369.9 482.6,371.9 482.9,369.9 483.2,372.8 483.5,370.5 483.9,370.8 484.2,370.1 484.5,372.7 484.8,370.6 485.1,371.8 485.5,370.7 485.8,371 486.1,371.1 486.4,371.7 486.7,371 487.1,373 487.4,370.9 487.7,372.9 488,370.9 488.3,372.1 488.7,371.2 489,374.2 489.3,371.2 489.6,371.5 489.9,371.1 490.3,374 490.6,371.1 490.9,371 491.2,371.6 491.5,373.5 491.9,371.3 492.2,371 492.5,371.7 492.8,374.1 493.1,371.7 493.5,372.5 493.8,371.6 494.1,373.3 494.4,371.7 494.7,373.3 495.1,371.8 495.4,374.1 495.7,371.9 496,372.8 496.3,371.1 496.7,371 497,371.6 497.3,371.5 497.6,373.2 497.9,373.3 498.3,372.5 498.6,374.3 498.9,373.7 499.2,371.6 499.5,372.1 499.9,373 500.2,371.2 500.5,373.8 500.8,371.5 501.1,373.7 501.5,372.8 501.8,371.5 502.1,372.5 502.4,373.9 502.7,371.3 503.1,372.6 503.4,374 503.7,373.4 504,370.9 504.3,373 504.7,373.2 505,372 505.3,374.4 505.6,373.7 505.9,373.8 506.3,372.3 506.6,373.3 506.9,373 507.2,373.6 507.5,371.8 507.9,373.9 508.2,374 508.5,372.4 508.8,371.8 509.1,372.2 509.5,373.9 509.8,371.8 510.1,374.4 510.4,372.5 510.7,371.2 511.1,371.6 511.4,372.9 511.7,373.7 512,372.2 512.3,371.4 512.7,371.4 513,374.5 513.3,371.7 513.6,372.7 513.9,374.2 514.3,372.4 514.6,372.6 514.9,372.8 515.2,371.7 515.5,371.4 515.9,373.4 516.2,372.7 516.5,374.4 516.8,371.7 517.1,371.8 517.5,371.2 517.8,373.6 518.1,372.1 518.4,374.2 518.7,374.4 519.1,372.7 519.4,371.4 519.7,372.5 520,373.7 520.3,370.9 520.7,371.6 521,374.4 521.3,373.6 521.6,371.6 521.9,372.8 522.3,372.7 522.6,372.7 522.9,372.6 523.2,372.7 523.5,374.4 523.9,372.8 524.2,373 524.5,373.3 524.8,372.1 525.1,371.4 525.5,372.8 525.8,370.4 526.1,371.2 526.4,369.5 526.7,372.5 527.1,367.4 527.4,372.2 527.7,366 528,371.2 528.3,366.3 528.7,373.8 529,365.3 529.3,372.2 529.6,363.2 529.9,372 530.3,361.4 530.6,370.4 530.9,363 531.2,374.2 531.5,364.5 531.9,370.5 532.2,365 532.5,373.1 532.8,363.9 533.1,370.8 533.5,364.1 533.8,372.5 534.1,365 534.4,371.4 534.7,364.8 535.1,371.6 535.4,365.8 535.7,371.9 536,365.8 536.3,373 536.7,366.3 537,373.1 537.3,367.6 537.6,374.3 537.9,367.8 538.3,372.8 538.6,367.4 538.9,371 539.2,366.6 539.5,371.8 539.9,367.1 540.2,374.4 540.5,367.1 540.8,373.1 541.1,367.3 541.5,370.8 541.8,368.6 542.1,372.2 542.4,369.1 542.7,371.7 543.1,368.9 543.4,371.2 543.7,368.4 544,371.3 544.3,369.2 544.7,372.7 545,369.6 545.3,373.1 545.6,370 545.9,372.5 546.3,369.5 546.6,374.4 546.9,369.7 547.2,371.6 547.5,369.6 547.9,371.5 548.2,369.9 548.5,372.4 548.8,369.8 549.1,374.4 549.5,370 549.8,371.2 550.1,370.4 550.4,373.1 550.7,370.7 551.1,371.3 551.4,370.3 551.7,373.3 552,371 552.3,372.8 552.7,370.9 553,371 553.3,370.5 553.6,372 553.9,371 554.3,371.3 554.6,371 554.9,372.3 555.2,371 555.5,374 555.9,371 556.2,374.4 556.5,371.4 556.8,371.3 557.1,371.2 557.5,373.3 557.8,371.5 558.1,373.8 558.4,371.2 558.7,371.3 559.1,371.3 559.4,371.2 559.7,371.5 560,373.8 560.3,371.7 560.7,373.8 561,371.8 561.3,373.4 561.6,371.8 561.9,371.8 562.3,371.6 562.6,374.2 562.9,373.1 563.2,373.1 563.5,371.2 563.9,372.8 564.2,372.7 564.5,372.5 564.8,372 565.1,373.9 565.5,372.9 565.8,370.9 566.1,374.2 566.4,371.1 566.7,373.1 567.1,372.5 567.4,370.2 567.7,372.1 568,371.8 568.3,371.8 568.7,373.4 569,372.2 569.3,371.8 569.6,373.6 569.9,373 570.3,372.3 570.6,371.6 570.9,371.4 571.2,372.4 571.5,372.6 571.9,373.5 572.2,371.4 572.5,372.9 572.8,373 573.1,371.9 573.5,372.6 573.8,373.3 574.1,372.3 574.4,372.1 574.7,372.5 575.1,372.3 575.4,371.5 575.7,373.7 576,371.7 576.3,372.4 576.7,373 577,374.1 577.3,374.5 577.6,374.4 577.9,371.8 578.3,373.8 578.6,371.1 578.9,373.9 579.2,374.2 579.5,371.3 579.9,374 580.2,372.7 580.5,373.8 580.8,373.9 581.1,374.3 581.5,371.4 581.8,373 582.1,372.9 582.4,371.4 582.7,373.5 583.1,373.4 583.4,372.6 583.7,372.3 584,372.6 584.3,372.2 584.7,371 585,372.6 585.3,374 585.6,373.6 585.9,372 586.3,372.9 586.6,372.9 586.9,371.3 587.2,373.4 587.5,371.2 587.9,374.4 588.2,373.1 588.5,372.1 588.8,373.1 589.1,372.4 589.5,372.1 589.8,373 590.1,374 590.4,373.1 590.7,373.8 591.1,372.4 591.4,373.1 591.7,371.7 592,372.4 592.3,373.7 592.7,374.4 593,372.3 593.3,372.4 593.6,371.6 593.9,373.5 594.3,373.5 594.6,372.9 594.9,372.8 595.2,372.4 595.5,372.9 595.9,372.8 596.2,372.2 596.5,374.6 596.8,373.1 597.1,373.9 597.5,369.8 597.8,373.5 598.1,363.6 598.4,372.7 598.7,361.4 599.1,372.4 599.4,358.5 599.7,372.5 600,357.8 600.3,371.2 600.7,356.3 601,371.2 601.3,354.6 601.6,370.2 601.9,356.3 602.3,370.9 602.6,358.7 602.9,371.7 603.2,357.1 603.5,371.2 603.9,359.3 604.2,370.1 604.5,361.3 604.8,372.8 605.1,361.6 605.5,371.5 605.8,360.7 606.1,370.9 606.4,362 606.7,374 607.1,361.6 607.4,371 607.7,364.2 608,372.4 608.3,363.9 608.7,370.8 609,364.1 609.3,372.4 609.6,363.5 609.9,370.5 610.3,364.9 610.6,371.3 610.9,364.6 611.2,374.1 611.5,365.7 611.9,373.6 612.2,364.6 612.5,372.6 612.8,365.8 613.1,373.5 613.5,365.7 613.8,371 614.1,366.9 614.4,373.4 614.7,366 615.1,373.1 615.4,366.3 615.7,372.2 616,367.4 616.3,372.5 616.7,368.1 617,371.1 617.3,367.6 617.6,372 617.9,368.2 618.3,372.2 618.6,367.5 618.9,373.5 619.2,368.5 619.5,371.6 619.9,367.9 620.2,372 620.5,369.3 620.8,374.4 621.1,368.8 621.5,372.5 621.8,368.6 622.1,371.9 622.4,369.6 622.7,373.4 623.1,369.6 623.4,372.5 623.7,369.5 624,373.2 624.3,370 624.7,372.5 625,370.4 625.3,373.2 625.6,369.6 625.9,373.2 626.3,370 626.6,374.3 626.9,370.6 627.2,371.9 627.5,370.1 627.9,373.2 628.2,370.5 628.5,373.6 628.8,370.8 629.1,371 629.5,371 629.8,372 630.1,371.1 630.4,372.8 630.7,371.2 631.1,373.9 631.4,371.1 631.7,371.4 632,370.9 632.3,373.3 632.7,371 633,373.5 633.3,371.1 633.6,372.6 633.9,371.4 634.3,371.5 634.6,371.4 634.9,372.3 635.2,371.6 635.5,372.7 635.9,371.4 636.2,372.5 636.5,371.6 636.8,373.8 637.1,371.7 637.5,373 637.8,371.5 638.1,372.2 638.4,371.6 638.7,371.8 639.1,371.8 639.4,373.8 639.7,370.3 640,371.6 640.3,372.5 640.7,373.7 641,373 641.3,370.6 641.6,374.3 641.9,373 642.3,374.2 642.6,371.6 642.9,372.7 643.2,374.1 643.5,374.4 643.9,371.4 644.2,370.7 644.5,370.9 644.8,371.7 645.1,371.1 645.5,372.5 645.8,373.7 646.1,373.7 646.4,371.5 646.7,372 647.1,372.5 647.4,373.7 647.7,373.9 648,373 648.3,372.9 648.7,372.3 649,373.5 649.3,372.6 649.6,374 649.9,373.7 650.3,373.8 650.6,371.5 650.9,371 651.2,371 651.5,373 651.9,373.3 652.2,373.2" fill="none" stroke="#2f55ee" stroke-width="1.05"/><path d="M301.1,276.6 301.6,281.9 302.2,274.8 302.7,280.7 303.3,275.6 303.8,283.6 304.4,274.5 304.9,281.1 305.5,273.2 306,286.7 306.6,275.9 307.1,287.6 307.7,273.1 308.2,287.1 308.8,270.3 309.3,286.5 309.9,268.4 310.4,289.4 311,265.7 311.5,289.5 312.1,266.6 312.6,293.3 313.2,264 314,352.8 314.9,261.1 315.7,353.6 316.6,261.1 317.4,353.8 318.3,261.1 319.1,353.2 320,261.1 320.8,352.6 321.7,261.1 322.5,352.9 323.4,261.1 324.2,352.5 325.1,261.1 325.6,295.5 326.2,262.7 326.7,295.2 327.3,263.8 327.8,294.9 328.4,261.7 328.9,294 329.5,262.7 330,290.8 330.6,264.5 331.1,290.2 331.7,264.6 332.2,288 332.8,264.4 333.3,288.4 333.9,267 334.4,289.6 335,265.7 335.5,288.3 336.1,265.8 336.6,286.9 337.2,266.4 337.7,287.8 338.3,266 338.8,285.9 339.4,264.5 339.9,284.8 340.5,265.3 341,283.7 341.6,265.6 342.1,284.1 342.7,267.8 343.2,284.8 343.8,267.3 344.3,283.6 344.9,266.5 345.4,285 346,271.9 346.5,282.8 347.1,270.2 347.6,282.7 348.2,270.2 348.7,286.8 349.3,269 349.8,284.1 350.4,270.1 350.9,283.1 351.5,268.7 352,285.7 352.6,270.8 353.1,283.9 353.7,270.2 354.2,284.3 354.8,267.5 355.3,283.5 355.9,268.3 356.4,281.3 357,270.9 357.5,284.3 358.1,270.1 358.6,285.9 359.2,273.5 359.7,283.3 360.3,272.1 360.8,282.8 361.4,271 361.9,282.1 362.5,272.5 363,285.1 363.6,270.5 364.1,284.5 364.7,273 365.2,285.7 365.8,272.8 366.3,282.8 366.9,272.8 367.4,285.4 368,272.5 368.5,283.4 369.1,275.2 369.6,283.8 370.2,271 370.7,281.9 371.3,273.6 371.8,286.2 372.4,275.1 372.9,287 373.5,275.1 374,284.6 374.6,274 375.1,282 375.7,275.3 376.2,285.7 376.8,273.3 377.3,284.5 377.9,272.1 378.4,285.8 379,270.3 379.5,287.3 380.1,270.5 380.6,291 381.2,265.6 381.7,293.4 382.3,265.8 382.8,295.3 383.7,261.1 384.5,353.7 385.4,261.1 386.2,352.6 387.1,261.1 387.9,352.7 388.8,261.1 389.3,296.5 389.9,262.3 390.4,293.3 391,261.1 391.5,295.6 392.1,263.3 392.6,291.4 393.2,261.2 393.7,289.8 394.3,266.2 394.8,291.5 395.4,265.3 395.9,291.7 396.5,267.4 397,287.9 397.6,264.7 398.1,288.4 398.7,266.6 399.2,286.6 399.8,267.5 400.3,287.8 400.9,267.6 401.4,288.3 402,264.7 402.5,285.9 403.1,270.2 403.6,284.4 404.2,269.7 404.7,284.5 405.3,264.8 405.8,286.2 406.4,267.6 406.9,284.2 407.5,267 408,285.7 408.6,267.4 409.1,284.4 409.7,269.1 410.2,284.5 410.8,269.3 411.3,285.5 411.9,268.7 412.4,286.3 413,268.6 413.5,282.5 414.1,268.8 414.6,281.7 415.2,268.3 415.7,282.1 416.3,271.2 416.8,285.2 417.4,270.3 417.9,284.2 418.5,273.9 419,281.7 419.6,271 420.1,284.2 420.7,271 421.2,284.5 421.8,269.1 422.3,285.1 422.9,269 423.4,284.7 424,271.5 424.5,286 425.1,270.9 425.6,282.3 426.2,269.3 426.7,283 427.3,272.1 427.8,284.5 428.4,272.7 428.9,283.8 429.5,275.5 430,284.7 430.6,274.6 431.1,282.8 431.7,275.4 432.2,284.8 432.8,275.4 433.3,284.1 433.9,272.5 434.4,284.8 435,272.4 435.5,284.9 436.1,274 436.6,283.6 437.2,274.7 437.7,283.2 438.3,274.5 438.8,286.2 439.4,273.6 439.9,283.5 440.5,273 441,286.5 441.6,274 442.1,284.9 442.7,274.1 443.2,284.3 443.8,274.6 444.3,283 444.9,273.3 445.4,284.6 446,270.2 446.5,283.5 447.1,275.3 447.6,283.3 448.2,273 448.7,285.9 449.3,275.6 449.8,286.2 450.4,275.2 450.9,285.8 451.5,275.2 452,282.8 452.6,274.4 453.1,284 453.7,269.7 454.2,287 454.8,270.3 455.3,290.2 455.9,265.4 456.4,291.7 457,264.7 457.5,294.3 458.1,261.3 458.9,353.3 459.8,261.1 460.6,353.5 461.5,261.1 462.3,353 463.2,261.1 464,353.9 464.9,261.1 465.7,354.3 466.6,261.1 467.4,352.7 468.3,261.1 469.1,353.6 470,261.1 470.8,353 471.4,263 471.9,294.5 472.5,260.2 473,292.9 473.6,260.7 474.1,292.6 474.7,263.8 475.2,290 475.8,264.5 476.3,290.8 476.9,262.5 477.4,290.9 478,264.3 478.5,288 479.1,264.7 479.6,290 480.2,268 480.7,287.2 481.3,266.5 481.8,288 482.4,268.8 482.9,288.3 483.5,266.9 484,288 484.6,267.6 485.1,284.3 485.7,268 486.2,286.7 486.8,269.5 487.3,283.7 487.9,270.3 488.4,284.6 489,268 489.5,284.2 490.1,268.5 490.6,285.6 491.2,268.8 491.7,283 492.3,268.8 492.8,284.4 493.4,269.4 493.9,286.5 494.5,271.8 495,284.9 495.6,272.1 496.1,284.1 496.7,269.2 497.2,285.7 497.8,271.2 498.3,283.4 498.9,270.7 499.4,284.7 500,272.8 500.5,284.1 501.1,269.8 501.6,281.7 502.2,270.3 502.7,282.9 503.3,271.1 503.8,286.4 504.4,271.4 504.9,285.2 505.5,272.5 506,281.5 506.6,270.7 507.1,285.5 507.7,268.3 508.2,283.3 508.8,271.5 509.3,284.1 509.9,271.1 510.4,283.3 511,273.5 511.5,284.4 512.1,275.4 512.6,281.5 513.2,272.6 513.7,284.3 514.3,272.5 514.8,284.7 515.4,275.8 515.9,285.4 516.5,275.7 517,284.2 517.6,276.1 518.1,283.3 518.7,274.7 519.2,282.4 519.8,271.3 520.3,284.7 520.9,275 521.4,284 522,274.1 522.5,285.4 523.1,271.7 523.6,285.4 524.2,270.4 524.7,287.3 525.3,269.2 525.8,289 526.4,266.3 526.9,292 527.5,264.3 528,293.4 528.6,261.6 529.4,353 530.3,261.1 531.1,354.3 532,261.1 532.8,353.1 533.7,261.1 534.5,354.2 535.4,261.1 536.2,354.1 537.1,261.1 537.9,353.6 538.8,261.1 539.3,295.6 539.9,263.2 540.4,294.4 541,260.4 541.5,292.6 542.1,262.1 542.6,293 543.2,266 543.7,292.4 544.3,266.4 544.8,288.8 545.4,263.1 545.9,290.3 546.5,265.8 547,289.1 547.6,267.5 548.1,289.3 548.7,267.1 549.2,285.9 549.8,268.9 550.3,288.5 550.9,266.2 551.4,284.8 552,266.5 552.5,284.5 553.1,266.3 553.6,286.1 554.2,268.4 554.7,285 555.3,271.1 555.8,285.3 556.4,267.8 556.9,284.4 557.5,270 558,286.3 558.6,267.9 559.1,284.6 559.7,270.5 560.2,285.6 560.8,268.4 561.3,282 561.9,271.1 562.4,284.3 563,269.1 563.5,283.3 564.1,268 564.6,282.6 565.2,268 565.7,283 566.3,270.2 566.8,285 567.4,270.5 567.9,281.9 568.5,271.8 569,282.8 569.6,267.9 570.1,285.2 570.7,271.7 571.2,284.4 571.8,269.7 572.3,282.8 572.9,269.2 573.4,281.5 574,272 574.5,285.3 575.1,272.2 575.6,283.7 576.2,272 576.7,285.4 577.3,274 577.8,282 578.4,272 578.9,284.4 579.5,272.5 580,283.8 580.5,273.9 581.1,285.4 581.6,272.8 582.2,283.6 582.7,274.1 583.3,286.5 583.8,275.7 584.4,282.1 584.9,272.4 585.5,284.4 586,276.1 586.6,284.1 587.1,273.6 587.7,284.2 588.2,276.1 588.8,285.7 589.3,274.8 589.9,284.5 590.4,275.9 591,285.5 591.5,274.7 592.1,285.3 592.6,272.8 593.2,285.8 593.7,273 594.3,288 594.8,268.8 595.4,288.3 595.9,269 596.5,291.1 597,267.3 597.6,293.9 598.1,264 598.7,292.5 599.5,261.1 600.4,354.1 601.2,261.1 602.1,353.5 602.9,261.1 603.8,353.5 604.6,261.1 605.5,352.5 606.3,261.1 607.2,353.4 608,261.1 608.9,354.5 609.7,261.1 610.3,295.1 610.8,259.8 611.4,295.1 611.9,260 612.5,291 613,260.6 613.6,291.3 614.1,265.1 614.7,292.4 615.2,263.1 615.8,290.1 616.3,263.2 616.9,291 617.4,265.6 618,287.6 618.5,266.2 619.1,288.2 619.6,263.9 620.2,285.3 620.7,267.5 621.3,286.3 621.8,267.8 622.4,285.7 622.9,267 623.5,284.5 624,268.7 624.6,284.4 625.1,266.7 625.7,283.8 626.2,265.4 626.8,283.7 627.3,268.5 627.9,286.4 628.4,267.5 629,283.9 629.5,268 630.1,285.2 630.6,266.4 631.2,282.5 631.7,267.5 632.3,283.1 632.8,269 633.4,284.4 633.9,270.5 634.5,284.4 635,267.8 635.6,284.6 636.1,269.2 636.7,283.8 637.2,271.1 637.8,285.4 638.3,269.7 638.9,283.6 639.4,268.1 640,283.3 640.5,270.5 641.1,284.9 641.6,269.5 642.2,282.5 642.7,273.2 643.3,285.3 643.8,270.4 644.4,290.6 644.9,271.2 645.5,284.5 646,272.5 646.6,281.2 647.1,271.7 647.7,282.9 648.2,270.6 648.8,281.4 649.3,271.9 649.9,286.3 650.4,272.7 651,286.5 651.5,271.9 652.1,281.9 652.6,273.1" fill="none" stroke="#3f9f2c" stroke-width="0.8" stroke-dasharray="1.1 0.7"/></g><line x1="301.5" y1="250.5" x2="651.5" y2="250.5" stroke="#3a3a3a" stroke-width="1"/><line x1="301.5" y1="403.5" x2="651.5" y2="403.5" stroke="#3a3a3a" stroke-width="1"/><line x1="301.5" y1="250.5" x2="301.5" y2="403.5" stroke="#3a3a3a" stroke-width="1"/><line x1="651.5" y1="250.5" x2="651.5" y2="403.5" stroke="#3a9a2e" stroke-width="1"/><line x1="301.5" y1="403.3" x2="305.5" y2="403.3" stroke="#3a3a3a" stroke-width="1"/><line x1="301.5" y1="372.8" x2="305.5" y2="372.8" stroke="#3a3a3a" stroke-width="1"/><line x1="301.5" y1="342.3" x2="305.5" y2="342.3" stroke="#3a3a3a" stroke-width="1"/><line x1="301.5" y1="311.9" x2="305.5" y2="311.9" stroke="#3a3a3a" stroke-width="1"/><line x1="301.5" y1="281.4" x2="305.5" y2="281.4" stroke="#3a3a3a" stroke-width="1"/><line x1="301.5" y1="250.9" x2="305.5" y2="250.9" stroke="#3a3a3a" stroke-width="1"/><line x1="651.5" y1="403.3" x2="647.5" y2="403.3" stroke="#3a9a2e" stroke-width="1"/><line x1="651.5" y1="352.5" x2="647.5" y2="352.5" stroke="#3a9a2e" stroke-width="1"/><line x1="651.5" y1="301.7" x2="647.5" y2="301.7" stroke="#3a9a2e" stroke-width="1"/><line x1="651.5" y1="250.9" x2="647.5" y2="250.9" stroke="#3a9a2e" stroke-width="1"/><line x1="301.4" y1="403.5" x2="301.4" y2="399.5" stroke="#3a3a3a" stroke-width="1"/><line x1="301.4" y1="250.5" x2="301.4" y2="254.5" stroke="#3a3a3a" stroke-width="1"/><line x1="359.8" y1="403.5" x2="359.8" y2="399.5" stroke="#3a3a3a" stroke-width="1"/><line x1="359.8" y1="250.5" x2="359.8" y2="254.5" stroke="#3a3a3a" stroke-width="1"/><line x1="418.1" y1="403.5" x2="418.1" y2="399.5" stroke="#3a3a3a" stroke-width="1"/><line x1="418.1" y1="250.5" x2="418.1" y2="254.5" stroke="#3a3a3a" stroke-width="1"/><line x1="476.4" y1="403.5" x2="476.4" y2="399.5" stroke="#3a3a3a" stroke-width="1"/><line x1="476.4" y1="250.5" x2="476.4" y2="254.5" stroke="#3a3a3a" stroke-width="1"/><line x1="534.8" y1="403.5" x2="534.8" y2="399.5" stroke="#3a3a3a" stroke-width="1"/><line x1="534.8" y1="250.5" x2="534.8" y2="254.5" stroke="#3a3a3a" stroke-width="1"/><line x1="593.1" y1="403.5" x2="593.1" y2="399.5" stroke="#3a3a3a" stroke-width="1"/><line x1="593.1" y1="250.5" x2="593.1" y2="254.5" stroke="#3a3a3a" stroke-width="1"/><line x1="651.5" y1="403.5" x2="651.5" y2="399.5" stroke="#3a3a3a" stroke-width="1"/><line x1="651.5" y1="250.5" x2="651.5" y2="254.5" stroke="#3a3a3a" stroke-width="1"/><text x="298.5" y="406.9" font-size="10.3" text-anchor="end" fill="#1a1a1a">0</text><text x="298.5" y="376.4" font-size="10.3" text-anchor="end" fill="#1a1a1a">10</text><text x="298.5" y="345.9" font-size="10.3" text-anchor="end" fill="#1a1a1a">20</text><text x="298.5" y="315.5" font-size="10.3" text-anchor="end" fill="#1a1a1a">30</text><text x="298.5" y="285" font-size="10.3" text-anchor="end" fill="#1a1a1a">40</text><text x="298.5" y="254.5" font-size="10.3" text-anchor="end" fill="#1a1a1a">50</text><text x="654.8" y="406.9" font-size="10.3" text-anchor="start" fill="#3a9a2e">0</text><text x="654.8" y="356.1" font-size="10.3" text-anchor="start" fill="#3a9a2e">0.5</text><text x="654.8" y="305.3" font-size="10.3" text-anchor="start" fill="#3a9a2e">1</text><text x="654.8" y="254.5" font-size="10.3" text-anchor="start" fill="#3a9a2e">1.5</text><text x="301.4" y="417.6" font-size="10.3" text-anchor="middle" fill="#1a1a1a">0.4</text><text x="359.8" y="417.6" font-size="10.3" text-anchor="middle" fill="#1a1a1a">0.6</text><text x="418.1" y="417.6" font-size="10.3" text-anchor="middle" fill="#1a1a1a">0.8</text><text x="476.4" y="417.6" font-size="10.3" text-anchor="middle" fill="#1a1a1a">1</text><text x="534.8" y="417.6" font-size="10.3" text-anchor="middle" fill="#1a1a1a">1.2</text><text x="593.1" y="417.6" font-size="10.3" text-anchor="middle" fill="#1a1a1a">1.4</text><text x="651.5" y="417.6" font-size="10.3" text-anchor="middle" fill="#1a1a1a">1.6</text><text x="476.6" y="430.5" font-size="11.7" text-anchor="middle" fill="#1a1a1a">Time (Roundtrips)</text><text x="627.8" y="431.2" font-size="11.6" text-anchor="start" fill="#1a1a1a">×10</text><text x="646.6" y="427.2" font-size="8.2" text-anchor="start" fill="#1a1a1a">5</text><text x="282.7" y="326.2" font-size="12.9" text-anchor="middle" fill="#1a1a1a" transform="rotate(-90 282.7 326.2)">Output power (a.u.)</text><text x="680.6" y="327" font-size="12.6" text-anchor="middle" fill="#3a9a2e" transform="rotate(-90 680.6 327)">Normalized phase difference</text><rect x="356.2" y="222.5" width="239.9" height="18.1" fill="#fff" stroke="#222" stroke-width="1"/><line x1="357.7" y1="231.3" x2="369.6" y2="231.3" stroke="#333" stroke-width="1.2"/><text x="372.2" y="233.7" font-size="11.6" fill="#1a1a1a">I<tspan dy="2.7" font-size="8.6">x</tspan></text><line x1="383" y1="231.3" x2="395.6" y2="231.3" stroke="#e02020" stroke-width="1.2"/><text x="398.2" y="233.7" font-size="11.6" fill="#1a1a1a">I<tspan dy="2.7" font-size="8.6">y</tspan><tspan dy="-2.7">+4</tspan></text><line x1="422.4" y1="231.3" x2="435" y2="231.3" stroke="#2b50e8" stroke-width="1.2"/><text x="437.8" y="233.7" font-size="11.6" fill="#1a1a1a">I=(I<tspan dy="2.7" font-size="8.6">x</tspan><tspan dy="-2.7">+I</tspan><tspan dy="2.7" font-size="8.6">y</tspan><tspan dy="-2.7">)+8</tspan></text><line x1="493.3" y1="231.3" x2="506" y2="231.3" stroke="#3a9a2e" stroke-width="1" stroke-dasharray="1 0.8"/><text x="507.4" y="233.7" font-size="11.6" text-anchor="start" fill="#1a1a1a">Phase difference</text><line x1="335.6" y1="464.5" x2="335.6" y2="633.5" stroke="#e8e8e8" stroke-width="0.7"/><line x1="354.3" y1="464.5" x2="354.3" y2="633.5" stroke="#e8e8e8" stroke-width="0.7"/><line x1="367.5" y1="464.5" x2="367.5" y2="633.5" stroke="#e8e8e8" stroke-width="0.7"/><line x1="377.8" y1="464.5" x2="377.8" y2="633.5" stroke="#e8e8e8" stroke-width="0.7"/><line x1="386.2" y1="464.5" x2="386.2" y2="633.5" stroke="#e8e8e8" stroke-width="0.7"/><line x1="393.3" y1="464.5" x2="393.3" y2="633.5" stroke="#e8e8e8" stroke-width="0.7"/><line x1="399.5" y1="464.5" x2="399.5" y2="633.5" stroke="#e8e8e8" stroke-width="0.7"/><line x1="404.9" y1="464.5" x2="404.9" y2="633.5" stroke="#e8e8e8" stroke-width="0.7"/><line x1="409.8" y1="464.5" x2="409.8" y2="633.5" stroke="#e8e8e8" stroke-width="0.7"/><line x1="441.8" y1="464.5" x2="441.8" y2="633.5" stroke="#e8e8e8" stroke-width="0.7"/><line x1="460.5" y1="464.5" x2="460.5" y2="633.5" stroke="#e8e8e8" stroke-width="0.7"/><line x1="473.7" y1="464.5" x2="473.7" y2="633.5" stroke="#e8e8e8" stroke-width="0.7"/><line x1="484" y1="464.5" x2="484" y2="633.5" stroke="#e8e8e8" stroke-width="0.7"/><line x1="492.4" y1="464.5" x2="492.4" y2="633.5" stroke="#e8e8e8" stroke-width="0.7"/><line x1="499.5" y1="464.5" x2="499.5" y2="633.5" stroke="#e8e8e8" stroke-width="0.7"/><line x1="505.7" y1="464.5" x2="505.7" y2="633.5" stroke="#e8e8e8" stroke-width="0.7"/><line x1="511.1" y1="464.5" x2="511.1" y2="633.5" stroke="#e8e8e8" stroke-width="0.7"/><line x1="516" y1="464.5" x2="516" y2="633.5" stroke="#e8e8e8" stroke-width="0.7"/><line x1="548" y1="464.5" x2="548" y2="633.5" stroke="#e8e8e8" stroke-width="0.7"/><line x1="566.7" y1="464.5" x2="566.7" y2="633.5" stroke="#e8e8e8" stroke-width="0.7"/><line x1="579.9" y1="464.5" x2="579.9" y2="633.5" stroke="#e8e8e8" stroke-width="0.7"/><line x1="590.2" y1="464.5" x2="590.2" y2="633.5" stroke="#e8e8e8" stroke-width="0.7"/><line x1="598.6" y1="464.5" x2="598.6" y2="633.5" stroke="#e8e8e8" stroke-width="0.7"/><line x1="605.7" y1="464.5" x2="605.7" y2="633.5" stroke="#e8e8e8" stroke-width="0.7"/><line x1="611.9" y1="464.5" x2="611.9" y2="633.5" stroke="#e8e8e8" stroke-width="0.7"/><line x1="617.3" y1="464.5" x2="617.3" y2="633.5" stroke="#e8e8e8" stroke-width="0.7"/><line x1="622.2" y1="464.5" x2="622.2" y2="633.5" stroke="#e8e8e8" stroke-width="0.7"/><clipPath id="cf"><rect x="304.5" y="464.5" width="350.0" height="169.0"/></clipPath><g clip-path="url(#cf)"><path d="M304.4,582 310.2,600.9 315.8,604.9 320.5,625.4 324.9,597 328.9,610.4 332.6,600.9 336.6,600.2 339.1,610.4 342.3,591.5 345.2,626.2 347.8,585.2 352.8,613.6 356.8,596.2 361.5,624.6 365,593.1 367.4,612 369.7,578.9 372.1,597.8 374.5,612 377.6,613.6 380.8,613.6 383.9,621.4 386.3,608.8 387.9,615.1 389.9,597.8 391.8,618.3 394.2,608.8 396.5,605.7 398.9,621.4 400.9,548.1 402.8,602.5 405.2,615.1 408.4,612 410.7,572.6 412.3,612 414.7,578.9 416.2,621.4 418.6,559.2 420.2,626.2 421.8,585.2 424.1,624.6 426.5,589.9 428.9,612 432,578.9 434.4,612 434,611 434.4,624.7 434.8,597.5 435.3,628.1 435.7,606.6 436.1,627.8 436.5,596.3 436.9,627.9 437.4,600.4 437.8,624.4 438.2,591.1 438.6,628.6 439,592.2 439.5,627.2 439.9,604.5 440.3,613.7 440.7,606.9 441.1,621.5 441.6,600.1 442,616.3 442.4,603.9 442.8,616.4 443.2,591.1 443.7,618.5 444.1,593.5 444.5,627 444.9,594.9 445.3,627.3 445.8,598.1 446.2,628.5 446.6,604.2 447,624.6 447.4,597.9 447.9,613.4 448.3,591.2 448.7,617.3 449.1,604.8 449.5,620.7 450,599.9 450.4,628.2 450.8,607.1 451.2,621.1 451.6,596.8 452.1,624.6 452.5,592.4 452.9,612.6 453.3,606.9 453.7,617 454.2,601.9 454.6,621.8 455,608.5 455.4,612.8 455.8,608.5 456.3,625.5 456.7,596.3 457.1,623.3 457.5,600.7 457.9,626.3 458.4,603.2 458.8,620.4 459.2,610.1 459.6,627.8 460,596 460.5,613 460.9,595.1 461.3,617.7 461.7,590.6 462.1,628.6 462.6,603.1 463,627.5 463.4,609.9 463.8,615.5 464.2,609.7 464.7,627.1 465.1,606.8 465.5,626 465.9,607 466.3,619.2 466.8,599.9 467.2,624.5 467.6,599.9 468,623.5 468.4,595.9 468.9,627.9 469.3,608.1 469.7,618.1 470.1,591.2 470.4,621.4 470.8,607.2 471.1,628 471.4,601.9 471.7,624.8 472,604.3 472.4,618.8 472.7,599.4 473,617.3 473.3,595.4 473.6,628.6 474,597.9 474.3,626.5 474.6,606.4 474.9,625 475.2,602.3 475.6,624.7 475.9,606.5 476.2,625.3 476.5,596.1 476.8,617.5 477.2,609.2 477.5,620.5 477.8,600.6 478.1,613.7 478.4,604.8 478.8,628.6 479.1,600.5 479.4,623.3 479.7,577.9 480,617.7 480.4,604.3 480.7,621.3 481,602.1 481.3,626.8 481.6,597.9 482,622.1 482.3,603.8 482.6,621.4 482.9,606.6 483.2,622 483.6,590.8 483.9,622.4 484.2,592.5 484.5,624.6 484.8,596.3 485.2,626.9 485.5,601.8 485.8,626.7 486.1,595.7 486.4,613.1 486.8,596.1 487.1,612.4 487.4,593.7 487.7,626.6 488,600.1 488.4,627.8 488.7,609.4 489,628.5 489.3,601.8 489.6,623.8 490,607.4 490.3,616.6 490.6,601.1 490.9,623.1 491.2,595.9 491.6,616.1 491.9,595.1 492.2,627.5 492.5,608.4 492.8,628.4 493.2,598.3 493.5,625.6 493.8,602.1 494.1,613.3 494.4,595.9 494.8,628.5 495.1,594.9 495.4,624.4 495.7,593.1 496,614.1 496.4,594.7 496.7,624 497,598.5 497.3,623.5 497.6,607.3 498,615 498.3,591.9 498.6,624.7 498.9,605.4 499.2,612.8 499.6,601.3 499.9,626.3 500.2,600.9 500.5,625.3 500.8,606.2 501.2,626.4 501.5,591 501.8,617.6 502.1,607.9 502.4,626.4 502.8,593.7 503.1,628.3 503.4,608.1 503.7,621.9 504,599.8 504.4,618.9 504.7,599.9 505,620.8 505.3,603.5 505.6,621.8 506,593.7 506.3,618.6 506.6,597.1 506.9,614.6 507.2,598.4 507.6,617.3 507.9,604.5 508.2,616.8 508.5,597.4 508.8,615.2 509.2,589.3 509.5,628.3 509.8,597 510.1,612.4 510.4,599.9 510.8,616.1 511.1,591.5 511.4,623.5 511.7,606.2 512,627.8 512.4,591.3 512.7,624.5 513,590.9 513.3,625.3 513.6,599.3 514,627.3 514.3,607.1 514.6,627.6 514.9,594.9 515.2,620.9 515.6,602.6 515.9,616.8 516.2,608.4 516.5,620 516.8,582.7 517.2,582.7 517.5,592.6 517.8,625.2 518.1,606 518.4,624.1 518.8,603.5 519.1,625.9 519.4,592.3 519.7,624.3 520,598.9 520.4,628.5 520.7,608.3 521,612 521.3,591.4 521.6,613.8 522,602.9 522.3,614.4 522.6,596.8 522.9,624.4 523.2,600.9 523.6,613.9 523.9,606.2 524.2,627.6 524.5,597.8 524.8,620.4 525.2,606.6 525.5,618.7 525.8,607.5 526.1,618.3 526.4,599.2 526.8,626 527.1,599.7 527.4,625.1 527.7,595.8 528,611.5 528.4,588.9 528.7,616.7 529,572.6 529.3,619.5 529.6,588.6 530,621.2 530.3,601.7 530.6,613.8 530.9,585.6 531.2,620.1 531.6,604.5 531.9,617 532.2,589.9 532.5,614.3 532.8,582.8 533.2,618.7 533.5,580.5 533.8,609.2 534.1,586.6 534.4,622.1 534.8,567.3 535.1,597.1 535.4,554.9 535.7,620.2 536,547 536.4,619.6 536.7,555.2 537,622.2 537.3,545.3 537.6,614.6 538,537.8 538.3,584.5 538.6,552.5 538.9,600.3 539.2,531.2 539.6,617.3 539.9,549 540.2,580.2 540.5,522.3 540.8,599.9 541.2,544 541.5,581.8 541.8,530.9 542.1,608.3 542.4,523.2 542.8,608.7 543.1,498.4 543.4,606.3 543.7,501.6 544,583.3 544.4,485.7 544.7,620.4 545,513.9 545.3,568.5 545.6,503.1 546,611.7 546.3,464.4 546.6,464.4 546.9,531.8 547.2,624 547.6,514.4 547.9,607.1 548.2,527.7 548.5,608.9 548.8,523.5 549.2,589.7 549.5,494 549.8,611 550.1,488.8 550.4,624.9 550.8,503.2 551.1,622 551.4,531.4 551.7,602.8 552,540.1 552.4,624.7 552.7,538 553,613.5 553.3,505.7 553.6,617.4 554,533 554.3,587.8 554.6,499.2 554.9,567.9 555.2,533 555.6,622.4 555.9,519.1 556.2,571.6 556.5,525 556.8,593.1 557.2,574.1 557.5,619.3 557.8,578 558.1,626.5 558.4,593.8 558.8,617 559.1,594.9 559.4,621.5 559.7,599.3 560,617.8 560.4,606.1 560.7,629.6 561,610.6 561.3,630.9 561.6,604 562,625.9 562.3,607 562.6,621.4 562.9,606.2 563.2,628.1 563.6,607.2 563.9,630.8 564.2,610.3 564.5,628.6 564.8,603.5 565.2,623.3 565.5,598.4 565.8,626.7 566.1,595.2 566.4,626.2 566.8,594.8 567.1,626.2 567.4,574.6 567.7,612.1 568,582.9 568.4,621.4 568.7,567.6 569,628.8 569.3,571.9 569.6,616.7 570,571.9 570.3,601 570.6,573.7 570.9,601.2 571.2,552.9 571.6,622.3 571.9,560.9 572.2,599.6 572.5,545.3 572.8,628.1 573.2,555.7 573.5,631.1 573.8,548.1 574.1,621.2 574.4,559.5 574.8,609.2 575.1,563.2 575.4,630.4 575.7,549.8 576,601.3 576.4,551.8 576.7,617.3 577,556.4 577.3,604.2 577.6,576.1 578,626.9 578.3,569.9 578.6,611.6 578.9,571.9 579.2,610.7 579.6,574.9 579.9,603 580.2,571.7 580.5,618.2 580.8,568.4 581.2,609.5 581.5,571.1 581.8,629.5 582.1,575 582.4,620 582.8,584.2 583.1,610.6 583.4,580.1 583.7,607.3 584,579.9 584.4,606.6 584.7,573.8 585,625.8 585.3,575.4 585.6,632.5 586,588.6 586.3,620.8 586.6,585 586.9,625.8 587.2,578.1 587.6,624.2 587.9,580.7 588.2,616.5 588.5,577.4 588.8,631.7 589.2,578.4 589.5,616.9 589.8,590.1 590.1,632 590.4,591.4 590.8,631.9 591.1,585.5 591.4,609.6 591.7,587.7 592,629.3 592.4,593.8 592.7,611.1 593,588.3 593.3,630 593.6,583.2 594,626.7 594.3,582.8 594.6,624.8 594.9,595.1 595.2,630.9 595.6,599.4 595.9,617.5 596.2,595.3 596.5,620 596.8,588.2 597.2,627.5 597.5,593.9 597.8,620.6 598.1,592.6 598.4,628.4 598.8,599.7 599.1,629.7 599.4,602.7 599.7,623.3 600,594.8 600.4,620.3 600.7,598.3 601,621.5 601.3,597.4 601.6,618.9 602,598.2 602.3,623.2 602.6,598.2 602.9,631.1 603.2,605.4 603.6,620.5 603.9,598.5 604.2,626.8 604.5,596.5 604.8,631.4 605.2,599.4 605.5,627.1 605.8,607.3 606.1,631.9 606.4,608.7 606.8,631.4 607.1,601.1 607.4,627.9 607.7,609.6 608,627.8 608.4,600.5 608.7,623.1 609,608.1 609.3,628.2 609.6,608.1 610,631.2 610.3,605.9 610.6,632.6 610.9,608.3 611.2,621.6 611.6,606.4 611.9,626.3 612.2,606.4 612.5,621.8 612.8,612 613.2,622.2 613.5,607.4 613.8,628.8 614.1,614.4 614.4,628.5 614.8,612.1 615.1,622.4 615.4,614.7 615.7,626.6 616,611.5 616.4,628.2 616.7,615.7 617,624.7 617.3,616.5 617.6,625.6 618,612.9 618.3,629.4 618.6,619 618.9,631.5 619.2,619.5 619.6,632.1 619.9,618.3 620.2,629.4 620.5,616.4 620.8,632.6 621.2,617.5 621.5,632.5 621.8,618.3 622.1,632.7 622.4,620.4 622.8,626.8 623.1,618.1 623.4,632.7 623.7,620.7 624,627.2 624.4,622 624.7,630.8 625,621.8 625.3,631.8 625.6,621 626,632.4 626.3,622.7 626.6,627.1 626.9,620.2 627.2,630.1 627.6,623.3 627.9,632.5 628.2,621.4 628.5,630.1 628.8,624.2 629.2,627.7 629.5,622.9 629.8,632 630.1,622.1 630.4,628.3 630.8,623.4 631.1,630.9 631.4,624.7 631.7,631.2 632,621.5 632.4,628.3 632.7,623.8 633,628.9 633.3,621.5 633.6,632 634,622.2 634.3,632.1 634.6,622 634.9,628.8 635.2,622.1 635.6,631.6 635.9,623.3 636.2,630.1 636.5,623.8 636.8,632.8 637.2,623.7 637.5,629.7 637.8,623.9 638.1,629.2 638.4,623 638.8,630.7 639.1,625.2 639.4,631.3 639.7,625.9 640,632.4 640.4,623.5 640.7,631.7 641,625.2 641.3,629.6 641.6,624.4 642,632.8 642.3,625.7 642.6,631.4 642.9,626.3 643.2,630.4 643.6,625.4 643.9,630 644.2,626.9 644.5,632.6 644.8,626.6 645.2,631.6 645.5,626.8 645.8,631.6 646.1,626.7 646.4,632.8 646.8,592.8 647.1,631.6 647.4,625.6 647.7,631.7 648,625.9 648.4,631.4 648.7,626.9 649,630.1 649.3,627.4 649.6,630 650,627 650.3,630.2 650.6,628.3 650.9,631.8 651.2,627.9 651.6,630.9 651.9,626.8 652.2,630.8 652.5,628 652.8,632.9 653.2,626.9 653.5,632.7 653.8,627.3 654.1,631.8 654.4,627.6 654.8,631.5 655.1,628.7 655.4,632.3" fill="none" stroke="#3a3a3a" stroke-width="0.9"/><path d="M304.4,600.2 310.2,611.2 315.8,585.2 320.5,612 324.9,589.9 328.9,617.5 332.6,603.3 336.6,607.3 339.4,600.9 342.3,577.3 345.2,599.4 347.8,560.7 352.8,612 356.8,586 360.7,628.5 364.6,589.9 366.2,580.4 367.4,540 369,489.7 369.8,489.7 371.3,569.4 373.7,615.1 376.8,589.9 379.5,563.1 381.6,608.8 383.6,589.9 384.7,621.4 385.8,582.8 387.9,613.6 390.2,599.4 391.8,615.1 394.2,629.3 396.2,591.5 398.1,604.1 399.4,572.6 401.6,629.3 403.6,589.9 405.2,615.1 406.3,578.9 408.4,572.6 409.9,618.3 411.5,577.3 413.1,624.6 415.1,586.8 417,630.9 419.4,578.9 421.8,627.7 423.6,589.9 425.7,624.6 428.1,591.5 429.6,586.8 431.2,621.4 433.6,593.1 434,605.5 434.4,624.2 434.8,586 435.3,616 435.7,604.9 436.1,612.9 436.5,594.9 436.9,611.9 437.4,563.9 437.8,626.5 438.2,607.1 438.6,612.9 439,587.4 439.5,625.6 439.9,605.3 440.3,609.3 440.7,604.6 441.1,627.3 441.6,606 442,623.4 442.4,603.3 442.8,610.6 443.2,603.2 443.7,615.4 444.1,593.6 444.5,614.7 444.9,593.1 445.3,623.8 445.8,601.3 446.2,608.9 446.6,596.9 447,621.1 447.4,587.7 447.9,616.3 448.3,604.9 448.7,617.2 449.1,605.9 449.5,622.8 450,602.4 450.4,627.3 450.8,584.2 451.2,609.8 451.6,595.2 452.1,612.2 452.5,592.2 452.9,620.5 453.3,601.6 453.7,615.7 454.2,602.3 454.6,620.4 455,592.4 455.4,617.5 455.8,603.6 456.3,627.3 456.7,606.3 457.1,618.7 457.5,583.6 457.9,624 458.4,583.6 458.8,621.5 459.2,604.9 459.6,626 460,598 460.5,615.9 460.9,583.2 461.3,614.2 461.7,592.7 462.1,610.9 462.6,597.7 463,627.2 463.4,583.4 463.8,627.3 464.2,585.4 464.7,616.8 465.1,588.2 465.5,626.6 465.9,599 466.3,608.8 466.8,601.1 467.2,621.5 467.6,561.1 468,624.9 468.4,593.4 468.9,626.8 469.3,585.2 469.7,609 470.1,585.6 470.4,626.9 470.8,592.3 471.1,620.5 471.4,605 471.7,608.5 472,582.8 472.4,623.9 472.7,589.2 473,625.8 473.3,582.6 473.6,623.1 474,606.1 474.3,614.8 474.6,602.2 474.9,615.5 475.2,584.1 475.6,621.1 475.9,591 476.2,626.4 476.5,599.8 476.8,625.6 477.2,604.4 477.5,625.3 477.8,585.8 478.1,609.1 478.4,586.7 478.8,626.1 479.1,592.5 479.4,619.8 479.7,603.5 480,614.6 480.4,595.6 480.7,610.2 481,599.2 481.3,616.3 481.6,606.4 482,626.2 482.3,587.1 482.6,626.8 482.9,583.1 483.2,618.2 483.6,592.5 483.9,608.5 484.2,599 484.5,620.7 484.8,594.8 485.2,611 485.5,594.3 485.8,611.8 486.1,585.2 486.4,610.5 486.8,597.7 487.1,623.3 487.4,591.5 487.7,615.1 488,590.8 488.4,616.8 488.7,592.1 489,619.5 489.3,489.8 489.6,489.8 490,585.6 490.3,616.6 490.6,590.8 490.9,611.5 491.2,589.1 491.6,617.9 491.9,597.6 492.2,616.5 492.5,601.9 492.8,609.6 493.2,604.3 493.5,615.7 493.8,596.2 494.1,626.9 494.4,602.2 494.8,617.7 495.1,602 495.4,621.5 495.7,592.6 496,625.7 496.4,590.4 496.7,619.2 497,582.8 497.3,612.4 497.6,588 498,626.5 498.3,587.6 498.6,623.3 498.9,602.7 499.2,616.6 499.6,597.2 499.9,626.7 500.2,602.6 500.5,614.4 500.8,603.1 501.2,621.1 501.5,600.8 501.8,614.9 502.1,600.2 502.4,626.8 502.8,593.2 503.1,621.4 503.4,601.3 503.7,624.5 504,595.8 504.4,621.8 504.7,593.3 505,616.7 505.3,582.2 505.6,621.4 506,585.2 506.3,609.1 506.6,582.2 506.9,609.3 507.2,586.9 507.6,626.3 507.9,593.8 508.2,624.6 508.5,596.9 508.8,627.2 509.2,599.4 509.5,627 509.8,602.2 510.1,608.5 510.4,600.4 510.8,627.1 511.1,561.6 511.4,627 511.7,601.1 512,624.5 512.4,603.6 512.7,625.6 513,600 513.3,622.9 513.6,600.6 514,611.4 514.3,584.4 514.6,615.5 514.9,595 515.2,625.6 515.6,594.7 515.9,609.3 516.2,600.8 516.5,614.9 516.8,589.2 517.2,627.1 517.5,602.1 517.8,618 518.1,581.5 518.4,625.3 518.8,602 519.1,627.3 519.4,582.8 519.7,618.1 520,584.4 520.4,626.6 520.7,589.8 521,627 521.3,593.9 521.6,613.3 522,562 522.3,618.9 522.6,595 522.9,617.7 523.2,593.5 523.6,618 523.9,586.2 524.2,626 524.5,585.8 524.8,620.5 525.2,600.1 525.5,620.8 525.8,594.1 526.1,622.4 526.4,594 526.8,617.9 527.1,603.8 527.4,608.7 527.7,586.9 528,611.2 528.4,595.9 528.7,615.6 529,599.3 529.3,611.8 529.6,592.6 530,622.4 530.3,585.7 530.6,613.7 530.9,578.6 531.2,610.5 531.6,593.4 531.9,610.6 532.2,573.3 532.5,604.1 532.8,569.5 533.2,621.9 533.5,578 533.8,621.1 534.1,558.6 534.4,605.2 534.8,559.2 535.1,619.8 535.4,556.7 535.7,601.2 536,562 536.4,588 536.7,532.6 537,584.6 537.3,516.8 537.6,604.6 538,536 538.3,610.1 538.6,523.4 538.9,597 539.2,527.3 539.6,612.9 539.9,512.7 540.2,585.6 540.5,533.6 540.8,572.6 541.2,503 541.5,601 541.8,505.6 542.1,577.8 542.4,509.8 542.8,610.4 543.1,518.3 543.4,609.1 543.7,511.8 544,612.9 544.4,464.4 544.7,464.4 545,464.4 545.3,599.4 545.6,467.5 546,616 546.3,470.9 546.6,573.1 546.9,481.9 547.2,577.7 547.6,500.9 547.9,619 548.2,482 548.5,561.5 548.8,493.3 549.2,576.2 549.5,476.9 549.8,464.4 550.1,464.4 550.4,585.8 550.8,503.7 551.1,603.3 551.4,491.2 551.7,616.6 552,493.8 552.4,612.2 552.7,523.4 553,610.2 553.3,488 553.6,591.1 554,505 554.3,605.9 554.6,482.2 554.9,570.3 555.2,512.1 555.6,618.3 555.9,499.9 556.2,617.9 556.5,522.7 556.8,617.5 557.2,566 557.5,626.3 557.8,574.1 558.1,620.4 558.4,585.1 558.8,610.9 559.1,586.2 559.4,623.7 559.7,600.6 560,622.8 560.4,603.1 560.7,624.1 561,598.7 561.3,621.2 561.6,598.1 562,620.2 562.3,600.5 562.6,616.6 562.9,600.9 563.2,621.4 563.6,601.6 563.9,617.2 564.2,603.1 564.5,627 564.8,600.4 565.2,629 565.5,589.5 565.8,622.6 566.1,588.3 566.4,616.7 566.8,574.6 567.1,617.4 567.4,577.5 567.7,619.3 568,579.8 568.4,622.2 568.7,575 569,614.3 569.3,569 569.6,626.8 570,542.9 570.3,606.6 570.6,556.7 570.9,631.2 571.2,529.2 571.6,618.7 571.9,556.1 572.2,613.7 572.5,525.9 572.8,609.3 573.2,543 573.5,614 573.8,542.4 574.1,588.4 574.4,529.8 574.8,627.7 575.1,538.7 575.4,599.5 575.7,554.6 576,629.8 576.4,545 576.7,610.4 577,552 577.3,615.7 577.6,549.1 578,608.8 578.3,566.2 578.6,624.5 578.9,566.4 579.2,628.2 579.6,546 579.9,613.8 580.2,549.8 580.5,622.7 580.8,568.2 581.2,631.3 581.5,554.4 581.8,603.8 582.1,557.1 582.4,628.6 582.8,557.7 583.1,603.5 583.4,570.7 583.7,620.6 584,555.3 584.4,629.3 584.7,564.9 585,610.3 585.3,568.4 585.6,604.7 586,571.1 586.3,630.3 586.6,575.2 586.9,626.9 587.2,572.8 587.6,625.4 587.9,566.5 588.2,617.7 588.5,568.2 588.8,618.8 589.2,584.9 589.5,630.1 589.8,584.6 590.1,615.3 590.4,580.4 590.8,611.6 591.1,570.5 591.4,610.9 591.7,576.2 592,629.2 592.4,588.6 592.7,623.2 593,575.5 593.3,611 593.6,590.2 594,632 594.3,584.6 594.6,620.6 594.9,587.1 595.2,618.3 595.6,579.9 595.9,614.1 596.2,577.8 596.5,630.6 596.8,578.5 597.2,631.9 597.5,585.2 597.8,616.7 598.1,594.4 598.4,629.3 598.8,585.6 599.1,626.2 599.4,595.9 599.7,632.1 600,588.6 600.4,631.3 600.7,596.6 601,629.6 601.3,591.4 601.6,631.9 602,595.3 602.3,629.4 602.6,597.2 602.9,619.7 603.2,594.8 603.6,619 603.9,588.9 604.2,615 604.5,599.5 604.8,622.1 605.2,601.6 605.5,632.3 605.8,595.6 606.1,625.6 606.4,602.6 606.8,629.7 607.1,596.2 607.4,624.4 607.7,604.6 608,619.3 608.4,606.4 608.7,628.3 609,599.9 609.3,630.6 609.6,606 610,626.7 610.3,598.2 610.6,631.5 610.9,607.9 611.2,630 611.6,599.3 611.9,632.3 612.2,604.1 612.5,625.3 612.8,601.3 613.2,631.8 613.5,604.2 613.8,628.8 614.1,603.7 614.4,621.2 614.8,607.2 615.1,626.4 615.4,612.6 615.7,630.5 616,606.3 616.4,626.7 616.7,612.7 617,631.6 617.3,608.9 617.6,625.1 618,611.2 618.3,625.1 618.6,615.3 618.9,629.2 619.2,611.2 619.6,626.8 619.9,615.5 620.2,630.4 620.5,613 620.8,627.7 621.2,618.3 621.5,630.9 621.8,618.5 622.1,630.9 622.4,617.6 622.8,632.5 623.1,620.5 623.4,627.8 623.7,618.2 624,632.5 624.4,618.4 624.7,628.8 625,619.3 625.3,631.9 625.6,616.7 626,627.5 626.3,619 626.6,628.8 626.9,618.4 627.2,629.7 627.6,620.4 627.9,631 628.2,621.2 628.5,631.2 628.8,622.2 629.2,628.1 629.5,621.4 629.8,632.6 630.1,622.1 630.4,628.2 630.8,620.5 631.1,632.1 631.4,623.1 631.7,631.1 632,621 632.4,629.9 632.7,623.1 633,628.8 633.3,620.1 633.6,630.4 634,619.7 634.3,632 634.6,623 634.9,632.1 635.2,620.5 635.6,628.4 635.9,623.5 636.2,629.4 636.5,623.1 636.8,628.9 637.2,623.4 637.5,630.2 637.8,622.4 638.1,630.3 638.4,621.6 638.8,630.3 639.1,624.2 639.4,631.6 639.7,624.2 640,630.9 640.4,623.8 640.7,631 641,624.3 641.3,629.4 641.6,624 642,631.2 642.3,624.2 642.6,631.1 642.9,624.7 643.2,631.3 643.6,626 643.9,631.2 644.2,625.5 644.5,631.7 644.8,626 645.2,632.6 645.5,625.3 645.8,630.8 646.1,626.6 646.4,629.3 646.8,603 647.1,632.1 647.4,626.2 647.7,629.3 648,624.5 648.4,629.3 648.7,625.1 649,630.3 649.3,627 649.6,632.2 650,625 650.3,631.8 650.6,627.2 650.9,631.9 651.2,626.5 651.6,631 651.9,626.2 652.2,631.7 652.5,627.4 652.8,631.4 653.2,626.5 653.5,632.1 653.8,625.8 654.1,631.9 654.4,628.1 654.8,632.1 655.1,627.2 655.4,632.2" fill="none" stroke="#f51c12" stroke-width="1.0"/></g><rect x="304.5" y="464.5" width="350" height="169" fill="none" stroke="#3a3a3a" stroke-width="1"/><line x1="304.5" y1="633.4" x2="308.5" y2="633.4" stroke="#3a3a3a" stroke-width="1"/><line x1="654.5" y1="633.4" x2="650.5" y2="633.4" stroke="#3a3a3a" stroke-width="1"/><line x1="304.5" y1="599.6" x2="308.5" y2="599.6" stroke="#3a3a3a" stroke-width="1"/><line x1="654.5" y1="599.6" x2="650.5" y2="599.6" stroke="#3a3a3a" stroke-width="1"/><line x1="304.5" y1="565.8" x2="308.5" y2="565.8" stroke="#3a3a3a" stroke-width="1"/><line x1="654.5" y1="565.8" x2="650.5" y2="565.8" stroke="#3a3a3a" stroke-width="1"/><line x1="304.5" y1="532" x2="308.5" y2="532" stroke="#3a3a3a" stroke-width="1"/><line x1="654.5" y1="532" x2="650.5" y2="532" stroke="#3a3a3a" stroke-width="1"/><line x1="304.5" y1="498.2" x2="308.5" y2="498.2" stroke="#3a3a3a" stroke-width="1"/><line x1="654.5" y1="498.2" x2="650.5" y2="498.2" stroke="#3a3a3a" stroke-width="1"/><line x1="304.5" y1="464.4" x2="308.5" y2="464.4" stroke="#3a3a3a" stroke-width="1"/><line x1="654.5" y1="464.4" x2="650.5" y2="464.4" stroke="#3a3a3a" stroke-width="1"/><line x1="409.8" y1="633.5" x2="409.8" y2="629.5" stroke="#3a3a3a" stroke-width="1"/><line x1="409.8" y1="464.5" x2="409.8" y2="468.5" stroke="#3a3a3a" stroke-width="1"/><line x1="516" y1="633.5" x2="516" y2="629.5" stroke="#3a3a3a" stroke-width="1"/><line x1="516" y1="464.5" x2="516" y2="468.5" stroke="#3a3a3a" stroke-width="1"/><line x1="622.2" y1="633.5" x2="622.2" y2="629.5" stroke="#3a3a3a" stroke-width="1"/><line x1="622.2" y1="464.5" x2="622.2" y2="468.5" stroke="#3a3a3a" stroke-width="1"/><line x1="335.6" y1="633.5" x2="335.6" y2="631.5" stroke="#3a3a3a" stroke-width="1"/><line x1="335.6" y1="464.5" x2="335.6" y2="466.5" stroke="#3a3a3a" stroke-width="1"/><line x1="354.3" y1="633.5" x2="354.3" y2="631.5" stroke="#3a3a3a" stroke-width="1"/><line x1="354.3" y1="464.5" x2="354.3" y2="466.5" stroke="#3a3a3a" stroke-width="1"/><line x1="367.5" y1="633.5" x2="367.5" y2="631.5" stroke="#3a3a3a" stroke-width="1"/><line x1="367.5" y1="464.5" x2="367.5" y2="466.5" stroke="#3a3a3a" stroke-width="1"/><line x1="377.8" y1="633.5" x2="377.8" y2="631.5" stroke="#3a3a3a" stroke-width="1"/><line x1="377.8" y1="464.5" x2="377.8" y2="466.5" stroke="#3a3a3a" stroke-width="1"/><line x1="386.2" y1="633.5" x2="386.2" y2="631.5" stroke="#3a3a3a" stroke-width="1"/><line x1="386.2" y1="464.5" x2="386.2" y2="466.5" stroke="#3a3a3a" stroke-width="1"/><line x1="393.3" y1="633.5" x2="393.3" y2="631.5" stroke="#3a3a3a" stroke-width="1"/><line x1="393.3" y1="464.5" x2="393.3" y2="466.5" stroke="#3a3a3a" stroke-width="1"/><line x1="399.5" y1="633.5" x2="399.5" y2="631.5" stroke="#3a3a3a" stroke-width="1"/><line x1="399.5" y1="464.5" x2="399.5" y2="466.5" stroke="#3a3a3a" stroke-width="1"/><line x1="404.9" y1="633.5" x2="404.9" y2="631.5" stroke="#3a3a3a" stroke-width="1"/><line x1="404.9" y1="464.5" x2="404.9" y2="466.5" stroke="#3a3a3a" stroke-width="1"/><line x1="441.8" y1="633.5" x2="441.8" y2="631.5" stroke="#3a3a3a" stroke-width="1"/><line x1="441.8" y1="464.5" x2="441.8" y2="466.5" stroke="#3a3a3a" stroke-width="1"/><line x1="460.5" y1="633.5" x2="460.5" y2="631.5" stroke="#3a3a3a" stroke-width="1"/><line x1="460.5" y1="464.5" x2="460.5" y2="466.5" stroke="#3a3a3a" stroke-width="1"/><line x1="473.7" y1="633.5" x2="473.7" y2="631.5" stroke="#3a3a3a" stroke-width="1"/><line x1="473.7" y1="464.5" x2="473.7" y2="466.5" stroke="#3a3a3a" stroke-width="1"/><line x1="484" y1="633.5" x2="484" y2="631.5" stroke="#3a3a3a" stroke-width="1"/><line x1="484" y1="464.5" x2="484" y2="466.5" stroke="#3a3a3a" stroke-width="1"/><line x1="492.4" y1="633.5" x2="492.4" y2="631.5" stroke="#3a3a3a" stroke-width="1"/><line x1="492.4" y1="464.5" x2="492.4" y2="466.5" stroke="#3a3a3a" stroke-width="1"/><line x1="499.5" y1="633.5" x2="499.5" y2="631.5" stroke="#3a3a3a" stroke-width="1"/><line x1="499.5" y1="464.5" x2="499.5" y2="466.5" stroke="#3a3a3a" stroke-width="1"/><line x1="505.7" y1="633.5" x2="505.7" y2="631.5" stroke="#3a3a3a" stroke-width="1"/><line x1="505.7" y1="464.5" x2="505.7" y2="466.5" stroke="#3a3a3a" stroke-width="1"/><line x1="511.1" y1="633.5" x2="511.1" y2="631.5" stroke="#3a3a3a" stroke-width="1"/><line x1="511.1" y1="464.5" x2="511.1" y2="466.5" stroke="#3a3a3a" stroke-width="1"/><line x1="548" y1="633.5" x2="548" y2="631.5" stroke="#3a3a3a" stroke-width="1"/><line x1="548" y1="464.5" x2="548" y2="466.5" stroke="#3a3a3a" stroke-width="1"/><line x1="566.7" y1="633.5" x2="566.7" y2="631.5" stroke="#3a3a3a" stroke-width="1"/><line x1="566.7" y1="464.5" x2="566.7" y2="466.5" stroke="#3a3a3a" stroke-width="1"/><line x1="579.9" y1="633.5" x2="579.9" y2="631.5" stroke="#3a3a3a" stroke-width="1"/><line x1="579.9" y1="464.5" x2="579.9" y2="466.5" stroke="#3a3a3a" stroke-width="1"/><line x1="590.2" y1="633.5" x2="590.2" y2="631.5" stroke="#3a3a3a" stroke-width="1"/><line x1="590.2" y1="464.5" x2="590.2" y2="466.5" stroke="#3a3a3a" stroke-width="1"/><line x1="598.6" y1="633.5" x2="598.6" y2="631.5" stroke="#3a3a3a" stroke-width="1"/><line x1="598.6" y1="464.5" x2="598.6" y2="466.5" stroke="#3a3a3a" stroke-width="1"/><line x1="605.7" y1="633.5" x2="605.7" y2="631.5" stroke="#3a3a3a" stroke-width="1"/><line x1="605.7" y1="464.5" x2="605.7" y2="466.5" stroke="#3a3a3a" stroke-width="1"/><line x1="611.9" y1="633.5" x2="611.9" y2="631.5" stroke="#3a3a3a" stroke-width="1"/><line x1="611.9" y1="464.5" x2="611.9" y2="466.5" stroke="#3a3a3a" stroke-width="1"/><line x1="617.3" y1="633.5" x2="617.3" y2="631.5" stroke="#3a3a3a" stroke-width="1"/><line x1="617.3" y1="464.5" x2="617.3" y2="466.5" stroke="#3a3a3a" stroke-width="1"/><line x1="654.2" y1="633.5" x2="654.2" y2="631.5" stroke="#3a3a3a" stroke-width="1"/><line x1="654.2" y1="464.5" x2="654.2" y2="466.5" stroke="#3a3a3a" stroke-width="1"/><text x="300.5" y="637" font-size="10.3" text-anchor="end" fill="#1a1a1a">0</text><text x="300.5" y="603.2" font-size="10.3" text-anchor="end" fill="#1a1a1a">0.2</text><text x="300.5" y="569.4" font-size="10.3" text-anchor="end" fill="#1a1a1a">0.4</text><text x="300.5" y="535.6" font-size="10.3" text-anchor="end" fill="#1a1a1a">0.6</text><text x="300.5" y="501.8" font-size="10.3" text-anchor="end" fill="#1a1a1a">0.8</text><text x="300.5" y="468" font-size="10.3" text-anchor="end" fill="#1a1a1a">1</text><text x="406.3" y="647.6" font-size="10.3" text-anchor="middle" fill="#1a1a1a">10</text><text x="412" y="643.3" font-size="7.3" text-anchor="start" fill="#1a1a1a">−4</text><text x="512.5" y="647.6" font-size="10.3" text-anchor="middle" fill="#1a1a1a">10</text><text x="518.2" y="643.3" font-size="7.3" text-anchor="start" fill="#1a1a1a">−3</text><text x="618.7" y="647.6" font-size="10.3" text-anchor="middle" fill="#1a1a1a">10</text><text x="624.4" y="643.3" font-size="7.3" text-anchor="start" fill="#1a1a1a">−2</text><text x="479.4" y="662.1" font-size="11.8" text-anchor="middle" fill="#1a1a1a">Normalized frequency (a.u.)</text><text x="282" y="549.5" font-size="11.8" text-anchor="middle" fill="#1a1a1a" transform="rotate(-90 282 549.5)">Normalized spectral intensity (a.u.)</text><rect x="594.2" y="469.6" width="51.4" height="16.9" fill="#fff" stroke="#222" stroke-width="1"/><line x1="595.6" y1="477.6" x2="608.8" y2="477.6" stroke="#333" stroke-width="1.2"/><text x="610.5" y="480.6" font-size="11.6" text-anchor="start" fill="#1a1a1a">I</text><text x="613.6" y="483.3" font-size="8.5" text-anchor="start" fill="#1a1a1a">x</text><line x1="620.7" y1="477.6" x2="633.5" y2="477.6" stroke="#f01c10" stroke-width="1.2"/><text x="635.4" y="480.6" font-size="11.6" text-anchor="start" fill="#1a1a1a">I</text><text x="638.5" y="483.3" font-size="8.5" text-anchor="start" fill="#1a1a1a">y</text></svg></body></html>
